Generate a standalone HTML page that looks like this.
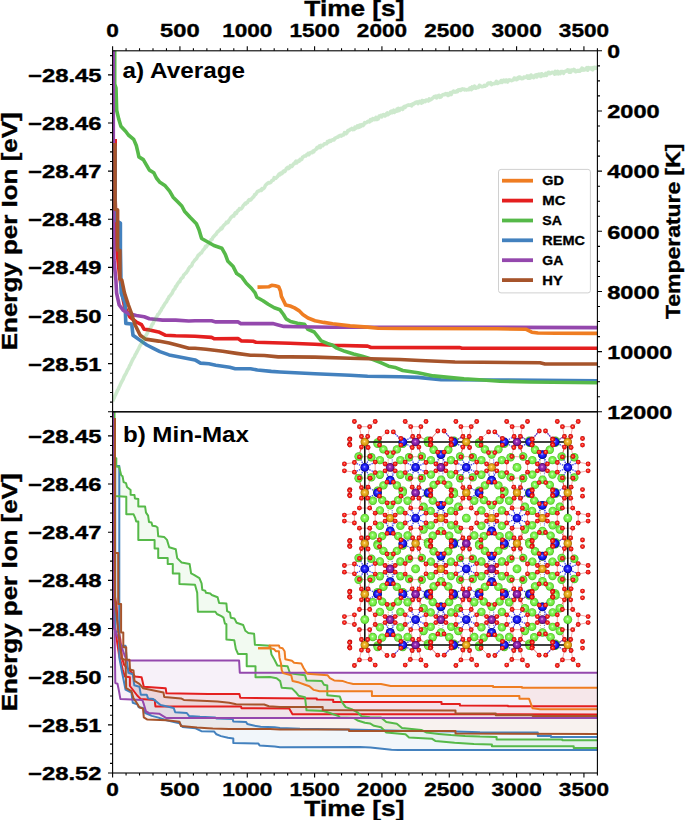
<!DOCTYPE html>
<html><head><meta charset="utf-8"><title>Energy per Ion</title>
<style>
html,body{margin:0;padding:0;background:#fff;}
body{width:685px;height:820px;overflow:hidden;}
svg{display:block;}
text{font-family:"Liberation Sans",sans-serif;font-weight:bold;fill:#000;stroke:#000;stroke-width:0.35px;}
</style></head>
<body>
<svg width="685" height="820" viewBox="0 0 685 820">
<rect x="0" y="0" width="685" height="820" fill="#fff"/>
<defs>
<clipPath id="clipA"><rect x="112.6" y="50.8" width="484.79999999999995" height="361.0"/></clipPath>
<clipPath id="clipB"><rect x="112.6" y="411.8" width="484.79999999999995" height="361.2"/></clipPath>
</defs>
<g clip-path="url(#clipA)">
<polyline points="115.2,139.0 115.2,200.0 117.0,250.0 119.5,275.0 122.5,295.8 124.5,306.3 129.7,316.8 136.3,322.0 141.5,324.7 144.2,329.3 149.4,329.9 158.6,331.9 165.2,335.2 175.7,335.8 195.0,336.3 211.6,337.4 214.4,338.8 238.0,338.6 241.5,340.9 253.3,341.3 256.0,342.3 290.0,343.3 315.0,344.3 332.6,345.2 367.6,346.1 371.1,347.5 460.0,347.6 462.0,348.3 597.4,348.3" fill="none" stroke="#e41f1f" stroke-width="3.6" stroke-linejoin="round" stroke-linecap="butt" />
<polyline points="115.0,146.0 115.0,220.0 120.4,223.0 120.4,249.0 121.2,293.1 125.1,303.7 125.8,323.4 131.7,324.0 133.0,335.2 140.2,340.4 146.8,345.0 153.4,348.3 159.9,351.6 169.1,354.9 179.6,356.9 195.0,359.9 200.5,363.1 208.9,363.8 215.8,365.2 229.7,367.3 235.2,368.7 250.5,368.7 257.4,370.0 271.3,371.4 280.0,372.0 315.0,373.7 350.0,375.3 367.6,376.2 400.0,376.7 418.0,377.4 441.0,379.7 500.0,380.0 597.4,380.8" fill="none" stroke="#4381be" stroke-width="3.6" stroke-linejoin="round" stroke-linecap="butt" />
<polyline points="114.7,40.0 114.7,84.0 116.0,88.0 116.7,110.5 118.8,119.3 120.9,126.3 125.8,131.5 128.4,135.0 133.7,139.4 136.3,145.5 138.0,152.6 138.9,156.9 143.3,159.6 146.8,165.7 149.4,170.1 153.8,172.7 156.4,178.0 159.9,182.3 165.2,185.8 169.6,191.1 173.1,197.2 177.4,201.6 181.8,206.0 184.5,211.2 190.3,217.5 196.4,223.7 199.0,229.8 201.6,238.5 207.8,242.0 213.9,245.5 221.8,248.2 225.3,254.3 227.9,261.3 233.2,266.6 236.7,273.6 241.9,277.1 246.3,283.2 251.6,288.5 255.1,292.9 256.8,297.2 263.0,300.7 268.2,304.2 274.3,307.7 280.0,309.8 283.5,314.5 286.1,318.9 290.5,321.5 297.5,323.3 304.5,324.2 308.0,329.4 314.2,332.0 317.7,336.4 321.2,340.8 327.3,343.4 332.6,345.2 336.1,347.8 344.8,351.3 353.6,353.9 362.3,356.2 371.1,358.9 380.7,362.7 388.6,366.2 395.0,367.4 402.7,370.5 418.0,372.8 433.3,375.9 448.6,377.4 464.0,378.9 479.3,379.7 500.0,381.2 530.0,382.0 597.4,382.8" fill="none" stroke="#56b949" stroke-width="3.6" stroke-linejoin="round" stroke-linecap="butt" />
<polyline points="113.3,40.0 113.3,200.0 114.0,260.0 115.9,280.0 116.6,293.1 119.2,305.0 123.1,310.2 128.4,313.5 136.3,315.5 144.2,316.8 149.4,318.8 162.6,320.1 175.7,320.1 188.8,321.0 195.0,320.8 211.6,320.8 215.8,321.9 238.0,321.9 240.8,323.6 272.7,323.6 278.2,325.0 283.8,326.4 297.5,326.8 332.6,327.3 400.0,327.2 597.4,327.6" fill="none" stroke="#9448ad" stroke-width="3.6" stroke-linejoin="round" stroke-linecap="butt" />
<polyline points="115.0,143.0 115.0,209.3 117.6,210.0 117.6,249.9 119.9,250.5 119.9,279.0 121.8,280.0 124.5,293.1 128.4,305.0 131.7,314.2 135.0,324.7 140.2,335.2 145.5,339.1 158.6,341.1 169.1,343.1 179.6,345.7 188.8,348.3 195.0,348.3 206.1,349.2 222.7,351.3 236.6,353.4 250.5,355.2 264.3,355.5 278.2,356.9 290.0,356.9 315.0,357.1 350.0,358.3 400.0,359.5 420.0,360.5 455.0,362.0 540.0,362.8 545.0,364.0 597.4,364.0" fill="none" stroke="#a6542b" stroke-width="3.6" stroke-linejoin="round" stroke-linecap="butt" />
<polyline points="257.5,287.1 269.1,286.7 271.7,285.3 275.2,285.8 278.7,286.7 280.5,291.1 281.4,296.4 284.0,301.6 285.7,305.1 290.1,306.0 294.5,307.9 298.9,310.6 302.8,314.5 308.0,318.0 315.0,320.7 323.8,322.4 332.6,323.8 350.1,325.9 367.6,327.1 378.1,328.2 400.0,328.5 497.0,328.8 525.7,329.2 531.8,332.2 538.0,333.0 556.0,333.2 597.4,333.4" fill="none" stroke="#ef7d22" stroke-width="3.6" stroke-linejoin="round" stroke-linecap="butt" />
<polyline points="112.6,401.2 113.4,399.3 114.2,397.8 115.0,395.7 115.8,394.3 116.6,392.5 117.4,390.5 118.3,389.1 119.1,387.1 119.9,385.7 120.7,383.7 121.5,382.1 122.3,380.6 123.1,379.3 123.9,377.1 124.7,375.5 125.5,374.2 126.3,372.8 127.1,370.9 128.0,369.2 128.8,368.1 129.6,365.7 130.4,364.8 131.2,362.7 132.0,361.0 132.8,359.4 133.6,358.0 134.4,357.0 135.2,354.8 136.0,353.7 136.8,352.2 137.6,350.4 138.5,349.1 139.3,347.1 140.1,345.6 140.9,344.3 141.7,343.3 142.5,341.5 143.3,340.0 144.1,338.8 144.9,337.2 145.7,335.6 146.5,334.7 147.3,333.2 148.2,331.3 149.0,330.2 149.8,328.8 150.6,327.8 151.4,326.2 152.2,324.3 153.0,323.7 153.8,321.3 154.6,320.3 155.4,319.4 156.2,317.3 157.0,316.4 157.8,314.5 158.7,313.9 159.5,312.7 160.3,311.2 161.1,310.3 161.9,308.2 162.7,307.4 163.5,306.0 164.3,304.7 165.1,303.3 165.9,302.5 166.7,301.4 167.5,299.5 168.4,298.5 169.2,296.4 170.0,296.1 170.8,294.8 171.6,294.0 172.4,292.6 173.2,290.6 174.0,289.5 174.8,288.8 175.6,286.6 176.4,286.1 177.2,284.5 178.0,283.2 178.9,281.9 179.7,281.8 180.5,279.7 181.3,278.7 182.1,277.8 182.9,277.4 183.7,275.0 184.5,274.5 185.3,273.5 186.1,272.9 186.9,271.7 187.7,270.7 188.6,268.6 189.4,267.7 190.2,266.6 191.0,266.3 191.8,265.4 192.6,263.0 193.4,262.0 194.2,261.0 195.0,259.9 195.8,259.3 196.6,258.4 197.4,256.8 198.2,255.3 199.1,255.0 199.9,253.9 200.7,253.2 201.5,252.8 202.3,251.4 203.1,250.1 203.9,249.3 204.7,248.4 205.5,246.3 206.3,246.8 207.1,245.6 207.9,244.8 208.8,243.7 209.6,242.0 210.4,241.0 211.2,239.5 212.0,239.5 212.8,237.6 213.6,236.6 214.4,235.9 215.2,234.9 216.0,234.3 216.8,232.9 217.6,231.8 218.4,231.2 219.3,230.2 220.1,229.8 220.9,228.2 221.7,228.9 222.5,227.6 223.3,225.8 224.1,225.1 224.9,224.4 225.7,223.6 226.5,222.2 227.3,222.8 228.1,222.2 229.0,220.3 229.8,219.5 230.6,217.9 231.4,217.0 232.2,216.7 233.0,215.7 233.8,216.0 234.6,213.8 235.4,212.7 236.2,213.7 237.0,212.1 237.8,210.5 238.6,210.5 239.5,208.6 240.3,208.9 241.1,209.0 241.9,208.0 242.7,206.8 243.5,205.2 244.3,204.6 245.1,203.4 245.9,203.9 246.7,202.6 247.5,202.4 248.3,200.7 249.2,199.7 250.0,200.2 250.8,199.8 251.6,198.8 252.4,197.9 253.2,197.2 254.0,196.3 254.8,194.5 255.6,194.4 256.4,193.3 257.2,191.9 258.0,191.2 258.8,191.0 259.7,190.3 260.5,190.5 261.3,190.4 262.1,188.6 262.9,189.0 263.7,188.4 264.5,187.6 265.3,185.6 266.1,184.6 266.9,184.0 267.7,183.2 268.5,182.6 269.4,182.9 270.2,182.8 271.0,182.0 271.8,180.6 272.6,180.3 273.4,180.0 274.2,177.7 275.0,178.4 275.8,178.3 276.6,177.4 277.4,176.7 278.2,175.4 279.0,174.1 279.9,174.9 280.7,173.2 281.5,173.7 282.3,173.4 283.1,171.5 283.9,170.9 284.7,171.6 285.5,170.5 286.3,168.6 287.1,167.9 287.9,167.3 288.7,168.5 289.6,167.7 290.4,165.6 291.2,166.6 292.0,166.4 292.8,165.0 293.6,163.7 294.4,163.6 295.2,162.1 296.0,161.2 296.8,162.9 297.6,161.6 298.4,160.8 299.2,161.2 300.1,159.4 300.9,159.9 301.7,159.3 302.5,157.3 303.3,156.8 304.1,156.4 304.9,155.7 305.7,156.0 306.5,154.7 307.3,154.6 308.1,153.4 308.9,154.7 309.8,152.9 310.6,152.6 311.4,152.4 312.2,152.7 313.0,151.0 313.8,151.7 314.6,150.2 315.4,149.7 316.2,149.2 317.0,147.5 317.8,148.0 318.6,146.9 319.4,146.0 320.3,147.5 321.1,145.4 321.9,145.7 322.7,145.8 323.5,144.9 324.3,143.9 325.1,143.9 325.9,143.5 326.7,143.6 327.5,141.5 328.3,142.2 329.1,140.9 330.0,140.5 330.8,141.3 331.6,140.2 332.4,139.9 333.2,139.9 334.0,139.9 334.8,138.3 335.6,138.2 336.4,137.5 337.2,137.1 338.0,137.1 338.8,136.1 339.6,135.9 340.5,135.3 341.3,136.1 342.1,135.0 342.9,135.1 343.7,134.8 344.5,132.6 345.3,133.0 346.1,133.6 346.9,132.9 347.7,130.7 348.5,130.2 349.3,130.6 350.2,129.3 351.0,129.3 351.8,128.5 352.6,129.6 353.4,129.5 354.2,129.5 355.0,127.1 355.8,128.2 356.6,127.7 357.4,125.9 358.2,127.5 359.0,127.3 359.8,125.0 360.7,126.5 361.5,124.7 362.3,124.6 363.1,125.5 363.9,124.7 364.7,122.6 365.5,122.9 366.3,122.8 367.1,122.0 367.9,121.2 368.7,121.2 369.5,121.9 370.4,119.7 371.2,120.8 372.0,120.1 372.8,118.6 373.6,119.1 374.4,119.6 375.2,118.9 376.0,117.4 376.8,119.5 377.6,118.6 378.4,118.8 379.2,116.1 380.0,116.2 380.9,115.3 381.7,116.9 382.5,115.2 383.3,114.5 384.1,115.0 384.9,116.0 385.7,115.4 386.5,113.6 387.3,113.0 388.1,114.7 388.9,113.5 389.7,113.5 390.6,111.5 391.4,111.1 392.2,112.6 393.0,111.5 393.8,110.2 394.6,112.3 395.4,111.2 396.2,111.3 397.0,109.1 397.8,110.9 398.6,108.4 399.4,110.3 400.2,108.9 401.1,108.3 401.9,108.6 402.7,109.3 403.5,107.2 404.3,106.5 405.1,107.4 405.9,106.3 406.7,105.6 407.5,105.5 408.3,104.9 409.1,105.1 409.9,105.1 410.8,104.8 411.6,105.8 412.4,104.2 413.2,104.5 414.0,103.3 414.8,103.5 415.6,102.4 416.4,102.7 417.2,101.8 418.0,103.6 418.8,102.8 419.6,101.5 420.4,102.1 421.3,103.1 422.1,100.5 422.9,102.3 423.7,100.9 424.5,100.8 425.3,101.5 426.1,100.0 426.9,100.1 427.7,100.4 428.5,101.0 429.3,98.9 430.1,100.1 431.0,99.5 431.8,99.0 432.6,98.1 433.4,97.7 434.2,96.6 435.0,96.6 435.8,96.2 436.6,97.9 437.4,96.3 438.2,95.8 439.0,95.3 439.8,97.3 440.6,97.1 441.5,96.3 442.3,95.0 443.1,94.6 443.9,94.6 444.7,94.8 445.5,93.7 446.3,94.3 447.1,93.6 447.9,95.4 448.7,95.2 449.5,93.7 450.3,92.7 451.2,94.5 452.0,92.4 452.8,92.3 453.6,91.1 454.4,92.0 455.2,92.1 456.0,91.9 456.8,90.8 457.6,91.5 458.4,89.9 459.2,90.4 460.0,89.7 460.8,90.4 461.7,89.2 462.5,88.9 463.3,89.5 464.1,89.1 464.9,89.9 465.7,89.6 466.5,90.0 467.3,89.6 468.1,89.6 468.9,89.8 469.7,88.2 470.5,87.8 471.4,89.6 472.2,86.9 473.0,88.4 473.8,88.0 474.6,86.1 475.4,88.2 476.2,88.2 477.0,87.2 477.8,87.4 478.6,87.4 479.4,85.3 480.2,86.2 481.0,86.0 481.9,86.8 482.7,86.5 483.5,86.4 484.3,85.5 485.1,86.2 485.9,85.5 486.7,85.3 487.5,83.8 488.3,83.0 489.1,83.2 489.9,83.7 490.7,82.7 491.6,84.7 492.4,83.7 493.2,83.8 494.0,83.6 494.8,83.6 495.6,82.9 496.4,81.3 497.2,83.5 498.0,83.2 498.8,82.3 499.6,82.2 500.4,82.4 501.2,80.5 502.1,82.4 502.9,80.8 503.7,80.1 504.5,80.5 505.3,81.7 506.1,80.0 506.9,81.4 507.7,82.0 508.5,80.4 509.3,79.9 510.1,80.1 510.9,80.5 511.8,80.6 512.6,80.0 513.4,80.0 514.2,78.1 515.0,78.2 515.8,78.4 516.6,79.7 517.4,78.2 518.2,78.9 519.0,77.1 519.8,77.1 520.6,77.6 521.4,78.6 522.3,78.6 523.1,78.4 523.9,77.1 524.7,77.6 525.5,77.3 526.3,77.2 527.1,76.0 527.9,78.2 528.7,76.0 529.5,78.2 530.3,78.0 531.1,75.1 532.0,76.3 532.8,77.2 533.6,77.6 534.4,75.9 535.2,75.2 536.0,74.9 536.8,77.0 537.6,74.6 538.4,75.6 539.2,74.2 540.0,75.2 540.8,76.4 541.6,73.8 542.5,75.7 543.3,74.7 544.1,75.7 544.9,75.0 545.7,73.5 546.5,75.4 547.3,74.0 548.1,72.5 548.9,72.3 549.7,73.7 550.5,73.4 551.3,72.9 552.2,72.3 553.0,72.8 553.8,72.6 554.6,74.1 555.4,71.4 556.2,73.6 557.0,73.7 557.8,71.4 558.6,73.8 559.4,73.0 560.2,73.5 561.0,71.5 561.8,71.7 562.7,71.6 563.5,73.3 564.3,72.0 565.1,71.2 565.9,71.3 566.7,70.7 567.5,69.9 568.3,70.0 569.1,72.1 569.9,70.3 570.7,72.2 571.5,70.0 572.4,70.0 573.2,70.6 574.0,69.5 574.8,70.0 575.6,71.7 576.4,71.4 577.2,71.1 578.0,70.4 578.8,71.2 579.6,71.2 580.4,69.9 581.2,70.3 582.0,68.1 582.9,70.1 583.7,69.2 584.5,70.0 585.3,69.6 586.1,68.4 586.9,67.6 587.7,70.2 588.5,67.6 589.3,68.6 590.1,68.1 590.9,67.9 591.7,69.2 592.6,69.8 593.4,67.5 594.2,68.6 595.0,67.5 595.8,68.2 596.6,67.6 597.4,66.8" fill="none" stroke="#4daf4a" stroke-width="3.6" stroke-linejoin="round" stroke-linecap="butt" stroke-opacity="0.28" stroke-linejoin="miter"/>
</g>
<g clip-path="url(#clipB)">
<polygon points="258.0,648.3 269.5,648.3 269.5,645.4 278.9,645.4 279.7,647.6 282.6,648.3 284.6,651.2 285.3,659.2 291.9,660.7 294.1,662.8 301.4,663.6 303.6,668.0 305.8,671.6 307.2,673.8 327.7,675.3 329.9,678.2 334.2,680.4 343.0,681.1 347.4,682.6 353.2,684.0 381.0,684.1 390.7,685.9 493.1,685.9 493.1,687.0 522.0,687.0 522.0,687.7 597.4,687.7 597.4,709.2 540.0,709.2 532.6,708.3 529.0,698.7 519.4,698.7 519.4,696.0 371.9,696.0 371.9,691.3 319.6,691.3 313.8,689.9 309.4,686.2 305.0,684.7 299.2,682.6 292.6,681.1 291.2,675.3 283.1,673.1 281.7,670.1 281.0,663.6 279.5,657.7 278.9,651.2 276.0,651.2 273.8,649.0 270.2,648.3 258.0,648.3" fill="#ef7d22" fill-opacity="0.075" stroke="none"/>
<polygon points="113.7,468.5 113.7,590.0 116.5,605.0 118.0,627.0 120.4,640.0 121.9,657.5 124.1,664.8 129.9,670.7 135.0,676.5 141.6,677.2 143.8,686.7 165.7,688.2 166.4,693.3 208.0,694.0 239.4,694.0 240.3,697.8 280.0,698.3 316.8,698.5 316.8,699.5 333.2,699.7 333.2,701.9 441.5,701.9 441.5,704.0 459.9,704.0 459.9,705.5 508.0,705.7 508.0,706.2 597.4,706.2 597.4,714.4 292.5,714.3 289.2,708.4 241.5,708.2 241.0,706.6 155.4,706.4 154.7,699.9 140.8,699.1 137.2,695.5 129.9,686.0 129.9,677.2 124.8,676.5 122.6,669.2 119.0,654.6 116.8,640.0 116.0,635.0 114.5,620.0 113.7,600.0 113.7,468.5" fill="#e41f1f" fill-opacity="0.075" stroke="none"/>
<polygon points="114.3,411.8 114.3,458.2 116.3,458.2 116.3,466.5 119.2,467.0 121.2,475.3 122.6,476.3 123.6,482.1 126.0,483.1 127.0,487.0 130.6,490.0 130.6,494.7 134.5,495.1 134.9,498.5 138.3,499.0 138.3,506.6 145.1,506.6 146.0,512.6 148.1,515.6 149.0,522.0 151.5,522.4 152.4,525.8 155.8,526.3 157.5,527.5 158.2,536.2 164.1,536.9 167.0,539.9 169.2,547.2 175.8,549.3 177.2,558.1 181.6,562.5 189.6,563.9 191.1,573.4 194.0,574.9 199.4,578.2 201.6,583.4 202.3,589.9 205.2,590.7 206.0,592.8 210.3,593.6 211.8,595.0 217.6,597.2 219.1,603.1 226.4,603.5 227.1,611.1 230.0,612.6 230.8,617.7 234.4,618.4 236.6,622.8 243.2,625.0 245.4,630.8 248.3,633.0 254.1,633.7 254.9,644.7 270.1,645.8 271.5,654.6 274.5,659.7 277.4,665.5 287.6,666.3 289.8,672.8 293.4,673.8 305.0,675.3 306.5,680.4 321.8,681.1 324.0,684.7 327.3,685.5 327.3,695.3 339.8,696.6 341.8,701.8 345.7,707.1 351.6,709.1 357.5,712.3 361.5,716.3 370.0,717.2 381.0,717.6 386.3,722.0 396.8,723.8 402.0,728.1 421.3,729.9 426.6,732.5 438.8,733.9 451.1,735.1 465.1,736.0 480.0,736.6 496.6,736.9 496.6,739.5 562.3,739.5 562.3,740.2 597.4,740.2 597.4,747.9 573.7,747.9 573.7,746.2 491.9,746.2 491.9,744.5 473.9,743.9 454.6,742.7 435.3,740.9 431.8,738.7 409.0,737.4 405.5,734.3 386.3,732.5 381.0,727.3 374.0,725.8 370.0,723.4 364.9,722.7 357.6,720.5 353.6,717.9 340.1,717.6 338.6,716.1 328.4,712.5 323.4,711.0 306.5,710.3 305.0,697.2 298.5,695.7 296.3,692.8 291.9,688.4 281.7,687.7 280.2,681.1 276.6,678.2 270.0,677.0 255.5,677.2 255.5,666.3 246.7,666.3 246.7,653.9 238.0,653.9 235.8,648.8 234.3,640.3 226.4,639.6 226.4,624.2 224.9,623.5 223.5,617.7 221.3,616.2 216.9,614.0 215.4,611.8 197.9,611.8 197.2,592.8 195.0,584.8 179.4,584.0 179.4,573.4 172.8,573.4 172.8,563.9 167.7,563.9 167.7,558.1 158.2,558.1 158.2,548.6 154.6,548.6 154.6,539.9 138.3,539.9 138.3,521.6 136.2,521.6 135.3,518.2 133.6,514.3 126.3,514.3 126.3,496.8 114.3,496.0 114.3,411.8" fill="#56b949" fill-opacity="0.075" stroke="none"/>
<polygon points="113.5,466.0 119.3,466.0 119.3,645.7 125.5,645.8 127.0,661.9 128.4,672.8 132.8,674.3 134.3,685.3 139.4,686.7 140.8,694.7 146.7,694.7 148.1,698.4 153.3,699.1 160.6,705.0 173.7,707.9 175.2,712.3 186.8,713.0 189.0,715.9 200.0,716.8 215.2,717.4 216.4,718.5 232.7,719.1 233.3,721.5 246.1,722.0 247.3,724.1 251.4,725.0 256.1,726.1 260.7,726.7 274.7,727.3 280.0,727.9 300.0,728.8 349.0,729.4 400.0,730.8 455.0,731.4 480.0,732.3 537.8,732.5 537.8,736.0 551.0,736.0 551.0,736.9 597.4,736.9 597.4,750.0 398.5,750.0 391.5,749.7 370.5,747.4 360.0,746.9 280.0,747.2 274.7,746.6 259.6,745.4 258.4,743.6 233.3,743.1 233.3,738.4 228.0,737.8 221.0,736.1 216.4,734.3 214.0,731.4 201.4,731.2 195.6,728.3 182.5,726.9 179.5,723.2 166.4,720.3 157.6,717.4 151.8,715.9 148.9,714.5 145.2,713.0 143.0,707.9 138.7,707.2 137.2,704.2 132.8,702.8 131.4,692.6 125.5,689.6 122.0,672.0 119.3,657.5 119.0,631.8 115.2,631.8 115.2,466.0" fill="#4381be" fill-opacity="0.075" stroke="none"/>
<polygon points="112.9,411.8 112.9,625.0 117.0,635.0 121.0,645.0 124.5,655.0 127.0,660.6 239.1,660.6 239.8,672.8 597.4,672.8 597.4,718.1 166.4,718.1 159.1,713.7 148.9,713.0 146.0,711.5 143.8,704.2 142.3,699.9 131.4,699.6 120.4,699.1 119.0,691.1 117.5,683.8 115.3,683.1 114.6,631.0 113.3,620.0 112.9,411.8" fill="#9448ad" fill-opacity="0.075" stroke="none"/>
<polygon points="115.0,418.2 115.0,553.0 118.2,553.0 118.2,604.0 121.1,604.0 121.1,632.6 123.3,632.6 123.3,647.3 126.2,647.3 126.5,659.6 129.5,659.8 130.0,669.5 133.5,670.5 134.5,680.9 139.4,683.8 143.0,688.2 163.5,692.6 164.2,696.9 181.0,698.4 183.9,699.9 207.0,701.0 217.5,701.6 229.2,702.8 236.2,704.3 264.2,704.5 268.9,706.3 280.0,706.9 322.7,706.9 322.7,709.9 360.0,710.3 455.5,710.4 455.5,713.4 495.8,713.4 495.8,715.3 532.6,715.3 532.6,715.9 597.4,715.9 597.4,733.9 455.5,733.6 455.5,731.1 349.0,731.1 349.0,729.6 280.0,729.6 270.1,729.1 229.2,729.1 212.8,728.6 208.0,728.3 197.0,727.6 181.0,726.1 179.5,721.8 166.4,720.3 147.4,719.6 143.8,717.4 143.0,708.6 139.4,707.2 135.7,701.3 133.5,698.4 131.4,691.1 126.2,688.2 125.5,660.0 121.9,658.8 119.5,642.0 117.5,623.8 115.0,600.0 115.0,418.2" fill="#a6542b" fill-opacity="0.075" stroke="none"/>
<polyline points="113.7,468.5 113.7,590.0 116.5,605.0 118.0,627.0 120.4,640.0 121.9,657.5 124.1,664.8 129.9,670.7 135.0,676.5 141.6,677.2 143.8,686.7 165.7,688.2 166.4,693.3 208.0,694.0 239.4,694.0 240.3,697.8 280.0,698.3 316.8,698.5 316.8,699.5 333.2,699.7 333.2,701.9 441.5,701.9 441.5,704.0 459.9,704.0 459.9,705.5 508.0,705.7 508.0,706.2 597.4,706.2" fill="none" stroke="#e41f1f" stroke-width="2.0" stroke-linejoin="round" stroke-linecap="butt" stroke-linejoin="miter"/>
<polyline points="113.7,468.5 113.7,600.0 114.5,620.0 116.0,635.0 116.8,640.0 119.0,654.6 122.6,669.2 124.8,676.5 129.9,677.2 129.9,686.0 137.2,695.5 140.8,699.1 154.7,699.9 155.4,706.4 241.0,706.6 241.5,708.2 289.2,708.4 292.5,714.3 597.4,714.4" fill="none" stroke="#e41f1f" stroke-width="2.0" stroke-linejoin="round" stroke-linecap="butt" stroke-linejoin="miter"/>
<polyline points="113.5,466.0 119.3,466.0 119.3,645.7 125.5,645.8 127.0,661.9 128.4,672.8 132.8,674.3 134.3,685.3 139.4,686.7 140.8,694.7 146.7,694.7 148.1,698.4 153.3,699.1 160.6,705.0 173.7,707.9 175.2,712.3 186.8,713.0 189.0,715.9 200.0,716.8 215.2,717.4 216.4,718.5 232.7,719.1 233.3,721.5 246.1,722.0 247.3,724.1 251.4,725.0 256.1,726.1 260.7,726.7 274.7,727.3 280.0,727.9 300.0,728.8 349.0,729.4 400.0,730.8 455.0,731.4 480.0,732.3 537.8,732.5 537.8,736.0 551.0,736.0 551.0,736.9 597.4,736.9" fill="none" stroke="#4381be" stroke-width="2.0" stroke-linejoin="round" stroke-linecap="butt" stroke-linejoin="miter"/>
<polyline points="115.2,466.0 115.2,631.8 119.0,631.8 119.3,657.5 122.0,672.0 125.5,689.6 131.4,692.6 132.8,702.8 137.2,704.2 138.7,707.2 143.0,707.9 145.2,713.0 148.9,714.5 151.8,715.9 157.6,717.4 166.4,720.3 179.5,723.2 182.5,726.9 195.6,728.3 201.4,731.2 214.0,731.4 216.4,734.3 221.0,736.1 228.0,737.8 233.3,738.4 233.3,743.1 258.4,743.6 259.6,745.4 274.7,746.6 280.0,747.2 360.0,746.9 370.5,747.4 391.5,749.7 398.5,750.0 597.4,750.0" fill="none" stroke="#4381be" stroke-width="2.0" stroke-linejoin="round" stroke-linecap="butt" stroke-linejoin="miter"/>
<polyline points="114.3,411.8 114.3,458.2 116.3,458.2 116.3,466.5 119.2,467.0 121.2,475.3 122.6,476.3 123.6,482.1 126.0,483.1 127.0,487.0 130.6,490.0 130.6,494.7 134.5,495.1 134.9,498.5 138.3,499.0 138.3,506.6 145.1,506.6 146.0,512.6 148.1,515.6 149.0,522.0 151.5,522.4 152.4,525.8 155.8,526.3 157.5,527.5 158.2,536.2 164.1,536.9 167.0,539.9 169.2,547.2 175.8,549.3 177.2,558.1 181.6,562.5 189.6,563.9 191.1,573.4 194.0,574.9 199.4,578.2 201.6,583.4 202.3,589.9 205.2,590.7 206.0,592.8 210.3,593.6 211.8,595.0 217.6,597.2 219.1,603.1 226.4,603.5 227.1,611.1 230.0,612.6 230.8,617.7 234.4,618.4 236.6,622.8 243.2,625.0 245.4,630.8 248.3,633.0 254.1,633.7 254.9,644.7 270.1,645.8 271.5,654.6 274.5,659.7 277.4,665.5 287.6,666.3 289.8,672.8 293.4,673.8 305.0,675.3 306.5,680.4 321.8,681.1 324.0,684.7 327.3,685.5 327.3,695.3 339.8,696.6 341.8,701.8 345.7,707.1 351.6,709.1 357.5,712.3 361.5,716.3 370.0,717.2 381.0,717.6 386.3,722.0 396.8,723.8 402.0,728.1 421.3,729.9 426.6,732.5 438.8,733.9 451.1,735.1 465.1,736.0 480.0,736.6 496.6,736.9 496.6,739.5 562.3,739.5 562.3,740.2 597.4,740.2" fill="none" stroke="#56b949" stroke-width="2.0" stroke-linejoin="round" stroke-linecap="butt" stroke-linejoin="miter"/>
<polyline points="114.3,411.8 114.3,496.0 126.3,496.8 126.3,514.3 133.6,514.3 135.3,518.2 136.2,521.6 138.3,521.6 138.3,539.9 154.6,539.9 154.6,548.6 158.2,548.6 158.2,558.1 167.7,558.1 167.7,563.9 172.8,563.9 172.8,573.4 179.4,573.4 179.4,584.0 195.0,584.8 197.2,592.8 197.9,611.8 215.4,611.8 216.9,614.0 221.3,616.2 223.5,617.7 224.9,623.5 226.4,624.2 226.4,639.6 234.3,640.3 235.8,648.8 238.0,653.9 246.7,653.9 246.7,666.3 255.5,666.3 255.5,677.2 270.0,677.0 276.6,678.2 280.2,681.1 281.7,687.7 291.9,688.4 296.3,692.8 298.5,695.7 305.0,697.2 306.5,710.3 323.4,711.0 328.4,712.5 338.6,716.1 340.1,717.6 353.6,717.9 357.6,720.5 364.9,722.7 370.0,723.4 374.0,725.8 381.0,727.3 386.3,732.5 405.5,734.3 409.0,737.4 431.8,738.7 435.3,740.9 454.6,742.7 473.9,743.9 491.9,744.5 491.9,746.2 573.7,746.2 573.7,747.9 597.4,747.9" fill="none" stroke="#56b949" stroke-width="2.0" stroke-linejoin="round" stroke-linecap="butt" stroke-linejoin="miter"/>
<polyline points="112.9,411.8 112.9,625.0 117.0,635.0 121.0,645.0 124.5,655.0 127.0,660.6 239.1,660.6 239.8,672.8 597.4,672.8" fill="none" stroke="#9448ad" stroke-width="2.0" stroke-linejoin="round" stroke-linecap="butt" stroke-linejoin="miter"/>
<polyline points="112.9,411.8 113.3,620.0 114.6,631.0 115.3,683.1 117.5,683.8 119.0,691.1 120.4,699.1 131.4,699.6 142.3,699.9 143.8,704.2 146.0,711.5 148.9,713.0 159.1,713.7 166.4,718.1 597.4,718.1" fill="none" stroke="#9448ad" stroke-width="2.0" stroke-linejoin="round" stroke-linecap="butt" stroke-linejoin="miter"/>
<polyline points="115.0,418.2 115.0,553.0 118.2,553.0 118.2,604.0 121.1,604.0 121.1,632.6 123.3,632.6 123.3,647.3 126.2,647.3 126.5,659.6 129.5,659.8 130.0,669.5 133.5,670.5 134.5,680.9 139.4,683.8 143.0,688.2 163.5,692.6 164.2,696.9 181.0,698.4 183.9,699.9 207.0,701.0 217.5,701.6 229.2,702.8 236.2,704.3 264.2,704.5 268.9,706.3 280.0,706.9 322.7,706.9 322.7,709.9 360.0,710.3 455.5,710.4 455.5,713.4 495.8,713.4 495.8,715.3 532.6,715.3 532.6,715.9 597.4,715.9" fill="none" stroke="#a6542b" stroke-width="2.0" stroke-linejoin="round" stroke-linecap="butt" stroke-linejoin="miter"/>
<polyline points="115.0,418.2 115.0,600.0 117.5,623.8 119.5,642.0 121.9,658.8 125.5,660.0 126.2,688.2 131.4,691.1 133.5,698.4 135.7,701.3 139.4,707.2 143.0,708.6 143.8,717.4 147.4,719.6 166.4,720.3 179.5,721.8 181.0,726.1 197.0,727.6 208.0,728.3 212.8,728.6 229.2,729.1 270.1,729.1 280.0,729.6 349.0,729.6 349.0,731.1 455.5,731.1 455.5,733.6 597.4,733.9" fill="none" stroke="#a6542b" stroke-width="2.0" stroke-linejoin="round" stroke-linecap="butt" stroke-linejoin="miter"/>
<polyline points="258.0,648.3 269.5,648.3 269.5,645.4 278.9,645.4 279.7,647.6 282.6,648.3 284.6,651.2 285.3,659.2 291.9,660.7 294.1,662.8 301.4,663.6 303.6,668.0 305.8,671.6 307.2,673.8 327.7,675.3 329.9,678.2 334.2,680.4 343.0,681.1 347.4,682.6 353.2,684.0 381.0,684.1 390.7,685.9 493.1,685.9 493.1,687.0 522.0,687.0 522.0,687.7 597.4,687.7" fill="none" stroke="#ef7d22" stroke-width="2.0" stroke-linejoin="round" stroke-linecap="butt" stroke-linejoin="miter"/>
<polyline points="258.0,648.3 270.2,648.3 273.8,649.0 276.0,651.2 278.9,651.2 279.5,657.7 281.0,663.6 281.7,670.1 283.1,673.1 291.2,675.3 292.6,681.1 299.2,682.6 305.0,684.7 309.4,686.2 313.8,689.9 319.6,691.3 371.9,691.3 371.9,696.0 519.4,696.0 519.4,698.7 529.0,698.7 532.6,708.3 540.0,709.2 597.4,709.2" fill="none" stroke="#ef7d22" stroke-width="2.0" stroke-linejoin="round" stroke-linecap="butt" stroke-linejoin="miter"/>
</g>
<defs>
<radialGradient id="gO" cx="0.5" cy="0.5" r="0.5" fx="0.45" fy="0.42"><stop offset="0" stop-color="#ffc0b0"/><stop offset="0.3" stop-color="#ff3a2a"/><stop offset="0.75" stop-color="#e81010"/><stop offset="1" stop-color="#a00000"/></radialGradient>
<radialGradient id="gL" cx="0.5" cy="0.5" r="0.5" fx="0.45" fy="0.42"><stop offset="0" stop-color="#eaffdc"/><stop offset="0.3" stop-color="#8cf864"/><stop offset="0.75" stop-color="#6ee83c"/><stop offset="1" stop-color="#44b024"/></radialGradient>
<radialGradient id="gG" cx="0.5" cy="0.5" r="0.5" fx="0.45" fy="0.42"><stop offset="0" stop-color="#fff0b0"/><stop offset="0.3" stop-color="#f0b830"/><stop offset="0.75" stop-color="#d89a10"/><stop offset="1" stop-color="#8a5a00"/></radialGradient>
<radialGradient id="gP" cx="0.5" cy="0.5" r="0.5" fx="0.45" fy="0.42"><stop offset="0" stop-color="#f0b0ff"/><stop offset="0.3" stop-color="#9a30b8"/><stop offset="0.75" stop-color="#7a1898"/><stop offset="1" stop-color="#3a0050"/></radialGradient>
<radialGradient id="gB" cx="0.5" cy="0.5" r="0.5" fx="0.45" fy="0.42"><stop offset="0" stop-color="#b0b0ff"/><stop offset="0.3" stop-color="#3030ff"/><stop offset="0.75" stop-color="#1010e0"/><stop offset="1" stop-color="#000080"/></radialGradient>
</defs>
<g fill="none">
<path stroke="#e85050" stroke-width="0.7" stroke-opacity="0.7" d="M361.4 436.5L359.4 426.7M361.4 436.5L361.4 447.1M359.4 426.7L369.7 426.7M361.4 447.1L359.4 456.9M361.4 487.6L359.4 477.9M361.4 487.6L361.4 498.2M359.4 456.9L354.4 462.5M359.4 456.9L370.1 456.5M359.4 477.9L354.4 472.2M359.4 477.9L370.1 478.2M354.4 462.5L354.4 472.2M354.4 462.5L344.4 464.0M354.4 472.2L344.4 470.8M361.4 498.2L359.4 508.1M361.4 538.0L359.4 528.2M361.4 538.0L361.4 548.6M359.4 508.1L369.7 508.1M359.4 528.2L369.7 528.2M354.4 513.2L354.4 523.0M354.4 513.2L344.4 515.1M354.4 523.0L344.4 521.1M361.4 548.6L359.4 558.4M361.4 589.1L359.4 579.4M361.4 589.1L361.4 599.8M359.4 558.4L354.4 564.0M359.4 558.4L370.1 558.0M359.4 579.4L354.4 573.8M359.4 579.4L370.1 579.8M354.4 564.0L354.4 573.8M354.4 564.0L344.4 565.5M354.4 573.8L344.4 572.2M361.4 599.8L359.4 609.5M361.4 639.5L359.4 629.7M361.4 639.5L361.4 650.1M359.4 609.5L369.7 609.5M359.4 629.7L369.7 629.7M354.4 614.8L354.4 624.5M354.4 614.8L344.4 616.6M354.4 624.5L344.4 622.6M361.4 650.1L359.4 659.9M359.4 659.9L354.4 665.5M359.4 659.9L370.1 659.5M367.7 436.5L369.7 426.7M367.7 436.5L368.1 447.5M412.7 436.5L410.7 426.7M412.7 436.5L412.2 447.5M379.5 438.5L387.1 431.9M400.9 438.5L393.3 431.9M369.7 426.7L375.2 421.5M410.7 426.7L405.2 421.5M410.7 426.7L420.9 426.7M368.1 447.5L370.1 456.5M412.2 447.5L410.3 456.5M368.1 487.2L370.1 478.2M368.1 487.2L367.7 498.2M412.2 487.2L410.3 478.2M412.2 487.2L412.7 498.2M379.5 445.1L387.0 452.6M400.9 445.1L393.4 452.6M379.5 489.6L387.0 482.2M400.9 489.6L393.4 482.2M410.3 456.5L405.2 462.1M410.3 456.5L420.9 456.9M370.1 456.5L375.2 462.1M410.3 478.2L405.2 472.6M410.3 478.2L420.9 477.9M370.1 478.2L375.2 472.6M375.2 462.1L375.2 472.6M375.2 462.1L385.1 464.0M405.2 462.1L405.2 472.6M405.2 462.1L395.2 464.0M375.2 472.6L385.1 470.8M405.2 472.6L395.2 470.8M385.1 464.0L395.2 464.0M385.1 470.8L395.2 470.8M367.7 498.2L369.7 508.1M412.7 498.2L410.7 508.1M367.7 538.0L369.7 528.2M367.7 538.0L368.1 549.0M412.7 538.0L410.7 528.2M412.7 538.0L412.2 549.0M379.5 496.2L387.1 502.9M400.9 496.2L393.3 502.9M379.5 540.0L387.1 533.4M400.9 540.0L393.3 533.4M369.7 508.1L375.2 513.2M410.7 508.1L405.2 513.2M410.7 508.1L420.9 508.1M369.7 528.2L375.2 523.0M410.7 528.2L405.2 523.0M410.7 528.2L420.9 528.2M375.2 513.2L375.2 523.0M375.2 513.2L385.1 515.1M405.2 513.2L405.2 523.0M405.2 513.2L395.2 515.1M375.2 523.0L385.1 521.1M405.2 523.0L395.2 521.1M385.1 515.1L395.2 515.1M385.1 521.1L395.2 521.1M368.1 549.0L370.1 558.0M412.2 549.0L410.3 558.0M368.1 588.8L370.1 579.8M368.1 588.8L367.7 599.8M412.2 588.8L410.3 579.8M412.2 588.8L412.7 599.8M379.5 546.6L387.0 554.0M400.9 546.6L393.4 554.0M379.5 591.1L387.0 583.7M400.9 591.1L393.4 583.7M410.3 558.0L405.2 563.6M410.3 558.0L420.9 558.4M370.1 558.0L375.2 563.6M410.3 579.8L405.2 574.1M410.3 579.8L420.9 579.4M370.1 579.8L375.2 574.1M375.2 563.6L375.2 574.1M375.2 563.6L385.1 565.5M405.2 563.6L405.2 574.1M405.2 563.6L395.2 565.5M375.2 574.1L385.1 572.2M405.2 574.1L395.2 572.2M385.1 565.5L395.2 565.5M385.1 572.2L395.2 572.2M367.7 599.8L369.7 609.5M412.7 599.8L410.7 609.5M367.7 639.5L369.7 629.7M367.7 639.5L368.1 650.5M412.7 639.5L410.7 629.7M412.7 639.5L412.2 650.5M379.5 597.8L387.1 604.4M400.9 597.8L393.3 604.4M379.5 641.5L387.1 634.9M400.9 641.5L393.3 634.9M369.7 609.5L375.2 614.8M410.7 609.5L405.2 614.8M410.7 609.5L420.9 609.5M369.7 629.7L375.2 624.5M410.7 629.7L405.2 624.5M410.7 629.7L420.9 629.7M375.2 614.8L375.2 624.5M375.2 614.8L385.1 616.6M405.2 614.8L405.2 624.5M405.2 614.8L395.2 616.6M375.2 624.5L385.1 622.6M405.2 624.5L395.2 622.6M385.1 616.6L395.2 616.6M385.1 622.6L395.2 622.6M368.1 650.5L370.1 659.5M412.2 650.5L410.3 659.5M379.5 648.1L387.0 655.5M400.9 648.1L393.4 655.5M410.3 659.5L405.2 665.1M410.3 659.5L420.9 659.9M370.1 659.5L375.2 665.1M418.9 436.5L420.9 426.7M418.9 436.5L418.9 447.1M462.9 436.5L460.9 426.7M462.9 436.5L462.9 447.1M430.8 444.2L437.7 452.2M451.1 444.2L444.2 452.2M437.8 431.0L430.4 438.9M437.8 431.0L430.8 439.6M444.1 431.0L451.4 438.9M444.1 431.0L451.1 439.6M460.9 426.7L471.2 426.7M418.9 447.1L420.9 456.9M462.9 447.1L460.9 456.9M418.9 487.6L420.9 477.9M418.9 487.6L418.9 498.2M462.9 487.6L460.9 477.9M462.9 487.6L462.9 498.2M430.8 495.1L437.8 503.8M451.1 495.1L444.1 503.8M420.9 456.9L426.0 462.5M460.9 456.9L455.9 462.5M460.9 456.9L471.6 456.5M420.9 477.9L426.0 472.2M460.9 477.9L455.9 472.2M460.9 477.9L471.6 478.2M426.0 462.5L426.0 472.2M426.0 462.5L435.9 464.0M455.9 462.5L455.9 472.2M455.9 462.5L445.9 464.0M426.0 472.2L435.9 470.8M455.9 472.2L445.9 470.8M435.9 464.0L445.9 464.0M435.9 470.8L445.9 470.8M430.4 489.6L437.7 482.6M451.4 489.6L444.2 482.6M430.4 445.1L437.7 452.2M451.4 445.1L444.2 452.2M444.2 482.6L451.1 490.6M437.7 482.6L430.8 490.6M418.9 498.2L420.9 508.1M462.9 498.2L460.9 508.1M418.9 538.0L420.9 528.2M418.9 538.0L418.9 548.6M462.9 538.0L460.9 528.2M462.9 538.0L462.9 548.6M430.8 545.7L437.7 553.7M451.1 545.7L444.2 553.7M437.8 503.8L430.4 495.8M444.1 503.8L451.4 495.8M437.8 532.5L430.4 540.5M437.8 532.5L430.8 541.1M444.1 532.5L451.4 540.5M444.1 532.5L451.1 541.1M460.9 508.1L471.2 508.1M460.9 528.2L471.2 528.2M426.0 513.2L426.0 523.0M426.0 513.2L435.9 515.1M455.9 513.2L455.9 523.0M455.9 513.2L445.9 515.1M426.0 523.0L435.9 521.1M455.9 523.0L445.9 521.1M435.9 515.1L445.9 515.1M435.9 521.1L445.9 521.1M418.9 548.6L420.9 558.4M462.9 548.6L460.9 558.4M418.9 589.1L420.9 579.4M418.9 589.1L418.9 599.8M462.9 589.1L460.9 579.4M462.9 589.1L462.9 599.8M430.8 596.6L437.8 605.2M451.1 596.6L444.1 605.2M420.9 558.4L426.0 564.0M460.9 558.4L455.9 564.0M460.9 558.4L471.6 558.0M420.9 579.4L426.0 573.8M460.9 579.4L455.9 573.8M460.9 579.4L471.6 579.8M426.0 564.0L426.0 573.8M426.0 564.0L435.9 565.5M455.9 564.0L455.9 573.8M455.9 564.0L445.9 565.5M426.0 573.8L435.9 572.2M455.9 573.8L445.9 572.2M435.9 565.5L445.9 565.5M435.9 572.2L445.9 572.2M430.4 591.1L437.7 584.0M451.4 591.1L444.2 584.0M430.4 546.6L437.7 553.7M451.4 546.6L444.2 553.7M444.2 584.0L451.1 592.0M437.7 584.0L430.8 592.0M418.9 599.8L420.9 609.5M462.9 599.8L460.9 609.5M418.9 639.5L420.9 629.7M418.9 639.5L418.9 650.1M462.9 639.5L460.9 629.7M462.9 639.5L462.9 650.1M430.8 647.2L437.7 655.2M451.1 647.2L444.2 655.2M437.8 605.2L430.4 597.3M444.1 605.2L451.4 597.3M437.8 634.0L430.4 642.0M437.8 634.0L430.8 642.6M444.1 634.0L451.4 642.0M444.1 634.0L451.1 642.6M460.9 609.5L471.2 609.5M460.9 629.7L471.2 629.7M426.0 614.8L426.0 624.5M426.0 614.8L435.9 616.6M455.9 614.8L455.9 624.5M455.9 614.8L445.9 616.6M426.0 624.5L435.9 622.6M455.9 624.5L445.9 622.6M435.9 616.6L445.9 616.6M435.9 622.6L445.9 622.6M418.9 650.1L420.9 659.9M462.9 650.1L460.9 659.9M420.9 659.9L426.0 665.5M460.9 659.9L455.9 665.5M460.9 659.9L471.6 659.5M430.4 648.1L437.7 655.2M451.4 648.1L444.2 655.2M469.2 436.5L471.2 426.7M469.2 436.5L469.6 447.5M514.1 436.5L512.1 426.7M514.1 436.5L513.8 447.5M481.0 438.5L488.6 431.9M502.4 438.5L494.8 431.9M471.2 426.7L476.7 421.5M512.1 426.7L506.7 421.5M512.1 426.7L522.4 426.7M469.6 447.5L471.6 456.5M513.8 447.5L511.8 456.5M469.6 487.2L471.6 478.2M469.6 487.2L469.2 498.2M513.8 487.2L511.8 478.2M513.8 487.2L514.1 498.2M481.0 445.1L488.5 452.6M502.4 445.1L494.9 452.6M481.0 489.6L488.5 482.2M502.4 489.6L494.9 482.2M511.8 456.5L506.7 462.1M511.8 456.5L522.4 456.9M471.6 456.5L476.7 462.1M511.8 478.2L506.7 472.6M511.8 478.2L522.4 477.9M471.6 478.2L476.7 472.6M476.7 462.1L476.7 472.6M476.7 462.1L486.6 464.0M506.7 462.1L506.7 472.6M506.7 462.1L496.8 464.0M476.7 472.6L486.6 470.8M506.7 472.6L496.8 470.8M486.6 464.0L496.8 464.0M486.6 470.8L496.8 470.8M469.2 498.2L471.2 508.1M514.1 498.2L512.1 508.1M469.2 538.0L471.2 528.2M469.2 538.0L469.6 549.0M514.1 538.0L512.1 528.2M514.1 538.0L513.8 549.0M481.0 496.2L488.6 502.9M502.4 496.2L494.8 502.9M481.0 540.0L488.6 533.4M502.4 540.0L494.8 533.4M471.2 508.1L476.7 513.2M512.1 508.1L506.7 513.2M512.1 508.1L522.4 508.1M471.2 528.2L476.7 523.0M512.1 528.2L506.7 523.0M512.1 528.2L522.4 528.2M476.7 513.2L476.7 523.0M476.7 513.2L486.6 515.1M506.7 513.2L506.7 523.0M506.7 513.2L496.8 515.1M476.7 523.0L486.6 521.1M506.7 523.0L496.8 521.1M486.6 515.1L496.8 515.1M486.6 521.1L496.8 521.1M469.6 549.0L471.6 558.0M513.8 549.0L511.8 558.0M469.6 588.8L471.6 579.8M469.6 588.8L469.2 599.8M513.8 588.8L511.8 579.8M513.8 588.8L514.1 599.8M481.0 546.6L488.5 554.0M502.4 546.6L494.9 554.0M481.0 591.1L488.5 583.7M502.4 591.1L494.9 583.7M511.8 558.0L506.7 563.6M511.8 558.0L522.4 558.4M471.6 558.0L476.7 563.6M511.8 579.8L506.7 574.1M511.8 579.8L522.4 579.4M471.6 579.8L476.7 574.1M476.7 563.6L476.7 574.1M476.7 563.6L486.6 565.5M506.7 563.6L506.7 574.1M506.7 563.6L496.8 565.5M476.7 574.1L486.6 572.2M506.7 574.1L496.8 572.2M486.6 565.5L496.8 565.5M486.6 572.2L496.8 572.2M469.2 599.8L471.2 609.5M514.1 599.8L512.1 609.5M469.2 639.5L471.2 629.7M469.2 639.5L469.6 650.5M514.1 639.5L512.1 629.7M514.1 639.5L513.8 650.5M481.0 597.8L488.6 604.4M502.4 597.8L494.8 604.4M481.0 641.5L488.6 634.9M502.4 641.5L494.8 634.9M471.2 609.5L476.7 614.8M512.1 609.5L506.7 614.8M512.1 609.5L522.4 609.5M471.2 629.7L476.7 624.5M512.1 629.7L506.7 624.5M512.1 629.7L522.4 629.7M476.7 614.8L476.7 624.5M476.7 614.8L486.6 616.6M506.7 614.8L506.7 624.5M506.7 614.8L496.8 616.6M476.7 624.5L486.6 622.6M506.7 624.5L496.8 622.6M486.6 616.6L496.8 616.6M486.6 622.6L496.8 622.6M469.6 650.5L471.6 659.5M513.8 650.5L511.8 659.5M481.0 648.1L488.5 655.5M502.4 648.1L494.9 655.5M511.8 659.5L506.7 665.1M511.8 659.5L522.4 659.9M471.6 659.5L476.7 665.1M520.4 436.5L522.4 426.7M520.4 436.5L520.4 447.1M564.4 436.5L562.4 426.7M564.4 436.5L564.4 447.1M532.3 444.2L539.1 452.2M552.5 444.2L545.7 452.2M539.3 431.0L531.9 438.9M539.3 431.0L532.3 439.6M545.5 431.0L552.9 438.9M545.5 431.0L552.5 439.6M562.4 426.7L572.7 426.7M520.4 447.1L522.4 456.9M564.4 447.1L562.4 456.9M520.4 487.6L522.4 477.9M520.4 487.6L520.4 498.2M564.4 487.6L562.4 477.9M564.4 487.6L564.4 498.2M532.3 495.1L539.3 503.8M552.5 495.1L545.5 503.8M522.4 456.9L527.5 462.5M562.4 456.9L557.3 462.5M562.4 456.9L573.0 456.5M522.4 477.9L527.5 472.2M562.4 477.9L557.3 472.2M562.4 477.9L573.0 478.2M527.5 462.5L527.5 472.2M527.5 462.5L537.4 464.0M557.3 462.5L557.3 472.2M557.3 462.5L547.4 464.0M527.5 472.2L537.4 470.8M557.3 472.2L547.4 470.8M537.4 464.0L547.4 464.0M537.4 470.8L547.4 470.8M531.9 489.6L539.1 482.6M552.9 489.6L545.7 482.6M531.9 445.1L539.1 452.2M552.9 445.1L545.7 452.2M545.7 482.6L552.5 490.6M539.1 482.6L532.3 490.6M520.4 498.2L522.4 508.1M564.4 498.2L562.4 508.1M520.4 538.0L522.4 528.2M520.4 538.0L520.4 548.6M564.4 538.0L562.4 528.2M564.4 538.0L564.4 548.6M532.3 545.7L539.1 553.7M552.5 545.7L545.7 553.7M539.3 503.8L531.9 495.8M545.5 503.8L552.9 495.8M539.3 532.5L531.9 540.5M539.3 532.5L532.3 541.1M545.5 532.5L552.9 540.5M545.5 532.5L552.5 541.1M562.4 508.1L572.7 508.1M562.4 528.2L572.7 528.2M527.5 513.2L527.5 523.0M527.5 513.2L537.4 515.1M557.3 513.2L557.3 523.0M557.3 513.2L547.4 515.1M527.5 523.0L537.4 521.1M557.3 523.0L547.4 521.1M537.4 515.1L547.4 515.1M537.4 521.1L547.4 521.1M520.4 548.6L522.4 558.4M564.4 548.6L562.4 558.4M520.4 589.1L522.4 579.4M520.4 589.1L520.4 599.8M564.4 589.1L562.4 579.4M564.4 589.1L564.4 599.8M532.3 596.6L539.3 605.2M552.5 596.6L545.5 605.2M522.4 558.4L527.5 564.0M562.4 558.4L557.3 564.0M562.4 558.4L573.0 558.0M522.4 579.4L527.5 573.8M562.4 579.4L557.3 573.8M562.4 579.4L573.0 579.8M527.5 564.0L527.5 573.8M527.5 564.0L537.4 565.5M557.3 564.0L557.3 573.8M557.3 564.0L547.4 565.5M527.5 573.8L537.4 572.2M557.3 573.8L547.4 572.2M537.4 565.5L547.4 565.5M537.4 572.2L547.4 572.2M531.9 591.1L539.1 584.0M552.9 591.1L545.7 584.0M531.9 546.6L539.1 553.7M552.9 546.6L545.7 553.7M545.7 584.0L552.5 592.0M539.1 584.0L532.3 592.0M520.4 599.8L522.4 609.5M564.4 599.8L562.4 609.5M520.4 639.5L522.4 629.7M520.4 639.5L520.4 650.1M564.4 639.5L562.4 629.7M564.4 639.5L564.4 650.1M532.3 647.2L539.1 655.2M552.5 647.2L545.7 655.2M539.3 605.2L531.9 597.3M545.5 605.2L552.9 597.3M539.3 634.0L531.9 642.0M539.3 634.0L532.3 642.6M545.5 634.0L552.9 642.0M545.5 634.0L552.5 642.6M562.4 609.5L572.7 609.5M562.4 629.7L572.7 629.7M527.5 614.8L527.5 624.5M527.5 614.8L537.4 616.6M557.3 614.8L557.3 624.5M557.3 614.8L547.4 616.6M527.5 624.5L537.4 622.6M557.3 624.5L547.4 622.6M537.4 616.6L547.4 616.6M537.4 622.6L547.4 622.6M520.4 650.1L522.4 659.9M564.4 650.1L562.4 659.9M522.4 659.9L527.5 665.5M562.4 659.9L557.3 665.5M562.4 659.9L573.0 659.5M531.9 648.1L539.1 655.2M552.9 648.1L545.7 655.2M570.7 436.5L572.7 426.7M570.7 436.5L571.1 447.5M572.7 426.7L578.2 421.5M571.1 447.5L573.0 456.5M571.1 487.2L573.0 478.2M571.1 487.2L570.7 498.2M573.0 456.5L578.2 462.1M573.0 478.2L578.2 472.6M578.2 462.1L578.2 472.6M578.2 462.1L588.1 464.0M578.2 472.6L588.1 470.8M570.7 498.2L572.7 508.1M570.7 538.0L572.7 528.2M570.7 538.0L571.1 549.0M572.7 508.1L578.2 513.2M572.7 528.2L578.2 523.0M578.2 513.2L578.2 523.0M578.2 513.2L588.1 515.1M578.2 523.0L588.1 521.1M571.1 549.0L573.0 558.0M571.1 588.8L573.0 579.8M571.1 588.8L570.7 599.8M573.0 558.0L578.2 563.6M573.0 579.8L578.2 574.1M578.2 563.6L578.2 574.1M578.2 563.6L588.1 565.5M578.2 574.1L588.1 572.2M570.7 599.8L572.7 609.5M570.7 639.5L572.7 629.7M570.7 639.5L571.1 650.5M572.7 609.5L578.2 614.8M572.7 629.7L578.2 624.5M578.2 614.8L578.2 624.5M578.2 614.8L588.1 616.6M578.2 624.5L588.1 622.6M571.1 650.5L573.0 659.5M573.0 659.5L578.2 665.1"/>
<path stroke="#5ad04a" stroke-width="0.9" stroke-opacity="0.85" d="M358.6 456.5L360.0 451.8M358.6 456.5L356.5 459.5M358.6 478.2L360.0 482.9M358.6 478.2L356.5 475.2M358.6 558.0L360.0 553.3M358.6 558.0L356.5 561.0M358.6 579.8L360.0 584.5M358.6 579.8L356.5 576.8M371.3 457.3L373.2 459.7M409.1 457.3L407.1 459.7M371.3 477.4L373.2 475.0M409.1 477.4L407.1 475.0M396.9 449.4L398.9 447.2M396.9 449.4L395.1 451.0M383.4 449.4L381.5 447.2M383.4 449.4L385.2 451.0M396.9 485.4L398.9 487.5M396.9 485.4L395.1 483.8M383.4 485.4L381.5 487.5M383.4 485.4L385.2 483.8M400.4 474.7L402.8 473.7M400.4 474.7L397.8 472.7M379.9 474.7L377.6 473.7M379.9 474.7L382.5 472.7M400.4 460.1L402.8 461.1M400.4 460.1L397.8 462.0M379.9 460.1L377.6 461.1M379.9 460.1L382.5 462.0M402.8 490.8L401.8 493.5M377.6 490.8L378.5 493.5M402.8 443.9L401.8 441.2M377.6 443.9L378.5 441.2M398.1 500.1L399.5 498.2M398.1 500.1L395.7 501.5M382.2 500.1L380.9 498.2M382.2 500.1L384.6 501.5M398.1 536.1L399.5 538.0M398.1 536.1L395.7 534.7M382.2 536.1L380.9 538.0M382.2 536.1L384.6 534.7M379.9 525.9L377.6 524.4M379.9 525.9L382.5 523.5M400.4 525.9L402.8 524.4M400.4 525.9L397.9 523.5M379.9 510.4L377.6 511.8M379.9 510.4L382.5 512.8M400.4 510.4L402.8 511.8M400.4 510.4L397.9 512.8M372.8 500.8L370.2 499.5M372.8 500.8L376.1 498.5M372.8 500.8L371.2 504.4M407.6 500.8L410.1 499.5M407.6 500.8L404.2 498.5M407.6 500.8L409.1 504.4M372.8 535.5L370.2 536.8M372.8 535.5L376.1 537.8M372.8 535.5L371.2 531.9M407.6 535.5L410.1 536.8M407.6 535.5L404.2 537.8M407.6 535.5L409.1 531.9M371.3 558.8L373.2 561.2M409.1 558.8L407.1 561.2M371.3 579.0L373.2 576.5M409.1 579.0L407.1 576.5M396.9 550.9L398.9 548.8M396.9 550.9L395.1 552.5M383.4 550.9L381.5 548.8M383.4 550.9L385.2 552.5M396.9 586.9L398.9 589.0M396.9 586.9L395.1 585.3M383.4 586.9L381.5 589.0M383.4 586.9L385.2 585.3M400.4 576.2L402.8 575.2M400.4 576.2L397.8 574.2M379.9 576.2L377.6 575.2M379.9 576.2L382.5 574.2M400.4 561.5L402.8 562.6M400.4 561.5L397.8 563.5M379.9 561.5L377.6 562.6M379.9 561.5L382.5 563.5M402.8 592.3L401.8 595.0M377.6 592.3L378.5 595.0M402.8 545.5L401.8 542.7M377.6 545.5L378.5 542.7M398.1 601.6L399.5 599.7M398.1 601.6L395.7 603.0M382.2 601.6L380.9 599.7M382.2 601.6L384.6 603.0M398.1 637.6L399.5 639.5M398.1 637.6L395.7 636.2M382.2 637.6L380.9 639.5M382.2 637.6L384.6 636.2M379.9 627.4L377.6 625.9M379.9 627.4L382.5 625.0M400.4 627.4L402.8 625.9M400.4 627.4L397.9 625.0M379.9 611.9L377.6 613.3M379.9 611.9L382.5 614.3M400.4 611.9L402.8 613.3M400.4 611.9L397.9 614.3M372.8 602.2L370.2 601.0M372.8 602.2L376.1 600.0M372.8 602.2L371.2 605.9M407.6 602.2L410.1 601.0M407.6 602.2L404.2 600.0M407.6 602.2L409.1 605.9M372.8 637.0L370.2 638.2M372.8 637.0L376.1 639.2M372.8 637.0L371.2 633.4M407.6 637.0L410.1 638.2M407.6 637.0L404.2 639.2M407.6 637.0L409.1 633.4M402.8 647.0L401.8 644.2M377.6 647.0L378.5 644.2M454.0 440.8L458.5 438.6M454.0 440.8L452.5 442.5M454.0 440.8L452.7 443.0M427.9 440.8L423.4 438.6M427.9 440.8L429.3 442.5M427.9 440.8L429.1 443.0M428.1 442.8L429.2 440.9M453.8 442.8L452.6 440.9M428.1 491.9L429.2 493.9M453.8 491.9L452.6 493.9M433.6 449.8L432.2 447.0M433.6 449.8L432.0 447.5M433.6 449.8L435.6 451.0M448.3 449.8L449.7 447.0M448.3 449.8L449.9 447.5M448.3 449.8L446.2 451.0M433.6 484.9L432.0 487.3M433.6 484.9L435.6 483.8M433.6 484.9L432.2 487.8M448.3 484.9L449.9 487.3M448.3 484.9L446.2 483.8M448.3 484.9L449.7 487.8M421.8 456.5L420.3 451.8M421.8 456.5L423.9 459.5M460.1 456.5L461.5 451.8M460.1 456.5L458.0 459.5M421.8 478.2L420.3 482.9M421.8 478.2L423.9 475.2M460.1 478.2L461.5 482.9M460.1 478.2L458.0 475.2M430.9 460.1L428.4 461.3M430.9 460.1L433.4 462.1M451.0 460.1L453.4 461.3M451.0 460.1L448.5 462.1M430.9 474.6L428.4 473.4M430.9 474.6L433.4 472.7M451.0 474.6L453.4 473.4M451.0 474.6L448.5 472.7M432.7 500.6L431.8 497.9M432.7 500.6L435.2 502.1M432.7 500.6L431.6 498.2M449.2 500.6L450.1 497.9M449.2 500.6L446.6 502.1M449.2 500.6L450.3 498.2M432.7 535.7L435.2 534.1M432.7 535.7L431.6 538.1M432.7 535.7L431.8 538.4M449.2 535.7L446.6 534.1M449.2 535.7L450.3 538.1M449.2 535.7L450.1 538.4M454.0 493.9L452.7 491.8M454.0 493.9L458.5 496.1M454.0 493.9L452.5 492.2M427.9 493.9L429.1 491.8M427.9 493.9L423.4 496.1M427.9 493.9L429.3 492.2M454.0 542.3L458.5 540.1M454.0 542.3L452.5 544.0M454.0 542.3L452.7 544.5M427.9 542.3L423.4 540.1M427.9 542.3L429.3 544.0M427.9 542.3L429.1 544.5M451.2 510.9L453.5 512.0M451.2 510.9L448.6 513.0M430.7 510.9L428.3 512.0M430.7 510.9L433.3 513.0M451.2 525.4L453.5 524.2M451.2 525.4L448.6 523.2M430.7 525.4L428.3 524.2M430.7 525.4L433.3 523.2M423.6 506.8L421.2 502.5M423.6 506.8L424.8 510.0M458.3 506.8L460.6 502.5M458.3 506.8L457.1 510.0M423.6 529.5L421.2 533.8M423.6 529.5L424.8 526.2M458.3 529.5L460.6 533.8M458.3 529.5L457.1 526.2M428.1 544.3L429.2 542.4M453.8 544.3L452.6 542.4M428.1 593.5L429.2 595.4M453.8 593.5L452.6 595.4M433.6 551.3L432.2 548.5M433.6 551.3L432.0 549.0M433.6 551.3L435.6 552.5M448.3 551.3L449.7 548.5M448.3 551.3L449.9 549.0M448.3 551.3L446.2 552.5M433.6 586.5L432.0 588.8M433.6 586.5L435.6 585.2M433.6 586.5L432.2 589.2M448.3 586.5L449.9 588.8M448.3 586.5L446.2 585.2M448.3 586.5L449.7 589.2M421.8 558.0L420.3 553.3M421.8 558.0L423.9 561.0M460.1 558.0L461.5 553.3M460.1 558.0L458.0 561.0M421.8 579.8L420.3 584.5M421.8 579.8L423.9 576.8M460.1 579.8L461.5 584.5M460.1 579.8L458.0 576.8M430.9 561.6L428.4 562.8M430.9 561.6L433.4 563.5M451.0 561.6L453.4 562.8M451.0 561.6L448.5 563.5M430.9 576.1L428.4 575.0M430.9 576.1L433.4 574.2M451.0 576.1L453.4 575.0M451.0 576.1L448.5 574.2M432.7 602.0L431.8 599.3M432.7 602.0L435.2 603.6M432.7 602.0L431.6 599.7M449.2 602.0L450.1 599.3M449.2 602.0L446.6 603.6M449.2 602.0L450.3 599.7M432.7 637.2L435.2 635.6M432.7 637.2L431.6 639.6M432.7 637.2L431.8 639.9M449.2 637.2L446.6 635.6M449.2 637.2L450.3 639.6M449.2 637.2L450.1 639.9M454.0 595.5L452.7 593.3M454.0 595.5L458.5 597.6M454.0 595.5L452.5 593.8M427.9 595.5L429.1 593.3M427.9 595.5L423.4 597.6M427.9 595.5L429.3 593.8M454.0 643.8L458.5 641.6M454.0 643.8L452.5 645.5M454.0 643.8L452.7 646.0M427.9 643.8L423.4 641.6M427.9 643.8L429.3 645.5M427.9 643.8L429.1 646.0M451.2 612.4L453.5 613.5M451.2 612.4L448.6 614.5M430.7 612.4L428.3 613.5M430.7 612.4L433.3 614.5M451.2 626.9L453.5 625.7M451.2 626.9L448.6 624.8M430.7 626.9L428.3 625.7M430.7 626.9L433.3 624.8M423.6 608.2L421.2 604.0M423.6 608.2L424.8 611.5M458.3 608.2L460.6 604.0M458.3 608.2L457.1 611.5M423.6 631.0L421.2 635.2M423.6 631.0L424.8 627.8M458.3 631.0L460.6 635.2M458.3 631.0L457.1 627.8M428.1 645.8L429.2 643.9M453.8 645.8L452.6 643.9M472.8 457.3L474.8 459.7M510.6 457.3L508.6 459.7M472.8 477.4L474.8 475.0M510.6 477.4L508.6 475.0M498.4 449.4L500.4 447.2M498.4 449.4L496.6 451.0M484.9 449.4L483.0 447.2M484.9 449.4L486.7 451.0M498.4 485.4L500.4 487.5M498.4 485.4L496.6 483.8M484.9 485.4L483.0 487.5M484.9 485.4L486.7 483.8M501.9 474.7L504.3 473.7M501.9 474.7L499.3 472.7M481.4 474.7L479.1 473.7M481.4 474.7L484.0 472.7M501.9 460.1L504.3 461.1M501.9 460.1L499.3 462.0M481.4 460.1L479.1 461.1M481.4 460.1L484.0 462.0M504.3 490.8L503.3 493.5M479.1 490.8L480.0 493.5M504.3 443.9L503.3 441.2M479.1 443.9L480.0 441.2M499.6 500.1L501.0 498.2M499.6 500.1L497.2 501.5M483.8 500.1L482.4 498.2M483.8 500.1L486.1 501.5M499.6 536.1L501.0 538.0M499.6 536.1L497.2 534.7M483.8 536.1L482.4 538.0M483.8 536.1L486.1 534.7M481.4 525.9L479.1 524.4M481.4 525.9L484.0 523.5M501.9 525.9L504.3 524.4M501.9 525.9L499.4 523.5M481.4 510.4L479.1 511.8M481.4 510.4L484.0 512.8M501.9 510.4L504.3 511.8M501.9 510.4L499.4 512.8M474.3 500.8L471.8 499.5M474.3 500.8L477.6 498.5M474.3 500.8L472.8 504.4M509.1 500.8L511.6 499.5M509.1 500.8L505.7 498.5M509.1 500.8L510.6 504.4M474.3 535.5L471.8 536.8M474.3 535.5L477.6 537.8M474.3 535.5L472.8 531.9M509.1 535.5L511.6 536.8M509.1 535.5L505.7 537.8M509.1 535.5L510.6 531.9M472.8 558.8L474.8 561.2M510.6 558.8L508.6 561.2M472.8 579.0L474.8 576.5M510.6 579.0L508.6 576.5M498.4 550.9L500.4 548.8M498.4 550.9L496.6 552.5M484.9 550.9L483.0 548.8M484.9 550.9L486.7 552.5M498.4 586.9L500.4 589.0M498.4 586.9L496.6 585.3M484.9 586.9L483.0 589.0M484.9 586.9L486.7 585.3M501.9 576.2L504.3 575.2M501.9 576.2L499.3 574.2M481.4 576.2L479.1 575.2M481.4 576.2L484.0 574.2M501.9 561.5L504.3 562.6M501.9 561.5L499.3 563.5M481.4 561.5L479.1 562.6M481.4 561.5L484.0 563.5M504.3 592.3L503.3 595.0M479.1 592.3L480.0 595.0M504.3 545.5L503.3 542.7M479.1 545.5L480.0 542.7M499.6 601.6L501.0 599.7M499.6 601.6L497.2 603.0M483.8 601.6L482.4 599.7M483.8 601.6L486.1 603.0M499.6 637.6L501.0 639.5M499.6 637.6L497.2 636.2M483.8 637.6L482.4 639.5M483.8 637.6L486.1 636.2M481.4 627.4L479.1 625.9M481.4 627.4L484.0 625.0M501.9 627.4L504.3 625.9M501.9 627.4L499.4 625.0M481.4 611.9L479.1 613.3M481.4 611.9L484.0 614.3M501.9 611.9L504.3 613.3M501.9 611.9L499.4 614.3M474.3 602.2L471.8 601.0M474.3 602.2L477.6 600.0M474.3 602.2L472.8 605.9M509.1 602.2L511.6 601.0M509.1 602.2L505.7 600.0M509.1 602.2L510.6 605.9M474.3 637.0L471.8 638.2M474.3 637.0L477.6 639.2M474.3 637.0L472.8 633.4M509.1 637.0L511.6 638.2M509.1 637.0L505.7 639.2M509.1 637.0L510.6 633.4M504.3 647.0L503.3 644.2M479.1 647.0L480.0 644.2M555.5 440.8L560.0 438.6M555.5 440.8L554.0 442.5M555.5 440.8L554.2 443.0M529.3 440.8L524.9 438.6M529.3 440.8L530.8 442.5M529.3 440.8L530.6 443.0M529.5 442.8L530.7 440.9M555.3 442.8L554.1 440.9M529.5 491.9L530.7 493.9M555.3 491.9L554.1 493.9M535.0 449.8L533.7 447.0M535.0 449.8L533.5 447.5M535.0 449.8L537.1 451.0M549.8 449.8L551.2 447.0M549.8 449.8L551.4 447.5M549.8 449.8L547.8 451.0M535.0 484.9L533.5 487.3M535.0 484.9L537.1 483.8M535.0 484.9L533.7 487.8M549.8 484.9L551.4 487.3M549.8 484.9L547.8 483.8M549.8 484.9L551.2 487.8M523.2 456.5L521.8 451.8M523.2 456.5L525.4 459.5M561.6 456.5L563.0 451.8M561.6 456.5L559.5 459.5M523.2 478.2L521.8 482.9M523.2 478.2L525.4 475.2M561.6 478.2L563.0 482.9M561.6 478.2L559.5 475.2M532.3 460.1L529.9 461.3M532.3 460.1L534.9 462.1M552.5 460.1L554.9 461.3M552.5 460.1L550.0 462.1M532.3 474.6L529.9 473.4M532.3 474.6L534.9 472.7M552.5 474.6L554.9 473.4M552.5 474.6L550.0 472.7M534.2 500.6L533.2 497.9M534.2 500.6L536.8 502.1M534.2 500.6L533.0 498.2M550.6 500.6L551.6 497.9M550.6 500.6L548.1 502.1M550.6 500.6L551.8 498.2M534.2 535.7L536.8 534.1M534.2 535.7L533.0 538.1M534.2 535.7L533.2 538.4M550.6 535.7L548.1 534.1M550.6 535.7L551.8 538.1M550.6 535.7L551.6 538.4M555.5 493.9L554.2 491.8M555.5 493.9L560.0 496.1M555.5 493.9L554.0 492.2M529.3 493.9L530.6 491.8M529.3 493.9L524.9 496.1M529.3 493.9L530.8 492.2M555.5 542.3L560.0 540.1M555.5 542.3L554.0 544.0M555.5 542.3L554.2 544.5M529.3 542.3L524.9 540.1M529.3 542.3L530.8 544.0M529.3 542.3L530.6 544.5M552.7 510.9L555.0 512.0M552.7 510.9L550.1 513.0M532.1 510.9L529.8 512.0M532.1 510.9L534.8 513.0M552.7 525.4L555.0 524.2M552.7 525.4L550.1 523.2M532.1 525.4L529.8 524.2M532.1 525.4L534.8 523.2M525.0 506.8L522.7 502.5M525.0 506.8L526.3 510.0M559.8 506.8L562.1 502.5M559.8 506.8L558.6 510.0M525.0 529.5L522.7 533.8M525.0 529.5L526.3 526.2M559.8 529.5L562.1 533.8M559.8 529.5L558.6 526.2M529.5 544.3L530.7 542.4M555.3 544.3L554.1 542.4M529.5 593.5L530.7 595.4M555.3 593.5L554.1 595.4M535.0 551.3L533.7 548.5M535.0 551.3L533.5 549.0M535.0 551.3L537.1 552.5M549.8 551.3L551.2 548.5M549.8 551.3L551.4 549.0M549.8 551.3L547.8 552.5M535.0 586.5L533.5 588.8M535.0 586.5L537.1 585.2M535.0 586.5L533.7 589.2M549.8 586.5L551.4 588.8M549.8 586.5L547.8 585.2M549.8 586.5L551.2 589.2M523.2 558.0L521.8 553.3M523.2 558.0L525.4 561.0M561.6 558.0L563.0 553.3M561.6 558.0L559.5 561.0M523.2 579.8L521.8 584.5M523.2 579.8L525.4 576.8M561.6 579.8L563.0 584.5M561.6 579.8L559.5 576.8M532.3 561.6L529.9 562.8M532.3 561.6L534.9 563.5M552.5 561.6L554.9 562.8M552.5 561.6L550.0 563.5M532.3 576.1L529.9 575.0M532.3 576.1L534.9 574.2M552.5 576.1L554.9 575.0M552.5 576.1L550.0 574.2M534.2 602.0L533.2 599.3M534.2 602.0L536.8 603.6M534.2 602.0L533.0 599.7M550.6 602.0L551.6 599.3M550.6 602.0L548.1 603.6M550.6 602.0L551.8 599.7M534.2 637.2L536.8 635.6M534.2 637.2L533.0 639.6M534.2 637.2L533.2 639.9M550.6 637.2L548.1 635.6M550.6 637.2L551.8 639.6M550.6 637.2L551.6 639.9M555.5 595.5L554.2 593.3M555.5 595.5L560.0 597.6M555.5 595.5L554.0 593.8M529.3 595.5L530.6 593.3M529.3 595.5L524.9 597.6M529.3 595.5L530.8 593.8M555.5 643.8L560.0 641.6M555.5 643.8L554.0 645.5M555.5 643.8L554.2 646.0M529.3 643.8L524.9 641.6M529.3 643.8L530.8 645.5M529.3 643.8L530.6 646.0M552.7 612.4L555.0 613.5M552.7 612.4L550.1 614.5M532.1 612.4L529.8 613.5M532.1 612.4L534.8 614.5M552.7 626.9L555.0 625.7M552.7 626.9L550.1 624.8M532.1 626.9L529.8 625.7M532.1 626.9L534.8 624.8M525.0 608.2L522.7 604.0M525.0 608.2L526.3 611.5M559.8 608.2L562.1 604.0M559.8 608.2L558.6 611.5M525.0 631.0L522.7 635.2M525.0 631.0L526.3 627.8M559.8 631.0L562.1 635.2M559.8 631.0L558.6 627.8M529.5 645.8L530.7 643.9M555.3 645.8L554.1 643.9M574.3 457.3L576.2 459.7M574.3 477.4L576.2 475.0M574.3 558.8L576.2 561.2M574.3 579.0L576.2 576.5"/>
<path stroke="#e03a2a" stroke-width="0.9" stroke-opacity="0.85" d="M360.0 451.8L361.4 447.1M356.5 459.5L354.4 462.5M360.0 482.9L361.4 487.6M356.5 475.2L354.4 472.2M360.0 553.3L361.4 548.6M356.5 561.0L354.4 564.0M360.0 584.5L361.4 589.1M356.5 576.8L354.4 573.8M373.2 459.7L375.2 462.1M407.1 459.7L405.2 462.1M373.2 475.0L375.2 472.6M407.1 475.0L405.2 472.6M398.9 447.2L400.9 445.1M395.1 451.0L393.4 452.6M381.5 447.2L379.5 445.1M385.2 451.0L387.0 452.6M398.9 487.5L400.9 489.6M395.1 483.8L393.4 482.2M381.5 487.5L379.5 489.6M385.2 483.8L387.0 482.2M402.8 473.7L405.2 472.6M397.8 472.7L395.2 470.8M377.6 473.7L375.2 472.6M382.5 472.7L385.1 470.8M402.8 461.1L405.2 462.1M397.8 462.0L395.2 464.0M377.6 461.1L375.2 462.1M382.5 462.0L385.1 464.0M401.8 493.5L400.9 496.2M378.5 493.5L379.5 496.2M401.8 441.2L400.9 438.5M378.5 441.2L379.5 438.5M399.5 498.2L400.9 496.2M395.7 501.5L393.3 502.9M380.9 498.2L379.5 496.2M384.6 501.5L387.1 502.9M399.5 538.0L400.9 540.0M395.7 534.7L393.3 533.4M380.9 538.0L379.5 540.0M384.6 534.7L387.1 533.4M377.6 524.4L375.2 523.0M382.5 523.5L385.1 521.1M402.8 524.4L405.2 523.0M397.9 523.5L395.2 521.1M377.6 511.8L375.2 513.2M382.5 512.8L385.1 515.1M402.8 511.8L405.2 513.2M397.9 512.8L395.2 515.1M370.2 499.5L367.7 498.2M376.1 498.5L379.5 496.2M371.2 504.4L369.7 508.1M410.1 499.5L412.7 498.2M404.2 498.5L400.9 496.2M409.1 504.4L410.7 508.1M370.2 536.8L367.7 538.0M376.1 537.8L379.5 540.0M371.2 531.9L369.7 528.2M410.1 536.8L412.7 538.0M404.2 537.8L400.9 540.0M409.1 531.9L410.7 528.2M373.2 561.2L375.2 563.6M407.1 561.2L405.2 563.6M373.2 576.5L375.2 574.1M407.1 576.5L405.2 574.1M398.9 548.8L400.9 546.6M395.1 552.5L393.4 554.0M381.5 548.8L379.5 546.6M385.2 552.5L387.0 554.0M398.9 589.0L400.9 591.1M395.1 585.3L393.4 583.7M381.5 589.0L379.5 591.1M385.2 585.3L387.0 583.7M402.8 575.2L405.2 574.1M397.8 574.2L395.2 572.2M377.6 575.2L375.2 574.1M382.5 574.2L385.1 572.2M402.8 562.6L405.2 563.6M397.8 563.5L395.2 565.5M377.6 562.6L375.2 563.6M382.5 563.5L385.1 565.5M401.8 595.0L400.9 597.8M378.5 595.0L379.5 597.8M401.8 542.7L400.9 540.0M378.5 542.7L379.5 540.0M399.5 599.7L400.9 597.8M395.7 603.0L393.3 604.4M380.9 599.7L379.5 597.8M384.6 603.0L387.1 604.4M399.5 639.5L400.9 641.5M395.7 636.2L393.3 634.9M380.9 639.5L379.5 641.5M384.6 636.2L387.1 634.9M377.6 625.9L375.2 624.5M382.5 625.0L385.1 622.6M402.8 625.9L405.2 624.5M397.9 625.0L395.2 622.6M377.6 613.3L375.2 614.8M382.5 614.3L385.1 616.6M402.8 613.3L405.2 614.8M397.9 614.3L395.2 616.6M370.2 601.0L367.7 599.8M376.1 600.0L379.5 597.8M371.2 605.9L369.7 609.5M410.1 601.0L412.7 599.8M404.2 600.0L400.9 597.8M409.1 605.9L410.7 609.5M370.2 638.2L367.7 639.5M376.1 639.2L379.5 641.5M371.2 633.4L369.7 629.7M410.1 638.2L412.7 639.5M404.2 639.2L400.9 641.5M409.1 633.4L410.7 629.7M401.8 644.2L400.9 641.5M378.5 644.2L379.5 641.5M458.5 438.6L462.9 436.5M452.5 442.5L451.1 444.2M452.7 443.0L451.4 445.1M423.4 438.6L418.9 436.5M429.3 442.5L430.8 444.2M429.1 443.0L430.4 445.1M429.2 440.9L430.4 438.9M452.6 440.9L451.4 438.9M429.2 493.9L430.4 495.8M452.6 493.9L451.4 495.8M432.2 447.0L430.8 444.2M432.0 447.5L430.4 445.1M435.6 451.0L437.7 452.2M449.7 447.0L451.1 444.2M449.9 447.5L451.4 445.1M446.2 451.0L444.2 452.2M432.0 487.3L430.4 489.6M435.6 483.8L437.7 482.6M432.2 487.8L430.8 490.6M449.9 487.3L451.4 489.6M446.2 483.8L444.2 482.6M449.7 487.8L451.1 490.6M420.3 451.8L418.9 447.1M423.9 459.5L426.0 462.5M461.5 451.8L462.9 447.1M458.0 459.5L455.9 462.5M420.3 482.9L418.9 487.6M423.9 475.2L426.0 472.2M461.5 482.9L462.9 487.6M458.0 475.2L455.9 472.2M428.4 461.3L426.0 462.5M433.4 462.1L435.9 464.0M453.4 461.3L455.9 462.5M448.5 462.1L445.9 464.0M428.4 473.4L426.0 472.2M433.4 472.7L435.9 470.8M453.4 473.4L455.9 472.2M448.5 472.7L445.9 470.8M431.8 497.9L430.8 495.1M435.2 502.1L437.8 503.8M431.6 498.2L430.4 495.8M450.1 497.9L451.1 495.1M446.6 502.1L444.1 503.8M450.3 498.2L451.4 495.8M435.2 534.1L437.8 532.5M431.6 538.1L430.4 540.5M431.8 538.4L430.8 541.1M446.6 534.1L444.1 532.5M450.3 538.1L451.4 540.5M450.1 538.4L451.1 541.1M452.7 491.8L451.4 489.6M458.5 496.1L462.9 498.2M452.5 492.2L451.1 490.6M429.1 491.8L430.4 489.6M423.4 496.1L418.9 498.2M429.3 492.2L430.8 490.6M458.5 540.1L462.9 538.0M452.5 544.0L451.1 545.7M452.7 544.5L451.4 546.6M423.4 540.1L418.9 538.0M429.3 544.0L430.8 545.7M429.1 544.5L430.4 546.6M453.5 512.0L455.9 513.2M448.6 513.0L445.9 515.1M428.3 512.0L426.0 513.2M433.3 513.0L435.9 515.1M453.5 524.2L455.9 523.0M448.6 523.2L445.9 521.1M428.3 524.2L426.0 523.0M433.3 523.2L435.9 521.1M421.2 502.5L418.9 498.2M424.8 510.0L426.0 513.2M460.6 502.5L462.9 498.2M457.1 510.0L455.9 513.2M421.2 533.8L418.9 538.0M424.8 526.2L426.0 523.0M460.6 533.8L462.9 538.0M457.1 526.2L455.9 523.0M429.2 542.4L430.4 540.5M452.6 542.4L451.4 540.5M429.2 595.4L430.4 597.3M452.6 595.4L451.4 597.3M432.2 548.5L430.8 545.7M432.0 549.0L430.4 546.6M435.6 552.5L437.7 553.7M449.7 548.5L451.1 545.7M449.9 549.0L451.4 546.6M446.2 552.5L444.2 553.7M432.0 588.8L430.4 591.1M435.6 585.2L437.7 584.0M432.2 589.2L430.8 592.0M449.9 588.8L451.4 591.1M446.2 585.2L444.2 584.0M449.7 589.2L451.1 592.0M420.3 553.3L418.9 548.6M423.9 561.0L426.0 564.0M461.5 553.3L462.9 548.6M458.0 561.0L455.9 564.0M420.3 584.5L418.9 589.1M423.9 576.8L426.0 573.8M461.5 584.5L462.9 589.1M458.0 576.8L455.9 573.8M428.4 562.8L426.0 564.0M433.4 563.5L435.9 565.5M453.4 562.8L455.9 564.0M448.5 563.5L445.9 565.5M428.4 575.0L426.0 573.8M433.4 574.2L435.9 572.2M453.4 575.0L455.9 573.8M448.5 574.2L445.9 572.2M431.8 599.3L430.8 596.6M435.2 603.6L437.8 605.2M431.6 599.7L430.4 597.3M450.1 599.3L451.1 596.6M446.6 603.6L444.1 605.2M450.3 599.7L451.4 597.3M435.2 635.6L437.8 634.0M431.6 639.6L430.4 642.0M431.8 639.9L430.8 642.6M446.6 635.6L444.1 634.0M450.3 639.6L451.4 642.0M450.1 639.9L451.1 642.6M452.7 593.3L451.4 591.1M458.5 597.6L462.9 599.8M452.5 593.8L451.1 592.0M429.1 593.3L430.4 591.1M423.4 597.6L418.9 599.8M429.3 593.8L430.8 592.0M458.5 641.6L462.9 639.5M452.5 645.5L451.1 647.2M452.7 646.0L451.4 648.1M423.4 641.6L418.9 639.5M429.3 645.5L430.8 647.2M429.1 646.0L430.4 648.1M453.5 613.5L455.9 614.8M448.6 614.5L445.9 616.6M428.3 613.5L426.0 614.8M433.3 614.5L435.9 616.6M453.5 625.7L455.9 624.5M448.6 624.8L445.9 622.6M428.3 625.7L426.0 624.5M433.3 624.8L435.9 622.6M421.2 604.0L418.9 599.8M424.8 611.5L426.0 614.8M460.6 604.0L462.9 599.8M457.1 611.5L455.9 614.8M421.2 635.2L418.9 639.5M424.8 627.8L426.0 624.5M460.6 635.2L462.9 639.5M457.1 627.8L455.9 624.5M429.2 643.9L430.4 642.0M452.6 643.9L451.4 642.0M474.8 459.7L476.7 462.1M508.6 459.7L506.7 462.1M474.8 475.0L476.7 472.6M508.6 475.0L506.7 472.6M500.4 447.2L502.4 445.1M496.6 451.0L494.9 452.6M483.0 447.2L481.0 445.1M486.7 451.0L488.5 452.6M500.4 487.5L502.4 489.6M496.6 483.8L494.9 482.2M483.0 487.5L481.0 489.6M486.7 483.8L488.5 482.2M504.3 473.7L506.7 472.6M499.3 472.7L496.8 470.8M479.1 473.7L476.7 472.6M484.0 472.7L486.6 470.8M504.3 461.1L506.7 462.1M499.3 462.0L496.8 464.0M479.1 461.1L476.7 462.1M484.0 462.0L486.6 464.0M503.3 493.5L502.4 496.2M480.0 493.5L481.0 496.2M503.3 441.2L502.4 438.5M480.0 441.2L481.0 438.5M501.0 498.2L502.4 496.2M497.2 501.5L494.8 502.9M482.4 498.2L481.0 496.2M486.1 501.5L488.6 502.9M501.0 538.0L502.4 540.0M497.2 534.7L494.8 533.4M482.4 538.0L481.0 540.0M486.1 534.7L488.6 533.4M479.1 524.4L476.7 523.0M484.0 523.5L486.6 521.1M504.3 524.4L506.7 523.0M499.4 523.5L496.8 521.1M479.1 511.8L476.7 513.2M484.0 512.8L486.6 515.1M504.3 511.8L506.7 513.2M499.4 512.8L496.8 515.1M471.8 499.5L469.2 498.2M477.6 498.5L481.0 496.2M472.8 504.4L471.2 508.1M511.6 499.5L514.1 498.2M505.7 498.5L502.4 496.2M510.6 504.4L512.1 508.1M471.8 536.8L469.2 538.0M477.6 537.8L481.0 540.0M472.8 531.9L471.2 528.2M511.6 536.8L514.1 538.0M505.7 537.8L502.4 540.0M510.6 531.9L512.1 528.2M474.8 561.2L476.7 563.6M508.6 561.2L506.7 563.6M474.8 576.5L476.7 574.1M508.6 576.5L506.7 574.1M500.4 548.8L502.4 546.6M496.6 552.5L494.9 554.0M483.0 548.8L481.0 546.6M486.7 552.5L488.5 554.0M500.4 589.0L502.4 591.1M496.6 585.3L494.9 583.7M483.0 589.0L481.0 591.1M486.7 585.3L488.5 583.7M504.3 575.2L506.7 574.1M499.3 574.2L496.8 572.2M479.1 575.2L476.7 574.1M484.0 574.2L486.6 572.2M504.3 562.6L506.7 563.6M499.3 563.5L496.8 565.5M479.1 562.6L476.7 563.6M484.0 563.5L486.6 565.5M503.3 595.0L502.4 597.8M480.0 595.0L481.0 597.8M503.3 542.7L502.4 540.0M480.0 542.7L481.0 540.0M501.0 599.7L502.4 597.8M497.2 603.0L494.8 604.4M482.4 599.7L481.0 597.8M486.1 603.0L488.6 604.4M501.0 639.5L502.4 641.5M497.2 636.2L494.8 634.9M482.4 639.5L481.0 641.5M486.1 636.2L488.6 634.9M479.1 625.9L476.7 624.5M484.0 625.0L486.6 622.6M504.3 625.9L506.7 624.5M499.4 625.0L496.8 622.6M479.1 613.3L476.7 614.8M484.0 614.3L486.6 616.6M504.3 613.3L506.7 614.8M499.4 614.3L496.8 616.6M471.8 601.0L469.2 599.8M477.6 600.0L481.0 597.8M472.8 605.9L471.2 609.5M511.6 601.0L514.1 599.8M505.7 600.0L502.4 597.8M510.6 605.9L512.1 609.5M471.8 638.2L469.2 639.5M477.6 639.2L481.0 641.5M472.8 633.4L471.2 629.7M511.6 638.2L514.1 639.5M505.7 639.2L502.4 641.5M510.6 633.4L512.1 629.7M503.3 644.2L502.4 641.5M480.0 644.2L481.0 641.5M560.0 438.6L564.4 436.5M554.0 442.5L552.5 444.2M554.2 443.0L552.9 445.1M524.9 438.6L520.4 436.5M530.8 442.5L532.3 444.2M530.6 443.0L531.9 445.1M530.7 440.9L531.9 438.9M554.1 440.9L552.9 438.9M530.7 493.9L531.9 495.8M554.1 493.9L552.9 495.8M533.7 447.0L532.3 444.2M533.5 447.5L531.9 445.1M537.1 451.0L539.1 452.2M551.2 447.0L552.5 444.2M551.4 447.5L552.9 445.1M547.8 451.0L545.7 452.2M533.5 487.3L531.9 489.6M537.1 483.8L539.1 482.6M533.7 487.8L532.3 490.6M551.4 487.3L552.9 489.6M547.8 483.8L545.7 482.6M551.2 487.8L552.5 490.6M521.8 451.8L520.4 447.1M525.4 459.5L527.5 462.5M563.0 451.8L564.4 447.1M559.5 459.5L557.3 462.5M521.8 482.9L520.4 487.6M525.4 475.2L527.5 472.2M563.0 482.9L564.4 487.6M559.5 475.2L557.3 472.2M529.9 461.3L527.5 462.5M534.9 462.1L537.4 464.0M554.9 461.3L557.3 462.5M550.0 462.1L547.4 464.0M529.9 473.4L527.5 472.2M534.9 472.7L537.4 470.8M554.9 473.4L557.3 472.2M550.0 472.7L547.4 470.8M533.2 497.9L532.3 495.1M536.8 502.1L539.3 503.8M533.0 498.2L531.9 495.8M551.6 497.9L552.5 495.1M548.1 502.1L545.5 503.8M551.8 498.2L552.9 495.8M536.8 534.1L539.3 532.5M533.0 538.1L531.9 540.5M533.2 538.4L532.3 541.1M548.1 534.1L545.5 532.5M551.8 538.1L552.9 540.5M551.6 538.4L552.5 541.1M554.2 491.8L552.9 489.6M560.0 496.1L564.4 498.2M554.0 492.2L552.5 490.6M530.6 491.8L531.9 489.6M524.9 496.1L520.4 498.2M530.8 492.2L532.3 490.6M560.0 540.1L564.4 538.0M554.0 544.0L552.5 545.7M554.2 544.5L552.9 546.6M524.9 540.1L520.4 538.0M530.8 544.0L532.3 545.7M530.6 544.5L531.9 546.6M555.0 512.0L557.3 513.2M550.1 513.0L547.4 515.1M529.8 512.0L527.5 513.2M534.8 513.0L537.4 515.1M555.0 524.2L557.3 523.0M550.1 523.2L547.4 521.1M529.8 524.2L527.5 523.0M534.8 523.2L537.4 521.1M522.7 502.5L520.4 498.2M526.3 510.0L527.5 513.2M562.1 502.5L564.4 498.2M558.6 510.0L557.3 513.2M522.7 533.8L520.4 538.0M526.3 526.2L527.5 523.0M562.1 533.8L564.4 538.0M558.6 526.2L557.3 523.0M530.7 542.4L531.9 540.5M554.1 542.4L552.9 540.5M530.7 595.4L531.9 597.3M554.1 595.4L552.9 597.3M533.7 548.5L532.3 545.7M533.5 549.0L531.9 546.6M537.1 552.5L539.1 553.7M551.2 548.5L552.5 545.7M551.4 549.0L552.9 546.6M547.8 552.5L545.7 553.7M533.5 588.8L531.9 591.1M537.1 585.2L539.1 584.0M533.7 589.2L532.3 592.0M551.4 588.8L552.9 591.1M547.8 585.2L545.7 584.0M551.2 589.2L552.5 592.0M521.8 553.3L520.4 548.6M525.4 561.0L527.5 564.0M563.0 553.3L564.4 548.6M559.5 561.0L557.3 564.0M521.8 584.5L520.4 589.1M525.4 576.8L527.5 573.8M563.0 584.5L564.4 589.1M559.5 576.8L557.3 573.8M529.9 562.8L527.5 564.0M534.9 563.5L537.4 565.5M554.9 562.8L557.3 564.0M550.0 563.5L547.4 565.5M529.9 575.0L527.5 573.8M534.9 574.2L537.4 572.2M554.9 575.0L557.3 573.8M550.0 574.2L547.4 572.2M533.2 599.3L532.3 596.6M536.8 603.6L539.3 605.2M533.0 599.7L531.9 597.3M551.6 599.3L552.5 596.6M548.1 603.6L545.5 605.2M551.8 599.7L552.9 597.3M536.8 635.6L539.3 634.0M533.0 639.6L531.9 642.0M533.2 639.9L532.3 642.6M548.1 635.6L545.5 634.0M551.8 639.6L552.9 642.0M551.6 639.9L552.5 642.6M554.2 593.3L552.9 591.1M560.0 597.6L564.4 599.8M554.0 593.8L552.5 592.0M530.6 593.3L531.9 591.1M524.9 597.6L520.4 599.8M530.8 593.8L532.3 592.0M560.0 641.6L564.4 639.5M554.0 645.5L552.5 647.2M554.2 646.0L552.9 648.1M524.9 641.6L520.4 639.5M530.8 645.5L532.3 647.2M530.6 646.0L531.9 648.1M555.0 613.5L557.3 614.8M550.1 614.5L547.4 616.6M529.8 613.5L527.5 614.8M534.8 614.5L537.4 616.6M555.0 625.7L557.3 624.5M550.1 624.8L547.4 622.6M529.8 625.7L527.5 624.5M534.8 624.8L537.4 622.6M522.7 604.0L520.4 599.8M526.3 611.5L527.5 614.8M562.1 604.0L564.4 599.8M558.6 611.5L557.3 614.8M522.7 635.2L520.4 639.5M526.3 627.8L527.5 624.5M562.1 635.2L564.4 639.5M558.6 627.8L557.3 624.5M530.7 643.9L531.9 642.0M554.1 643.9L552.9 642.0M576.2 459.7L578.2 462.1M576.2 475.0L578.2 472.6M576.2 561.2L578.2 563.6M576.2 576.5L578.2 574.1"/>
<path stroke="#e03a2a" stroke-width="1.1" stroke-opacity="0.9" d="M364.8 442.0L361.4 436.5M364.8 442.0L361.4 447.1M364.8 442.0L367.7 436.5M364.8 442.0L368.1 447.5M415.6 442.0L412.7 436.5M415.6 442.0L412.2 447.5M415.6 442.0L418.9 436.5M415.6 442.0L418.9 447.1M466.3 442.0L462.9 436.5M466.3 442.0L462.9 447.1M466.3 442.0L469.2 436.5M466.3 442.0L469.6 447.5M517.0 442.0L514.1 436.5M517.0 442.0L513.8 447.5M517.0 442.0L520.4 436.5M517.0 442.0L520.4 447.1M567.8 442.0L564.4 436.5M567.8 442.0L564.4 447.1M567.8 442.0L570.7 436.5M567.8 442.0L571.1 447.5M390.2 467.4L385.1 464.0M390.2 467.4L395.2 464.0M390.2 467.4L385.1 470.8M390.2 467.4L395.2 470.8M440.9 467.4L435.9 464.0M440.9 467.4L445.9 464.0M440.9 467.4L435.9 470.8M440.9 467.4L445.9 470.8M491.7 467.4L486.6 464.0M491.7 467.4L496.8 464.0M491.7 467.4L486.6 470.8M491.7 467.4L496.8 470.8M542.4 467.4L537.4 464.0M542.4 467.4L547.4 464.0M542.4 467.4L537.4 470.8M542.4 467.4L547.4 470.8M364.8 492.8L361.4 487.6M364.8 492.8L361.4 498.2M364.8 492.8L368.1 487.2M364.8 492.8L367.7 498.2M415.6 492.8L412.2 487.2M415.6 492.8L412.7 498.2M415.6 492.8L418.9 487.6M415.6 492.8L418.9 498.2M466.3 492.8L462.9 487.6M466.3 492.8L462.9 498.2M466.3 492.8L469.6 487.2M466.3 492.8L469.2 498.2M517.0 492.8L513.8 487.2M517.0 492.8L514.1 498.2M517.0 492.8L520.4 487.6M517.0 492.8L520.4 498.2M567.8 492.8L564.4 487.6M567.8 492.8L564.4 498.2M567.8 492.8L571.1 487.2M567.8 492.8L570.7 498.2M390.2 518.1L385.1 515.1M390.2 518.1L395.2 515.1M390.2 518.1L385.1 521.1M390.2 518.1L395.2 521.1M440.9 518.1L435.9 515.1M440.9 518.1L445.9 515.1M440.9 518.1L435.9 521.1M440.9 518.1L445.9 521.1M491.7 518.1L486.6 515.1M491.7 518.1L496.8 515.1M491.7 518.1L486.6 521.1M491.7 518.1L496.8 521.1M542.4 518.1L537.4 515.1M542.4 518.1L547.4 515.1M542.4 518.1L537.4 521.1M542.4 518.1L547.4 521.1M364.8 543.5L361.4 538.0M364.8 543.5L361.4 548.6M364.8 543.5L367.7 538.0M364.8 543.5L368.1 549.0M415.6 543.5L412.7 538.0M415.6 543.5L412.2 549.0M415.6 543.5L418.9 538.0M415.6 543.5L418.9 548.6M466.3 543.5L462.9 538.0M466.3 543.5L462.9 548.6M466.3 543.5L469.2 538.0M466.3 543.5L469.6 549.0M517.0 543.5L514.1 538.0M517.0 543.5L513.8 549.0M517.0 543.5L520.4 538.0M517.0 543.5L520.4 548.6M567.8 543.5L564.4 538.0M567.8 543.5L564.4 548.6M567.8 543.5L570.7 538.0M567.8 543.5L571.1 549.0M390.2 568.9L385.1 565.5M390.2 568.9L395.2 565.5M390.2 568.9L385.1 572.2M390.2 568.9L395.2 572.2M440.9 568.9L435.9 565.5M440.9 568.9L445.9 565.5M440.9 568.9L435.9 572.2M440.9 568.9L445.9 572.2M491.7 568.9L486.6 565.5M491.7 568.9L496.8 565.5M491.7 568.9L486.6 572.2M491.7 568.9L496.8 572.2M542.4 568.9L537.4 565.5M542.4 568.9L547.4 565.5M542.4 568.9L537.4 572.2M542.4 568.9L547.4 572.2M364.8 594.2L361.4 589.1M364.8 594.2L361.4 599.8M364.8 594.2L368.1 588.8M364.8 594.2L367.7 599.8M415.6 594.2L412.2 588.8M415.6 594.2L412.7 599.8M415.6 594.2L418.9 589.1M415.6 594.2L418.9 599.8M466.3 594.2L462.9 589.1M466.3 594.2L462.9 599.8M466.3 594.2L469.6 588.8M466.3 594.2L469.2 599.8M517.0 594.2L513.8 588.8M517.0 594.2L514.1 599.8M517.0 594.2L520.4 589.1M517.0 594.2L520.4 599.8M567.8 594.2L564.4 589.1M567.8 594.2L564.4 599.8M567.8 594.2L571.1 588.8M567.8 594.2L570.7 599.8M390.2 619.6L385.1 616.6M390.2 619.6L395.2 616.6M390.2 619.6L385.1 622.6M390.2 619.6L395.2 622.6M440.9 619.6L435.9 616.6M440.9 619.6L445.9 616.6M440.9 619.6L435.9 622.6M440.9 619.6L445.9 622.6M491.7 619.6L486.6 616.6M491.7 619.6L496.8 616.6M491.7 619.6L486.6 622.6M491.7 619.6L496.8 622.6M542.4 619.6L537.4 616.6M542.4 619.6L547.4 616.6M542.4 619.6L537.4 622.6M542.4 619.6L547.4 622.6M364.8 645.0L361.4 639.5M364.8 645.0L361.4 650.1M364.8 645.0L367.7 639.5M364.8 645.0L368.1 650.5M415.6 645.0L412.7 639.5M415.6 645.0L412.2 650.5M415.6 645.0L418.9 639.5M415.6 645.0L418.9 650.1M466.3 645.0L462.9 639.5M466.3 645.0L462.9 650.1M466.3 645.0L469.2 639.5M466.3 645.0L469.6 650.5M517.0 645.0L514.1 639.5M517.0 645.0L513.8 650.5M517.0 645.0L520.4 639.5M517.0 645.0L520.4 650.1M567.8 645.0L564.4 639.5M567.8 645.0L564.4 650.1M567.8 645.0L570.7 639.5M567.8 645.0L571.1 650.5"/>
<path stroke="#2626f0" stroke-width="1.3" stroke-opacity="0.85" stroke-dasharray="1.5,1.0" d="M364.8 467.4L359.4 456.9M364.8 467.4L359.4 477.9M364.8 467.4L354.4 462.5M364.8 467.4L354.4 472.2M364.8 467.4L370.1 456.5M364.8 467.4L370.1 478.2M364.8 467.4L375.2 462.1M364.8 467.4L375.2 472.6M415.6 467.4L410.3 456.5M415.6 467.4L410.3 478.2M415.6 467.4L405.2 462.1M415.6 467.4L405.2 472.6M415.6 467.4L420.9 456.9M415.6 467.4L420.9 477.9M415.6 467.4L426.0 462.5M415.6 467.4L426.0 472.2M466.3 467.4L460.9 456.9M466.3 467.4L460.9 477.9M466.3 467.4L455.9 462.5M466.3 467.4L455.9 472.2M466.3 467.4L471.6 456.5M466.3 467.4L471.6 478.2M466.3 467.4L476.7 462.1M466.3 467.4L476.7 472.6M567.8 467.4L562.4 456.9M567.8 467.4L562.4 477.9M567.8 467.4L557.3 462.5M567.8 467.4L557.3 472.2M567.8 467.4L573.0 456.5M567.8 467.4L573.0 478.2M567.8 467.4L578.2 462.1M567.8 467.4L578.2 472.6M415.6 518.1L410.7 508.1M415.6 518.1L410.7 528.2M415.6 518.1L405.2 513.2M415.6 518.1L405.2 523.0M415.6 518.1L420.9 508.1M415.6 518.1L420.9 528.2M415.6 518.1L426.0 513.2M415.6 518.1L426.0 523.0M517.0 518.1L512.1 508.1M517.0 518.1L512.1 528.2M517.0 518.1L506.7 513.2M517.0 518.1L506.7 523.0M517.0 518.1L522.4 508.1M517.0 518.1L522.4 528.2M517.0 518.1L527.5 513.2M517.0 518.1L527.5 523.0M364.8 568.9L359.4 558.4M364.8 568.9L359.4 579.4M364.8 568.9L354.4 564.0M364.8 568.9L354.4 573.8M364.8 568.9L370.1 558.0M364.8 568.9L370.1 579.8M364.8 568.9L375.2 563.6M364.8 568.9L375.2 574.1M466.3 568.9L460.9 558.4M466.3 568.9L460.9 579.4M466.3 568.9L455.9 564.0M466.3 568.9L455.9 573.8M466.3 568.9L471.6 558.0M466.3 568.9L471.6 579.8M466.3 568.9L476.7 563.6M466.3 568.9L476.7 574.1M567.8 568.9L562.4 558.4M567.8 568.9L562.4 579.4M567.8 568.9L557.3 564.0M567.8 568.9L557.3 573.8M567.8 568.9L573.0 558.0M567.8 568.9L573.0 579.8M567.8 568.9L578.2 563.6M567.8 568.9L578.2 574.1M415.6 619.6L410.7 609.5M415.6 619.6L410.7 629.7M415.6 619.6L405.2 614.8M415.6 619.6L405.2 624.5M415.6 619.6L420.9 609.5M415.6 619.6L420.9 629.7M415.6 619.6L426.0 614.8M415.6 619.6L426.0 624.5M466.3 619.6L460.9 609.5M466.3 619.6L460.9 629.7M466.3 619.6L455.9 614.8M466.3 619.6L455.9 624.5M466.3 619.6L471.2 609.5M466.3 619.6L471.2 629.7M466.3 619.6L476.7 614.8M466.3 619.6L476.7 624.5M517.0 619.6L512.1 609.5M517.0 619.6L512.1 629.7M517.0 619.6L506.7 614.8M517.0 619.6L506.7 624.5M517.0 619.6L522.4 609.5M517.0 619.6L522.4 629.7M517.0 619.6L527.5 614.8M517.0 619.6L527.5 624.5M402.9 442.0L412.7 436.5M402.9 442.0L400.9 438.5M402.9 442.0L393.3 431.9M402.9 442.0L412.2 447.5M402.9 442.0L400.9 445.1M402.9 442.0L393.4 452.6M453.6 442.0L462.9 436.5M453.6 442.0L451.1 444.2M453.6 442.0L444.1 431.0M453.6 442.0L451.4 438.9M453.6 442.0L462.9 447.1M453.6 442.0L451.1 439.6M453.6 442.0L451.4 445.1M453.6 442.0L444.2 452.2M504.4 442.0L514.1 436.5M504.4 442.0L502.4 438.5M504.4 442.0L494.8 431.9M504.4 442.0L513.8 447.5M504.4 442.0L502.4 445.1M504.4 442.0L494.9 452.6M529.7 442.0L520.4 436.5M529.7 442.0L532.3 444.2M529.7 442.0L539.3 431.0M529.7 442.0L531.9 438.9M529.7 442.0L520.4 447.1M529.7 442.0L532.3 439.6M529.7 442.0L531.9 445.1M529.7 442.0L539.1 452.2M555.1 442.0L564.4 436.5M555.1 442.0L552.5 444.2M555.1 442.0L545.5 431.0M555.1 442.0L552.9 438.9M555.1 442.0L564.4 447.1M555.1 442.0L552.5 439.6M555.1 442.0L552.9 445.1M555.1 442.0L545.7 452.2M377.5 492.8L368.1 487.2M377.5 492.8L379.5 489.6M377.5 492.8L387.0 482.2M377.5 492.8L367.7 498.2M377.5 492.8L379.5 496.2M377.5 492.8L387.1 502.9M428.2 492.8L418.9 487.6M428.2 492.8L430.8 495.1M428.2 492.8L430.4 489.6M428.2 492.8L437.7 482.6M428.2 492.8L418.9 498.2M428.2 492.8L430.8 490.6M428.2 492.8L437.8 503.8M428.2 492.8L430.4 495.8M479.0 492.8L469.6 487.2M479.0 492.8L481.0 489.6M479.0 492.8L488.5 482.2M479.0 492.8L469.2 498.2M479.0 492.8L481.0 496.2M479.0 492.8L488.6 502.9M529.7 492.8L520.4 487.6M529.7 492.8L532.3 495.1M529.7 492.8L531.9 489.6M529.7 492.8L539.1 482.6M529.7 492.8L520.4 498.2M529.7 492.8L532.3 490.6M529.7 492.8L539.3 503.8M529.7 492.8L531.9 495.8M555.1 492.8L564.4 487.6M555.1 492.8L552.5 495.1M555.1 492.8L552.9 489.6M555.1 492.8L545.7 482.6M555.1 492.8L564.4 498.2M555.1 492.8L552.5 490.6M555.1 492.8L545.5 503.8M555.1 492.8L552.9 495.8M402.9 543.5L412.7 538.0M402.9 543.5L400.9 540.0M402.9 543.5L393.3 533.4M402.9 543.5L412.2 549.0M402.9 543.5L400.9 546.6M402.9 543.5L393.4 554.0M453.6 543.5L462.9 538.0M453.6 543.5L451.1 545.7M453.6 543.5L444.1 532.5M453.6 543.5L451.4 540.5M453.6 543.5L462.9 548.6M453.6 543.5L451.1 541.1M453.6 543.5L451.4 546.6M453.6 543.5L444.2 553.7M504.4 543.5L514.1 538.0M504.4 543.5L502.4 540.0M504.4 543.5L494.8 533.4M504.4 543.5L513.8 549.0M504.4 543.5L502.4 546.6M504.4 543.5L494.9 554.0M555.1 543.5L564.4 538.0M555.1 543.5L552.5 545.7M555.1 543.5L545.5 532.5M555.1 543.5L552.9 540.5M555.1 543.5L564.4 548.6M555.1 543.5L552.5 541.1M555.1 543.5L552.9 546.6M555.1 543.5L545.7 553.7M377.5 594.2L368.1 588.8M377.5 594.2L379.5 591.1M377.5 594.2L387.0 583.7M377.5 594.2L367.7 599.8M377.5 594.2L379.5 597.8M377.5 594.2L387.1 604.4M402.9 594.2L412.2 588.8M402.9 594.2L400.9 591.1M402.9 594.2L393.4 583.7M402.9 594.2L412.7 599.8M402.9 594.2L400.9 597.8M402.9 594.2L393.3 604.4M428.2 594.2L418.9 589.1M428.2 594.2L430.8 596.6M428.2 594.2L430.4 591.1M428.2 594.2L437.7 584.0M428.2 594.2L418.9 599.8M428.2 594.2L430.8 592.0M428.2 594.2L437.8 605.2M428.2 594.2L430.4 597.3M453.6 594.2L462.9 589.1M453.6 594.2L451.1 596.6M453.6 594.2L451.4 591.1M453.6 594.2L444.2 584.0M453.6 594.2L462.9 599.8M453.6 594.2L451.1 592.0M453.6 594.2L444.1 605.2M453.6 594.2L451.4 597.3M479.0 594.2L469.6 588.8M479.0 594.2L481.0 591.1M479.0 594.2L488.5 583.7M479.0 594.2L469.2 599.8M479.0 594.2L481.0 597.8M479.0 594.2L488.6 604.4M504.4 594.2L513.8 588.8M504.4 594.2L502.4 591.1M504.4 594.2L494.9 583.7M504.4 594.2L514.1 599.8M504.4 594.2L502.4 597.8M504.4 594.2L494.8 604.4M529.7 594.2L520.4 589.1M529.7 594.2L532.3 596.6M529.7 594.2L531.9 591.1M529.7 594.2L539.1 584.0M529.7 594.2L520.4 599.8M529.7 594.2L532.3 592.0M529.7 594.2L539.3 605.2M529.7 594.2L531.9 597.3M402.9 645.0L412.7 639.5M402.9 645.0L400.9 641.5M402.9 645.0L393.3 634.9M402.9 645.0L412.2 650.5M402.9 645.0L400.9 648.1M402.9 645.0L393.4 655.5M453.6 645.0L462.9 639.5M453.6 645.0L451.1 647.2M453.6 645.0L444.1 634.0M453.6 645.0L451.4 642.0M453.6 645.0L462.9 650.1M453.6 645.0L451.1 642.6M453.6 645.0L451.4 648.1M453.6 645.0L444.2 655.2M504.4 645.0L514.1 639.5M504.4 645.0L502.4 641.5M504.4 645.0L494.8 634.9M504.4 645.0L513.8 650.5M504.4 645.0L502.4 648.1M504.4 645.0L494.9 655.5M555.1 645.0L564.4 639.5M555.1 645.0L552.5 647.2M555.1 645.0L545.5 634.0M555.1 645.0L552.9 642.0M555.1 645.0L564.4 650.1M555.1 645.0L552.5 642.6M555.1 645.0L552.9 648.1M555.1 645.0L545.7 655.2M390.2 480.1L379.5 489.6M390.2 480.1L400.9 489.6M390.2 480.1L385.1 470.8M390.2 480.1L395.2 470.8M390.2 480.1L387.0 482.2M390.2 480.1L393.4 482.2M390.2 530.8L379.5 540.0M390.2 530.8L400.9 540.0M390.2 530.8L385.1 521.1M390.2 530.8L395.2 521.1M390.2 530.8L393.3 533.4M390.2 530.8L387.1 533.4M390.2 581.6L379.5 591.1M390.2 581.6L400.9 591.1M390.2 581.6L385.1 572.2M390.2 581.6L395.2 572.2M390.2 581.6L387.0 583.7M390.2 581.6L393.4 583.7M390.2 632.3L379.5 641.5M390.2 632.3L400.9 641.5M390.2 632.3L385.1 622.6M390.2 632.3L395.2 622.6M390.2 632.3L393.3 634.9M390.2 632.3L387.1 634.9M440.9 454.7L430.8 444.2M440.9 454.7L451.1 444.2M440.9 454.7L435.9 464.0M440.9 454.7L445.9 464.0M440.9 454.7L430.4 445.1M440.9 454.7L451.4 445.1M440.9 454.7L444.2 452.2M440.9 454.7L437.7 452.2M440.9 505.4L430.8 495.1M440.9 505.4L451.1 495.1M440.9 505.4L437.8 503.8M440.9 505.4L444.1 503.8M440.9 505.4L435.9 515.1M440.9 505.4L445.9 515.1M440.9 505.4L430.4 495.8M440.9 505.4L451.4 495.8M440.9 556.2L430.8 545.7M440.9 556.2L451.1 545.7M440.9 556.2L435.9 565.5M440.9 556.2L445.9 565.5M440.9 556.2L430.4 546.6M440.9 556.2L451.4 546.6M440.9 556.2L444.2 553.7M440.9 556.2L437.7 553.7M440.9 606.9L430.8 596.6M440.9 606.9L451.1 596.6M440.9 606.9L437.8 605.2M440.9 606.9L444.1 605.2M440.9 606.9L435.9 616.6M440.9 606.9L445.9 616.6M440.9 606.9L430.4 597.3M440.9 606.9L451.4 597.3M491.7 480.1L481.0 489.6M491.7 480.1L502.4 489.6M491.7 480.1L486.6 470.8M491.7 480.1L496.8 470.8M491.7 480.1L488.5 482.2M491.7 480.1L494.9 482.2M491.7 530.8L481.0 540.0M491.7 530.8L502.4 540.0M491.7 530.8L486.6 521.1M491.7 530.8L496.8 521.1M491.7 530.8L494.8 533.4M491.7 530.8L488.6 533.4M491.7 556.2L481.0 546.6M491.7 556.2L502.4 546.6M491.7 556.2L486.6 565.5M491.7 556.2L496.8 565.5M491.7 556.2L488.5 554.0M491.7 556.2L494.9 554.0M491.7 581.6L481.0 591.1M491.7 581.6L502.4 591.1M491.7 581.6L486.6 572.2M491.7 581.6L496.8 572.2M491.7 581.6L488.5 583.7M491.7 581.6L494.9 583.7M491.7 632.3L481.0 641.5M491.7 632.3L502.4 641.5M491.7 632.3L486.6 622.6M491.7 632.3L496.8 622.6M491.7 632.3L494.8 634.9M491.7 632.3L488.6 634.9M542.4 454.7L532.3 444.2M542.4 454.7L552.5 444.2M542.4 454.7L537.4 464.0M542.4 454.7L547.4 464.0M542.4 454.7L531.9 445.1M542.4 454.7L552.9 445.1M542.4 454.7L545.7 452.2M542.4 454.7L539.1 452.2M542.4 505.4L532.3 495.1M542.4 505.4L552.5 495.1M542.4 505.4L539.3 503.8M542.4 505.4L545.5 503.8M542.4 505.4L537.4 515.1M542.4 505.4L547.4 515.1M542.4 505.4L531.9 495.8M542.4 505.4L552.9 495.8M542.4 556.2L532.3 545.7M542.4 556.2L552.5 545.7M542.4 556.2L537.4 565.5M542.4 556.2L547.4 565.5M542.4 556.2L531.9 546.6M542.4 556.2L552.9 546.6M542.4 556.2L545.7 553.7M542.4 556.2L539.1 553.7M542.4 606.9L532.3 596.6M542.4 606.9L552.5 596.6M542.4 606.9L539.3 605.2M542.4 606.9L545.5 605.2M542.4 606.9L537.4 616.6M542.4 606.9L547.4 616.6M542.4 606.9L531.9 597.3M542.4 606.9L552.9 597.3"/>
<path stroke="#c8a040" stroke-width="1.0" stroke-dasharray="1.2,1.0" stroke-opacity="0.8" d="M362.8 434.0L362.8 450.0M413.6 434.0L413.6 450.0M464.3 434.0L464.3 450.0M515.0 434.0L515.0 450.0M565.8 434.0L565.8 450.0M388.2 459.4L388.2 475.4M438.9 459.4L438.9 475.4M489.7 459.4L489.7 475.4M540.4 459.4L540.4 475.4M362.8 484.8L362.8 500.8M413.6 484.8L413.6 500.8M464.3 484.8L464.3 500.8M515.0 484.8L515.0 500.8M565.8 484.8L565.8 500.8M388.2 510.1L388.2 526.1M438.9 510.1L438.9 526.1M489.7 510.1L489.7 526.1M540.4 510.1L540.4 526.1M362.8 535.5L362.8 551.5M413.6 535.5L413.6 551.5M464.3 535.5L464.3 551.5M515.0 535.5L515.0 551.5M565.8 535.5L565.8 551.5M388.2 560.9L388.2 576.9M438.9 560.9L438.9 576.9M489.7 560.9L489.7 576.9M540.4 560.9L540.4 576.9M362.8 586.2L362.8 602.2M413.6 586.2L413.6 602.2M464.3 586.2L464.3 602.2M515.0 586.2L515.0 602.2M565.8 586.2L565.8 602.2M388.2 611.6L388.2 627.6M438.9 611.6L438.9 627.6M489.7 611.6L489.7 627.6M540.4 611.6L540.4 627.6M362.8 637.0L362.8 653.0M413.6 637.0L413.6 653.0M464.3 637.0L464.3 653.0M515.0 637.0L515.0 653.0M565.8 637.0L565.8 653.0"/>
<path stroke="#4040e0" stroke-width="1.0" stroke-dasharray="1.2,1.0" stroke-opacity="0.8" d="M366.8 434.0L366.8 450.0M417.6 434.0L417.6 450.0M468.3 434.0L468.3 450.0M519.0 434.0L519.0 450.0M569.8 434.0L569.8 450.0M392.2 459.4L392.2 475.4M442.9 459.4L442.9 475.4M493.7 459.4L493.7 475.4M544.4 459.4L544.4 475.4M366.8 484.8L366.8 500.8M417.6 484.8L417.6 500.8M468.3 484.8L468.3 500.8M519.0 484.8L519.0 500.8M569.8 484.8L569.8 500.8M392.2 510.1L392.2 526.1M442.9 510.1L442.9 526.1M493.7 510.1L493.7 526.1M544.4 510.1L544.4 526.1M366.8 535.5L366.8 551.5M417.6 535.5L417.6 551.5M468.3 535.5L468.3 551.5M519.0 535.5L519.0 551.5M569.8 535.5L569.8 551.5M392.2 560.9L392.2 576.9M442.9 560.9L442.9 576.9M493.7 560.9L493.7 576.9M544.4 560.9L544.4 576.9M366.8 586.2L366.8 602.2M417.6 586.2L417.6 602.2M468.3 586.2L468.3 602.2M519.0 586.2L519.0 602.2M569.8 586.2L569.8 602.2M392.2 611.6L392.2 627.6M442.9 611.6L442.9 627.6M493.7 611.6L493.7 627.6M544.4 611.6L544.4 627.6M366.8 637.0L366.8 653.0M417.6 637.0L417.6 653.0M468.3 637.0L468.3 653.0M519.0 637.0L519.0 653.0M569.8 637.0L569.8 653.0"/>
</g>
<style>.o{fill:url(#gO)}.l{fill:url(#gL)}.g{fill:url(#gG)}.p{fill:url(#gP)}.b{fill:url(#gB)}</style>
<g>
<circle class="l" cx="358.6" cy="456.5" r="4.2"/>
<circle class="l" cx="358.6" cy="478.2" r="4.2"/>
<circle class="l" cx="358.6" cy="558.0" r="4.2"/>
<circle class="l" cx="358.6" cy="579.8" r="4.2"/>
<circle class="l" cx="402.8" cy="442.4" r="4.2"/>
<circle class="l" cx="377.6" cy="442.4" r="4.2"/>
<circle class="l" cx="371.3" cy="457.3" r="4.2"/>
<circle class="l" cx="409.1" cy="457.3" r="4.2"/>
<circle class="l" cx="371.3" cy="477.4" r="4.2"/>
<circle class="l" cx="409.1" cy="477.4" r="4.2"/>
<circle class="l" cx="390.2" cy="454.6" r="4.2"/>
<circle class="l" cx="390.2" cy="480.1" r="4.2"/>
<circle class="l" cx="396.9" cy="449.4" r="4.2"/>
<circle class="l" cx="383.4" cy="449.4" r="4.2"/>
<circle class="l" cx="396.9" cy="485.4" r="4.2"/>
<circle class="l" cx="383.4" cy="485.4" r="4.2"/>
<circle class="l" cx="400.4" cy="474.7" r="4.2"/>
<circle class="l" cx="379.9" cy="474.7" r="4.2"/>
<circle class="l" cx="400.4" cy="460.1" r="4.2"/>
<circle class="l" cx="379.9" cy="460.1" r="4.2"/>
<circle class="l" cx="402.8" cy="490.8" r="4.2"/>
<circle class="l" cx="377.6" cy="490.8" r="4.2"/>
<circle class="l" cx="402.8" cy="443.9" r="4.2"/>
<circle class="l" cx="377.6" cy="443.9" r="4.2"/>
<circle class="l" cx="390.2" cy="505.4" r="4.2"/>
<circle class="l" cx="390.2" cy="530.9" r="4.2"/>
<circle class="l" cx="398.1" cy="500.1" r="4.2"/>
<circle class="l" cx="382.2" cy="500.1" r="4.2"/>
<circle class="l" cx="398.1" cy="536.1" r="4.2"/>
<circle class="l" cx="382.2" cy="536.1" r="4.2"/>
<circle class="l" cx="402.8" cy="492.4" r="4.2"/>
<circle class="l" cx="377.6" cy="492.4" r="4.2"/>
<circle class="l" cx="402.8" cy="543.9" r="4.2"/>
<circle class="l" cx="377.6" cy="543.9" r="4.2"/>
<circle class="l" cx="379.9" cy="525.9" r="4.2"/>
<circle class="l" cx="400.4" cy="525.9" r="4.2"/>
<circle class="l" cx="379.9" cy="510.4" r="4.2"/>
<circle class="l" cx="400.4" cy="510.4" r="4.2"/>
<circle class="l" cx="372.8" cy="500.8" r="4.2"/>
<circle class="l" cx="407.6" cy="500.8" r="4.2"/>
<circle class="l" cx="372.8" cy="535.5" r="4.2"/>
<circle class="l" cx="407.6" cy="535.5" r="4.2"/>
<circle class="l" cx="371.3" cy="558.8" r="4.2"/>
<circle class="l" cx="409.1" cy="558.8" r="4.2"/>
<circle class="l" cx="371.3" cy="579.0" r="4.2"/>
<circle class="l" cx="409.1" cy="579.0" r="4.2"/>
<circle class="l" cx="390.2" cy="556.1" r="4.2"/>
<circle class="l" cx="390.2" cy="581.6" r="4.2"/>
<circle class="l" cx="396.9" cy="550.9" r="4.2"/>
<circle class="l" cx="383.4" cy="550.9" r="4.2"/>
<circle class="l" cx="396.9" cy="586.9" r="4.2"/>
<circle class="l" cx="383.4" cy="586.9" r="4.2"/>
<circle class="l" cx="400.4" cy="576.2" r="4.2"/>
<circle class="l" cx="379.9" cy="576.2" r="4.2"/>
<circle class="l" cx="400.4" cy="561.5" r="4.2"/>
<circle class="l" cx="379.9" cy="561.5" r="4.2"/>
<circle class="l" cx="402.8" cy="592.3" r="4.2"/>
<circle class="l" cx="377.6" cy="592.3" r="4.2"/>
<circle class="l" cx="402.8" cy="545.5" r="4.2"/>
<circle class="l" cx="377.6" cy="545.5" r="4.2"/>
<circle class="l" cx="390.2" cy="606.9" r="4.2"/>
<circle class="l" cx="390.2" cy="632.4" r="4.2"/>
<circle class="l" cx="398.1" cy="601.6" r="4.2"/>
<circle class="l" cx="382.2" cy="601.6" r="4.2"/>
<circle class="l" cx="398.1" cy="637.6" r="4.2"/>
<circle class="l" cx="382.2" cy="637.6" r="4.2"/>
<circle class="l" cx="402.8" cy="593.9" r="4.2"/>
<circle class="l" cx="377.6" cy="593.9" r="4.2"/>
<circle class="l" cx="402.8" cy="645.4" r="4.2"/>
<circle class="l" cx="377.6" cy="645.4" r="4.2"/>
<circle class="l" cx="379.9" cy="627.4" r="4.2"/>
<circle class="l" cx="400.4" cy="627.4" r="4.2"/>
<circle class="l" cx="379.9" cy="611.9" r="4.2"/>
<circle class="l" cx="400.4" cy="611.9" r="4.2"/>
<circle class="l" cx="372.8" cy="602.2" r="4.2"/>
<circle class="l" cx="407.6" cy="602.2" r="4.2"/>
<circle class="l" cx="372.8" cy="637.0" r="4.2"/>
<circle class="l" cx="407.6" cy="637.0" r="4.2"/>
<circle class="l" cx="402.8" cy="647.0" r="4.2"/>
<circle class="l" cx="377.6" cy="647.0" r="4.2"/>
<circle class="l" cx="454.0" cy="440.8" r="4.2"/>
<circle class="l" cx="427.9" cy="440.8" r="4.2"/>
<circle class="l" cx="428.1" cy="442.8" r="4.2"/>
<circle class="l" cx="453.8" cy="442.8" r="4.2"/>
<circle class="l" cx="428.1" cy="491.9" r="4.2"/>
<circle class="l" cx="453.8" cy="491.9" r="4.2"/>
<circle class="l" cx="433.6" cy="449.8" r="4.2"/>
<circle class="l" cx="448.3" cy="449.8" r="4.2"/>
<circle class="l" cx="433.6" cy="484.9" r="4.2"/>
<circle class="l" cx="448.3" cy="484.9" r="4.2"/>
<circle class="l" cx="421.8" cy="456.5" r="4.2"/>
<circle class="l" cx="460.1" cy="456.5" r="4.2"/>
<circle class="l" cx="421.8" cy="478.2" r="4.2"/>
<circle class="l" cx="460.1" cy="478.2" r="4.2"/>
<circle class="l" cx="430.9" cy="460.1" r="4.2"/>
<circle class="l" cx="451.0" cy="460.1" r="4.2"/>
<circle class="l" cx="430.9" cy="474.6" r="4.2"/>
<circle class="l" cx="451.0" cy="474.6" r="4.2"/>
<circle class="l" cx="441.1" cy="479.8" r="4.2"/>
<circle class="l" cx="441.1" cy="454.9" r="4.2"/>
<circle class="l" cx="432.7" cy="500.6" r="4.2"/>
<circle class="l" cx="449.2" cy="500.6" r="4.2"/>
<circle class="l" cx="432.7" cy="535.7" r="4.2"/>
<circle class="l" cx="449.2" cy="535.7" r="4.2"/>
<circle class="l" cx="454.0" cy="493.9" r="4.2"/>
<circle class="l" cx="427.9" cy="493.9" r="4.2"/>
<circle class="l" cx="454.0" cy="542.3" r="4.2"/>
<circle class="l" cx="427.9" cy="542.3" r="4.2"/>
<circle class="l" cx="451.2" cy="510.9" r="4.2"/>
<circle class="l" cx="430.7" cy="510.9" r="4.2"/>
<circle class="l" cx="451.2" cy="525.4" r="4.2"/>
<circle class="l" cx="430.7" cy="525.4" r="4.2"/>
<circle class="l" cx="441.0" cy="531.0" r="4.2"/>
<circle class="l" cx="441.0" cy="505.3" r="4.2"/>
<circle class="l" cx="423.6" cy="506.8" r="4.2"/>
<circle class="l" cx="458.3" cy="506.8" r="4.2"/>
<circle class="l" cx="423.6" cy="529.5" r="4.2"/>
<circle class="l" cx="458.3" cy="529.5" r="4.2"/>
<circle class="l" cx="428.1" cy="544.3" r="4.2"/>
<circle class="l" cx="453.8" cy="544.3" r="4.2"/>
<circle class="l" cx="428.1" cy="593.5" r="4.2"/>
<circle class="l" cx="453.8" cy="593.5" r="4.2"/>
<circle class="l" cx="433.6" cy="551.3" r="4.2"/>
<circle class="l" cx="448.3" cy="551.3" r="4.2"/>
<circle class="l" cx="433.6" cy="586.5" r="4.2"/>
<circle class="l" cx="448.3" cy="586.5" r="4.2"/>
<circle class="l" cx="421.8" cy="558.0" r="4.2"/>
<circle class="l" cx="460.1" cy="558.0" r="4.2"/>
<circle class="l" cx="421.8" cy="579.8" r="4.2"/>
<circle class="l" cx="460.1" cy="579.8" r="4.2"/>
<circle class="l" cx="430.9" cy="561.6" r="4.2"/>
<circle class="l" cx="451.0" cy="561.6" r="4.2"/>
<circle class="l" cx="430.9" cy="576.1" r="4.2"/>
<circle class="l" cx="451.0" cy="576.1" r="4.2"/>
<circle class="l" cx="441.1" cy="581.3" r="4.2"/>
<circle class="l" cx="441.1" cy="556.5" r="4.2"/>
<circle class="l" cx="432.7" cy="602.0" r="4.2"/>
<circle class="l" cx="449.2" cy="602.0" r="4.2"/>
<circle class="l" cx="432.7" cy="637.2" r="4.2"/>
<circle class="l" cx="449.2" cy="637.2" r="4.2"/>
<circle class="l" cx="454.0" cy="595.5" r="4.2"/>
<circle class="l" cx="427.9" cy="595.5" r="4.2"/>
<circle class="l" cx="454.0" cy="643.8" r="4.2"/>
<circle class="l" cx="427.9" cy="643.8" r="4.2"/>
<circle class="l" cx="451.2" cy="612.4" r="4.2"/>
<circle class="l" cx="430.7" cy="612.4" r="4.2"/>
<circle class="l" cx="451.2" cy="626.9" r="4.2"/>
<circle class="l" cx="430.7" cy="626.9" r="4.2"/>
<circle class="l" cx="441.0" cy="632.5" r="4.2"/>
<circle class="l" cx="441.0" cy="606.8" r="4.2"/>
<circle class="l" cx="423.6" cy="608.2" r="4.2"/>
<circle class="l" cx="458.3" cy="608.2" r="4.2"/>
<circle class="l" cx="423.6" cy="631.0" r="4.2"/>
<circle class="l" cx="458.3" cy="631.0" r="4.2"/>
<circle class="l" cx="428.1" cy="645.8" r="4.2"/>
<circle class="l" cx="453.8" cy="645.8" r="4.2"/>
<circle class="l" cx="504.3" cy="442.4" r="4.2"/>
<circle class="l" cx="479.1" cy="442.4" r="4.2"/>
<circle class="l" cx="472.8" cy="457.3" r="4.2"/>
<circle class="l" cx="510.6" cy="457.3" r="4.2"/>
<circle class="l" cx="472.8" cy="477.4" r="4.2"/>
<circle class="l" cx="510.6" cy="477.4" r="4.2"/>
<circle class="l" cx="491.7" cy="454.6" r="4.2"/>
<circle class="l" cx="491.7" cy="480.1" r="4.2"/>
<circle class="l" cx="498.4" cy="449.4" r="4.2"/>
<circle class="l" cx="484.9" cy="449.4" r="4.2"/>
<circle class="l" cx="498.4" cy="485.4" r="4.2"/>
<circle class="l" cx="484.9" cy="485.4" r="4.2"/>
<circle class="l" cx="501.9" cy="474.7" r="4.2"/>
<circle class="l" cx="481.4" cy="474.7" r="4.2"/>
<circle class="l" cx="501.9" cy="460.1" r="4.2"/>
<circle class="l" cx="481.4" cy="460.1" r="4.2"/>
<circle class="l" cx="504.3" cy="490.8" r="4.2"/>
<circle class="l" cx="479.1" cy="490.8" r="4.2"/>
<circle class="l" cx="504.3" cy="443.9" r="4.2"/>
<circle class="l" cx="479.1" cy="443.9" r="4.2"/>
<circle class="l" cx="491.7" cy="505.4" r="4.2"/>
<circle class="l" cx="491.7" cy="530.9" r="4.2"/>
<circle class="l" cx="499.6" cy="500.1" r="4.2"/>
<circle class="l" cx="483.8" cy="500.1" r="4.2"/>
<circle class="l" cx="499.6" cy="536.1" r="4.2"/>
<circle class="l" cx="483.8" cy="536.1" r="4.2"/>
<circle class="l" cx="504.3" cy="492.4" r="4.2"/>
<circle class="l" cx="479.1" cy="492.4" r="4.2"/>
<circle class="l" cx="504.3" cy="543.9" r="4.2"/>
<circle class="l" cx="479.1" cy="543.9" r="4.2"/>
<circle class="l" cx="481.4" cy="525.9" r="4.2"/>
<circle class="l" cx="501.9" cy="525.9" r="4.2"/>
<circle class="l" cx="481.4" cy="510.4" r="4.2"/>
<circle class="l" cx="501.9" cy="510.4" r="4.2"/>
<circle class="l" cx="474.3" cy="500.8" r="4.2"/>
<circle class="l" cx="509.1" cy="500.8" r="4.2"/>
<circle class="l" cx="474.3" cy="535.5" r="4.2"/>
<circle class="l" cx="509.1" cy="535.5" r="4.2"/>
<circle class="l" cx="472.8" cy="558.8" r="4.2"/>
<circle class="l" cx="510.6" cy="558.8" r="4.2"/>
<circle class="l" cx="472.8" cy="579.0" r="4.2"/>
<circle class="l" cx="510.6" cy="579.0" r="4.2"/>
<circle class="l" cx="491.7" cy="556.1" r="4.2"/>
<circle class="l" cx="491.7" cy="581.6" r="4.2"/>
<circle class="l" cx="498.4" cy="550.9" r="4.2"/>
<circle class="l" cx="484.9" cy="550.9" r="4.2"/>
<circle class="l" cx="498.4" cy="586.9" r="4.2"/>
<circle class="l" cx="484.9" cy="586.9" r="4.2"/>
<circle class="l" cx="501.9" cy="576.2" r="4.2"/>
<circle class="l" cx="481.4" cy="576.2" r="4.2"/>
<circle class="l" cx="501.9" cy="561.5" r="4.2"/>
<circle class="l" cx="481.4" cy="561.5" r="4.2"/>
<circle class="l" cx="504.3" cy="592.3" r="4.2"/>
<circle class="l" cx="479.1" cy="592.3" r="4.2"/>
<circle class="l" cx="504.3" cy="545.5" r="4.2"/>
<circle class="l" cx="479.1" cy="545.5" r="4.2"/>
<circle class="l" cx="491.7" cy="606.9" r="4.2"/>
<circle class="l" cx="491.7" cy="632.4" r="4.2"/>
<circle class="l" cx="499.6" cy="601.6" r="4.2"/>
<circle class="l" cx="483.8" cy="601.6" r="4.2"/>
<circle class="l" cx="499.6" cy="637.6" r="4.2"/>
<circle class="l" cx="483.8" cy="637.6" r="4.2"/>
<circle class="l" cx="504.3" cy="593.9" r="4.2"/>
<circle class="l" cx="479.1" cy="593.9" r="4.2"/>
<circle class="l" cx="504.3" cy="645.4" r="4.2"/>
<circle class="l" cx="479.1" cy="645.4" r="4.2"/>
<circle class="l" cx="481.4" cy="627.4" r="4.2"/>
<circle class="l" cx="501.9" cy="627.4" r="4.2"/>
<circle class="l" cx="481.4" cy="611.9" r="4.2"/>
<circle class="l" cx="501.9" cy="611.9" r="4.2"/>
<circle class="l" cx="474.3" cy="602.2" r="4.2"/>
<circle class="l" cx="509.1" cy="602.2" r="4.2"/>
<circle class="l" cx="474.3" cy="637.0" r="4.2"/>
<circle class="l" cx="509.1" cy="637.0" r="4.2"/>
<circle class="l" cx="504.3" cy="647.0" r="4.2"/>
<circle class="l" cx="479.1" cy="647.0" r="4.2"/>
<circle class="l" cx="555.5" cy="440.8" r="4.2"/>
<circle class="l" cx="529.3" cy="440.8" r="4.2"/>
<circle class="l" cx="529.5" cy="442.8" r="4.2"/>
<circle class="l" cx="555.3" cy="442.8" r="4.2"/>
<circle class="l" cx="529.5" cy="491.9" r="4.2"/>
<circle class="l" cx="555.3" cy="491.9" r="4.2"/>
<circle class="l" cx="535.0" cy="449.8" r="4.2"/>
<circle class="l" cx="549.8" cy="449.8" r="4.2"/>
<circle class="l" cx="535.0" cy="484.9" r="4.2"/>
<circle class="l" cx="549.8" cy="484.9" r="4.2"/>
<circle class="l" cx="523.2" cy="456.5" r="4.2"/>
<circle class="l" cx="561.6" cy="456.5" r="4.2"/>
<circle class="l" cx="523.2" cy="478.2" r="4.2"/>
<circle class="l" cx="561.6" cy="478.2" r="4.2"/>
<circle class="l" cx="532.3" cy="460.1" r="4.2"/>
<circle class="l" cx="552.5" cy="460.1" r="4.2"/>
<circle class="l" cx="532.3" cy="474.6" r="4.2"/>
<circle class="l" cx="552.5" cy="474.6" r="4.2"/>
<circle class="l" cx="542.5" cy="479.8" r="4.2"/>
<circle class="l" cx="542.5" cy="454.9" r="4.2"/>
<circle class="l" cx="534.2" cy="500.6" r="4.2"/>
<circle class="l" cx="550.6" cy="500.6" r="4.2"/>
<circle class="l" cx="534.2" cy="535.7" r="4.2"/>
<circle class="l" cx="550.6" cy="535.7" r="4.2"/>
<circle class="l" cx="555.5" cy="493.9" r="4.2"/>
<circle class="l" cx="529.3" cy="493.9" r="4.2"/>
<circle class="l" cx="555.5" cy="542.3" r="4.2"/>
<circle class="l" cx="529.3" cy="542.3" r="4.2"/>
<circle class="l" cx="552.7" cy="510.9" r="4.2"/>
<circle class="l" cx="532.1" cy="510.9" r="4.2"/>
<circle class="l" cx="552.7" cy="525.4" r="4.2"/>
<circle class="l" cx="532.1" cy="525.4" r="4.2"/>
<circle class="l" cx="542.5" cy="531.0" r="4.2"/>
<circle class="l" cx="542.5" cy="505.3" r="4.2"/>
<circle class="l" cx="525.0" cy="506.8" r="4.2"/>
<circle class="l" cx="559.8" cy="506.8" r="4.2"/>
<circle class="l" cx="525.0" cy="529.5" r="4.2"/>
<circle class="l" cx="559.8" cy="529.5" r="4.2"/>
<circle class="l" cx="529.5" cy="544.3" r="4.2"/>
<circle class="l" cx="555.3" cy="544.3" r="4.2"/>
<circle class="l" cx="529.5" cy="593.5" r="4.2"/>
<circle class="l" cx="555.3" cy="593.5" r="4.2"/>
<circle class="l" cx="535.0" cy="551.3" r="4.2"/>
<circle class="l" cx="549.8" cy="551.3" r="4.2"/>
<circle class="l" cx="535.0" cy="586.5" r="4.2"/>
<circle class="l" cx="549.8" cy="586.5" r="4.2"/>
<circle class="l" cx="523.2" cy="558.0" r="4.2"/>
<circle class="l" cx="561.6" cy="558.0" r="4.2"/>
<circle class="l" cx="523.2" cy="579.8" r="4.2"/>
<circle class="l" cx="561.6" cy="579.8" r="4.2"/>
<circle class="l" cx="532.3" cy="561.6" r="4.2"/>
<circle class="l" cx="552.5" cy="561.6" r="4.2"/>
<circle class="l" cx="532.3" cy="576.1" r="4.2"/>
<circle class="l" cx="552.5" cy="576.1" r="4.2"/>
<circle class="l" cx="542.5" cy="581.3" r="4.2"/>
<circle class="l" cx="542.5" cy="556.5" r="4.2"/>
<circle class="l" cx="534.2" cy="602.0" r="4.2"/>
<circle class="l" cx="550.6" cy="602.0" r="4.2"/>
<circle class="l" cx="534.2" cy="637.2" r="4.2"/>
<circle class="l" cx="550.6" cy="637.2" r="4.2"/>
<circle class="l" cx="555.5" cy="595.5" r="4.2"/>
<circle class="l" cx="529.3" cy="595.5" r="4.2"/>
<circle class="l" cx="555.5" cy="643.8" r="4.2"/>
<circle class="l" cx="529.3" cy="643.8" r="4.2"/>
<circle class="l" cx="552.7" cy="612.4" r="4.2"/>
<circle class="l" cx="532.1" cy="612.4" r="4.2"/>
<circle class="l" cx="552.7" cy="626.9" r="4.2"/>
<circle class="l" cx="532.1" cy="626.9" r="4.2"/>
<circle class="l" cx="542.5" cy="632.5" r="4.2"/>
<circle class="l" cx="542.5" cy="606.8" r="4.2"/>
<circle class="l" cx="525.0" cy="608.2" r="4.2"/>
<circle class="l" cx="559.8" cy="608.2" r="4.2"/>
<circle class="l" cx="525.0" cy="631.0" r="4.2"/>
<circle class="l" cx="559.8" cy="631.0" r="4.2"/>
<circle class="l" cx="529.5" cy="645.8" r="4.2"/>
<circle class="l" cx="555.3" cy="645.8" r="4.2"/>
<circle class="l" cx="574.3" cy="457.3" r="4.2"/>
<circle class="l" cx="574.3" cy="477.4" r="4.2"/>
<circle class="l" cx="574.3" cy="558.8" r="4.2"/>
<circle class="l" cx="574.3" cy="579.0" r="4.2"/>
<rect x="364.8" y="442.0" width="203.0" height="203.0" fill="none" stroke="#111" stroke-width="1.6"/>
<circle class="g" cx="364.8" cy="442.0" r="4.2"/>
<circle class="p" cx="415.6" cy="442.0" r="4.3"/>
<circle class="g" cx="466.3" cy="442.0" r="4.2"/>
<circle class="p" cx="517.0" cy="442.0" r="4.3"/>
<circle class="g" cx="567.8" cy="442.0" r="4.2"/>
<circle class="b" cx="364.8" cy="467.4" r="4.4"/>
<circle class="p" cx="390.2" cy="467.4" r="4.3"/>
<circle class="b" cx="415.6" cy="467.4" r="4.4"/>
<circle class="p" cx="440.9" cy="467.4" r="4.3"/>
<circle class="b" cx="466.3" cy="467.4" r="4.4"/>
<circle class="g" cx="491.7" cy="467.4" r="4.2"/>
<circle class="l" cx="517.0" cy="467.4" r="4.4"/>
<circle class="p" cx="542.4" cy="467.4" r="4.3"/>
<circle class="b" cx="567.8" cy="467.4" r="4.4"/>
<circle class="g" cx="364.8" cy="492.8" r="4.2"/>
<circle class="p" cx="415.6" cy="492.8" r="4.3"/>
<circle class="g" cx="466.3" cy="492.8" r="4.2"/>
<circle class="g" cx="517.0" cy="492.8" r="4.2"/>
<circle class="g" cx="567.8" cy="492.8" r="4.2"/>
<circle class="l" cx="364.8" cy="518.1" r="4.4"/>
<circle class="g" cx="390.2" cy="518.1" r="4.2"/>
<circle class="b" cx="415.6" cy="518.1" r="4.4"/>
<circle class="g" cx="440.9" cy="518.1" r="4.2"/>
<circle class="l" cx="466.3" cy="518.1" r="4.4"/>
<circle class="g" cx="491.7" cy="518.1" r="4.2"/>
<circle class="b" cx="517.0" cy="518.1" r="4.4"/>
<circle class="g" cx="542.4" cy="518.1" r="4.2"/>
<circle class="l" cx="567.8" cy="518.1" r="4.4"/>
<circle class="g" cx="364.8" cy="543.5" r="4.2"/>
<circle class="g" cx="415.6" cy="543.5" r="4.2"/>
<circle class="p" cx="466.3" cy="543.5" r="4.3"/>
<circle class="g" cx="517.0" cy="543.5" r="4.2"/>
<circle class="g" cx="567.8" cy="543.5" r="4.2"/>
<circle class="b" cx="364.8" cy="568.9" r="4.4"/>
<circle class="p" cx="390.2" cy="568.9" r="4.3"/>
<circle class="l" cx="415.6" cy="568.9" r="4.4"/>
<circle class="g" cx="440.9" cy="568.9" r="4.2"/>
<circle class="b" cx="466.3" cy="568.9" r="4.4"/>
<circle class="p" cx="491.7" cy="568.9" r="4.3"/>
<circle class="l" cx="517.0" cy="568.9" r="4.4"/>
<circle class="g" cx="542.4" cy="568.9" r="4.2"/>
<circle class="b" cx="567.8" cy="568.9" r="4.4"/>
<circle class="g" cx="364.8" cy="594.2" r="4.2"/>
<circle class="p" cx="415.6" cy="594.2" r="4.3"/>
<circle class="p" cx="466.3" cy="594.2" r="4.3"/>
<circle class="p" cx="517.0" cy="594.2" r="4.3"/>
<circle class="g" cx="567.8" cy="594.2" r="4.2"/>
<circle class="l" cx="364.8" cy="619.6" r="4.4"/>
<circle class="p" cx="390.2" cy="619.6" r="4.3"/>
<circle class="b" cx="415.6" cy="619.6" r="4.4"/>
<circle class="p" cx="440.9" cy="619.6" r="4.3"/>
<circle class="b" cx="466.3" cy="619.6" r="4.4"/>
<circle class="p" cx="491.7" cy="619.6" r="4.3"/>
<circle class="b" cx="517.0" cy="619.6" r="4.4"/>
<circle class="p" cx="542.4" cy="619.6" r="4.3"/>
<circle class="l" cx="567.8" cy="619.6" r="4.4"/>
<circle class="g" cx="364.8" cy="645.0" r="4.2"/>
<circle class="p" cx="415.6" cy="645.0" r="4.3"/>
<circle class="g" cx="466.3" cy="645.0" r="4.2"/>
<circle class="p" cx="517.0" cy="645.0" r="4.3"/>
<circle class="g" cx="567.8" cy="645.0" r="4.2"/>
<circle class="b" cx="402.9" cy="442.0" r="4.4"/>
<circle class="b" cx="453.6" cy="442.0" r="4.4"/>
<circle class="b" cx="504.4" cy="442.0" r="4.4"/>
<circle class="b" cx="529.7" cy="442.0" r="4.4"/>
<circle class="b" cx="555.1" cy="442.0" r="4.4"/>
<circle class="b" cx="377.5" cy="492.8" r="4.4"/>
<circle class="b" cx="428.2" cy="492.8" r="4.4"/>
<circle class="b" cx="479.0" cy="492.8" r="4.4"/>
<circle class="b" cx="529.7" cy="492.8" r="4.4"/>
<circle class="b" cx="555.1" cy="492.8" r="4.4"/>
<circle class="b" cx="402.9" cy="543.5" r="4.4"/>
<circle class="b" cx="453.6" cy="543.5" r="4.4"/>
<circle class="b" cx="504.4" cy="543.5" r="4.4"/>
<circle class="b" cx="555.1" cy="543.5" r="4.4"/>
<circle class="b" cx="377.5" cy="594.2" r="4.4"/>
<circle class="b" cx="402.9" cy="594.2" r="4.4"/>
<circle class="b" cx="428.2" cy="594.2" r="4.4"/>
<circle class="b" cx="453.6" cy="594.2" r="4.4"/>
<circle class="b" cx="479.0" cy="594.2" r="4.4"/>
<circle class="b" cx="504.4" cy="594.2" r="4.4"/>
<circle class="b" cx="529.7" cy="594.2" r="4.4"/>
<circle class="b" cx="402.9" cy="645.0" r="4.4"/>
<circle class="b" cx="453.6" cy="645.0" r="4.4"/>
<circle class="b" cx="504.4" cy="645.0" r="4.4"/>
<circle class="b" cx="555.1" cy="645.0" r="4.4"/>
<circle class="b" cx="390.2" cy="480.1" r="4.4"/>
<circle class="b" cx="390.2" cy="530.8" r="4.4"/>
<circle class="b" cx="390.2" cy="581.6" r="4.4"/>
<circle class="b" cx="390.2" cy="632.3" r="4.4"/>
<circle class="b" cx="440.9" cy="454.7" r="4.4"/>
<circle class="b" cx="440.9" cy="505.4" r="4.4"/>
<circle class="b" cx="440.9" cy="556.2" r="4.4"/>
<circle class="b" cx="440.9" cy="606.9" r="4.4"/>
<circle class="b" cx="491.7" cy="480.1" r="4.4"/>
<circle class="b" cx="491.7" cy="530.8" r="4.4"/>
<circle class="b" cx="491.7" cy="556.2" r="4.4"/>
<circle class="b" cx="491.7" cy="581.6" r="4.4"/>
<circle class="b" cx="491.7" cy="632.3" r="4.4"/>
<circle class="b" cx="542.4" cy="454.7" r="4.4"/>
<circle class="b" cx="542.4" cy="505.4" r="4.4"/>
<circle class="b" cx="542.4" cy="556.2" r="4.4"/>
<circle class="b" cx="542.4" cy="606.9" r="4.4"/>
<circle class="o" cx="361.4" cy="436.5" r="2.4"/>
<circle class="o" cx="349.6" cy="444.2" r="2.4"/>
<circle class="o" cx="359.4" cy="426.7" r="2.4"/>
<circle class="o" cx="354.4" cy="421.5" r="2.4"/>
<circle class="o" cx="349.9" cy="438.9" r="2.4"/>
<circle class="o" cx="361.4" cy="447.1" r="2.4"/>
<circle class="o" cx="361.4" cy="487.6" r="2.4"/>
<circle class="o" cx="349.6" cy="439.6" r="2.4"/>
<circle class="o" cx="349.6" cy="495.1" r="2.4"/>
<circle class="o" cx="359.4" cy="456.9" r="2.4"/>
<circle class="o" cx="359.4" cy="477.9" r="2.4"/>
<circle class="o" cx="354.4" cy="462.5" r="2.4"/>
<circle class="o" cx="354.4" cy="472.2" r="2.4"/>
<circle class="o" cx="344.4" cy="464.0" r="2.4"/>
<circle class="o" cx="344.4" cy="470.8" r="2.4"/>
<circle class="o" cx="349.9" cy="489.6" r="2.4"/>
<circle class="o" cx="349.9" cy="445.1" r="2.4"/>
<circle class="o" cx="361.4" cy="498.2" r="2.4"/>
<circle class="o" cx="361.4" cy="538.0" r="2.4"/>
<circle class="o" cx="349.6" cy="490.6" r="2.4"/>
<circle class="o" cx="349.6" cy="545.7" r="2.4"/>
<circle class="o" cx="359.4" cy="508.1" r="2.4"/>
<circle class="o" cx="359.4" cy="528.2" r="2.4"/>
<circle class="o" cx="354.4" cy="513.2" r="2.4"/>
<circle class="o" cx="354.4" cy="523.0" r="2.4"/>
<circle class="o" cx="344.4" cy="515.1" r="2.4"/>
<circle class="o" cx="344.4" cy="521.1" r="2.4"/>
<circle class="o" cx="349.9" cy="540.5" r="2.4"/>
<circle class="o" cx="349.9" cy="495.8" r="2.4"/>
<circle class="o" cx="361.4" cy="548.6" r="2.4"/>
<circle class="o" cx="361.4" cy="589.1" r="2.4"/>
<circle class="o" cx="349.6" cy="541.1" r="2.4"/>
<circle class="o" cx="349.6" cy="596.6" r="2.4"/>
<circle class="o" cx="359.4" cy="558.4" r="2.4"/>
<circle class="o" cx="359.4" cy="579.4" r="2.4"/>
<circle class="o" cx="354.4" cy="564.0" r="2.4"/>
<circle class="o" cx="354.4" cy="573.8" r="2.4"/>
<circle class="o" cx="344.4" cy="565.5" r="2.4"/>
<circle class="o" cx="344.4" cy="572.2" r="2.4"/>
<circle class="o" cx="349.9" cy="591.1" r="2.4"/>
<circle class="o" cx="349.9" cy="546.6" r="2.4"/>
<circle class="o" cx="361.4" cy="599.8" r="2.4"/>
<circle class="o" cx="361.4" cy="639.5" r="2.4"/>
<circle class="o" cx="349.6" cy="592.0" r="2.4"/>
<circle class="o" cx="349.6" cy="647.2" r="2.4"/>
<circle class="o" cx="359.4" cy="609.5" r="2.4"/>
<circle class="o" cx="359.4" cy="629.7" r="2.4"/>
<circle class="o" cx="354.4" cy="614.8" r="2.4"/>
<circle class="o" cx="354.4" cy="624.5" r="2.4"/>
<circle class="o" cx="344.4" cy="616.6" r="2.4"/>
<circle class="o" cx="344.4" cy="622.6" r="2.4"/>
<circle class="o" cx="349.9" cy="642.0" r="2.4"/>
<circle class="o" cx="349.9" cy="597.3" r="2.4"/>
<circle class="o" cx="361.4" cy="650.1" r="2.4"/>
<circle class="o" cx="349.6" cy="642.6" r="2.4"/>
<circle class="o" cx="359.4" cy="659.9" r="2.4"/>
<circle class="o" cx="354.4" cy="665.5" r="2.4"/>
<circle class="o" cx="349.9" cy="648.1" r="2.4"/>
<circle class="o" cx="367.7" cy="436.5" r="2.4"/>
<circle class="o" cx="412.7" cy="436.5" r="2.4"/>
<circle class="o" cx="379.5" cy="438.5" r="2.4"/>
<circle class="o" cx="400.9" cy="438.5" r="2.4"/>
<circle class="o" cx="369.7" cy="426.7" r="2.4"/>
<circle class="o" cx="410.7" cy="426.7" r="2.4"/>
<circle class="o" cx="375.2" cy="421.5" r="2.4"/>
<circle class="o" cx="405.2" cy="421.5" r="2.4"/>
<circle class="o" cx="393.3" cy="431.9" r="2.4"/>
<circle class="o" cx="387.1" cy="431.9" r="2.4"/>
<circle class="o" cx="368.1" cy="447.5" r="2.4"/>
<circle class="o" cx="412.2" cy="447.5" r="2.4"/>
<circle class="o" cx="368.1" cy="487.2" r="2.4"/>
<circle class="o" cx="412.2" cy="487.2" r="2.4"/>
<circle class="o" cx="379.5" cy="445.1" r="2.4"/>
<circle class="o" cx="400.9" cy="445.1" r="2.4"/>
<circle class="o" cx="379.5" cy="489.6" r="2.4"/>
<circle class="o" cx="400.9" cy="489.6" r="2.4"/>
<circle class="o" cx="410.3" cy="456.5" r="2.4"/>
<circle class="o" cx="370.1" cy="456.5" r="2.4"/>
<circle class="o" cx="410.3" cy="478.2" r="2.4"/>
<circle class="o" cx="370.1" cy="478.2" r="2.4"/>
<circle class="o" cx="375.2" cy="462.1" r="2.4"/>
<circle class="o" cx="405.2" cy="462.1" r="2.4"/>
<circle class="o" cx="375.2" cy="472.6" r="2.4"/>
<circle class="o" cx="405.2" cy="472.6" r="2.4"/>
<circle class="o" cx="385.1" cy="464.0" r="2.4"/>
<circle class="o" cx="395.2" cy="464.0" r="2.4"/>
<circle class="o" cx="385.1" cy="470.8" r="2.4"/>
<circle class="o" cx="395.2" cy="470.8" r="2.4"/>
<circle class="o" cx="387.0" cy="482.2" r="2.4"/>
<circle class="o" cx="393.4" cy="482.2" r="2.4"/>
<circle class="o" cx="387.0" cy="452.6" r="2.4"/>
<circle class="o" cx="393.4" cy="452.6" r="2.4"/>
<circle class="o" cx="367.7" cy="498.2" r="2.4"/>
<circle class="o" cx="412.7" cy="498.2" r="2.4"/>
<circle class="o" cx="367.7" cy="538.0" r="2.4"/>
<circle class="o" cx="412.7" cy="538.0" r="2.4"/>
<circle class="o" cx="379.5" cy="496.2" r="2.4"/>
<circle class="o" cx="400.9" cy="496.2" r="2.4"/>
<circle class="o" cx="379.5" cy="540.0" r="2.4"/>
<circle class="o" cx="400.9" cy="540.0" r="2.4"/>
<circle class="o" cx="369.7" cy="508.1" r="2.4"/>
<circle class="o" cx="410.7" cy="508.1" r="2.4"/>
<circle class="o" cx="369.7" cy="528.2" r="2.4"/>
<circle class="o" cx="410.7" cy="528.2" r="2.4"/>
<circle class="o" cx="375.2" cy="513.2" r="2.4"/>
<circle class="o" cx="405.2" cy="513.2" r="2.4"/>
<circle class="o" cx="375.2" cy="523.0" r="2.4"/>
<circle class="o" cx="405.2" cy="523.0" r="2.4"/>
<circle class="o" cx="385.1" cy="515.1" r="2.4"/>
<circle class="o" cx="395.2" cy="515.1" r="2.4"/>
<circle class="o" cx="385.1" cy="521.1" r="2.4"/>
<circle class="o" cx="395.2" cy="521.1" r="2.4"/>
<circle class="o" cx="393.3" cy="533.4" r="2.4"/>
<circle class="o" cx="387.1" cy="533.4" r="2.4"/>
<circle class="o" cx="393.3" cy="502.9" r="2.4"/>
<circle class="o" cx="387.1" cy="502.9" r="2.4"/>
<circle class="o" cx="368.1" cy="549.0" r="2.4"/>
<circle class="o" cx="412.2" cy="549.0" r="2.4"/>
<circle class="o" cx="368.1" cy="588.8" r="2.4"/>
<circle class="o" cx="412.2" cy="588.8" r="2.4"/>
<circle class="o" cx="379.5" cy="546.6" r="2.4"/>
<circle class="o" cx="400.9" cy="546.6" r="2.4"/>
<circle class="o" cx="379.5" cy="591.1" r="2.4"/>
<circle class="o" cx="400.9" cy="591.1" r="2.4"/>
<circle class="o" cx="410.3" cy="558.0" r="2.4"/>
<circle class="o" cx="370.1" cy="558.0" r="2.4"/>
<circle class="o" cx="410.3" cy="579.8" r="2.4"/>
<circle class="o" cx="370.1" cy="579.8" r="2.4"/>
<circle class="o" cx="375.2" cy="563.6" r="2.4"/>
<circle class="o" cx="405.2" cy="563.6" r="2.4"/>
<circle class="o" cx="375.2" cy="574.1" r="2.4"/>
<circle class="o" cx="405.2" cy="574.1" r="2.4"/>
<circle class="o" cx="385.1" cy="565.5" r="2.4"/>
<circle class="o" cx="395.2" cy="565.5" r="2.4"/>
<circle class="o" cx="385.1" cy="572.2" r="2.4"/>
<circle class="o" cx="395.2" cy="572.2" r="2.4"/>
<circle class="o" cx="387.0" cy="583.7" r="2.4"/>
<circle class="o" cx="393.4" cy="583.7" r="2.4"/>
<circle class="o" cx="387.0" cy="554.0" r="2.4"/>
<circle class="o" cx="393.4" cy="554.0" r="2.4"/>
<circle class="o" cx="367.7" cy="599.8" r="2.4"/>
<circle class="o" cx="412.7" cy="599.8" r="2.4"/>
<circle class="o" cx="367.7" cy="639.5" r="2.4"/>
<circle class="o" cx="412.7" cy="639.5" r="2.4"/>
<circle class="o" cx="379.5" cy="597.8" r="2.4"/>
<circle class="o" cx="400.9" cy="597.8" r="2.4"/>
<circle class="o" cx="379.5" cy="641.5" r="2.4"/>
<circle class="o" cx="400.9" cy="641.5" r="2.4"/>
<circle class="o" cx="369.7" cy="609.5" r="2.4"/>
<circle class="o" cx="410.7" cy="609.5" r="2.4"/>
<circle class="o" cx="369.7" cy="629.7" r="2.4"/>
<circle class="o" cx="410.7" cy="629.7" r="2.4"/>
<circle class="o" cx="375.2" cy="614.8" r="2.4"/>
<circle class="o" cx="405.2" cy="614.8" r="2.4"/>
<circle class="o" cx="375.2" cy="624.5" r="2.4"/>
<circle class="o" cx="405.2" cy="624.5" r="2.4"/>
<circle class="o" cx="385.1" cy="616.6" r="2.4"/>
<circle class="o" cx="395.2" cy="616.6" r="2.4"/>
<circle class="o" cx="385.1" cy="622.6" r="2.4"/>
<circle class="o" cx="395.2" cy="622.6" r="2.4"/>
<circle class="o" cx="393.3" cy="634.9" r="2.4"/>
<circle class="o" cx="387.1" cy="634.9" r="2.4"/>
<circle class="o" cx="393.3" cy="604.4" r="2.4"/>
<circle class="o" cx="387.1" cy="604.4" r="2.4"/>
<circle class="o" cx="368.1" cy="650.5" r="2.4"/>
<circle class="o" cx="412.2" cy="650.5" r="2.4"/>
<circle class="o" cx="379.5" cy="648.1" r="2.4"/>
<circle class="o" cx="400.9" cy="648.1" r="2.4"/>
<circle class="o" cx="410.3" cy="659.5" r="2.4"/>
<circle class="o" cx="370.1" cy="659.5" r="2.4"/>
<circle class="o" cx="375.2" cy="665.1" r="2.4"/>
<circle class="o" cx="405.2" cy="665.1" r="2.4"/>
<circle class="o" cx="387.0" cy="655.5" r="2.4"/>
<circle class="o" cx="393.4" cy="655.5" r="2.4"/>
<circle class="o" cx="418.9" cy="436.5" r="2.4"/>
<circle class="o" cx="462.9" cy="436.5" r="2.4"/>
<circle class="o" cx="430.8" cy="444.2" r="2.4"/>
<circle class="o" cx="451.1" cy="444.2" r="2.4"/>
<circle class="o" cx="437.8" cy="431.0" r="2.4"/>
<circle class="o" cx="444.1" cy="431.0" r="2.4"/>
<circle class="o" cx="420.9" cy="426.7" r="2.4"/>
<circle class="o" cx="460.9" cy="426.7" r="2.4"/>
<circle class="o" cx="426.0" cy="421.5" r="2.4"/>
<circle class="o" cx="455.9" cy="421.5" r="2.4"/>
<circle class="o" cx="430.4" cy="438.9" r="2.4"/>
<circle class="o" cx="451.4" cy="438.9" r="2.4"/>
<circle class="o" cx="418.9" cy="447.1" r="2.4"/>
<circle class="o" cx="462.9" cy="447.1" r="2.4"/>
<circle class="o" cx="418.9" cy="487.6" r="2.4"/>
<circle class="o" cx="462.9" cy="487.6" r="2.4"/>
<circle class="o" cx="430.8" cy="439.6" r="2.4"/>
<circle class="o" cx="451.1" cy="439.6" r="2.4"/>
<circle class="o" cx="430.8" cy="495.1" r="2.4"/>
<circle class="o" cx="451.1" cy="495.1" r="2.4"/>
<circle class="o" cx="420.9" cy="456.9" r="2.4"/>
<circle class="o" cx="460.9" cy="456.9" r="2.4"/>
<circle class="o" cx="420.9" cy="477.9" r="2.4"/>
<circle class="o" cx="460.9" cy="477.9" r="2.4"/>
<circle class="o" cx="426.0" cy="462.5" r="2.4"/>
<circle class="o" cx="455.9" cy="462.5" r="2.4"/>
<circle class="o" cx="426.0" cy="472.2" r="2.4"/>
<circle class="o" cx="455.9" cy="472.2" r="2.4"/>
<circle class="o" cx="435.9" cy="464.0" r="2.4"/>
<circle class="o" cx="445.9" cy="464.0" r="2.4"/>
<circle class="o" cx="435.9" cy="470.8" r="2.4"/>
<circle class="o" cx="445.9" cy="470.8" r="2.4"/>
<circle class="o" cx="430.4" cy="489.6" r="2.4"/>
<circle class="o" cx="451.4" cy="489.6" r="2.4"/>
<circle class="o" cx="430.4" cy="445.1" r="2.4"/>
<circle class="o" cx="451.4" cy="445.1" r="2.4"/>
<circle class="o" cx="444.2" cy="452.2" r="2.4"/>
<circle class="o" cx="437.7" cy="452.2" r="2.4"/>
<circle class="o" cx="444.2" cy="482.6" r="2.4"/>
<circle class="o" cx="437.7" cy="482.6" r="2.4"/>
<circle class="o" cx="418.9" cy="498.2" r="2.4"/>
<circle class="o" cx="462.9" cy="498.2" r="2.4"/>
<circle class="o" cx="418.9" cy="538.0" r="2.4"/>
<circle class="o" cx="462.9" cy="538.0" r="2.4"/>
<circle class="o" cx="430.8" cy="490.6" r="2.4"/>
<circle class="o" cx="451.1" cy="490.6" r="2.4"/>
<circle class="o" cx="430.8" cy="545.7" r="2.4"/>
<circle class="o" cx="451.1" cy="545.7" r="2.4"/>
<circle class="o" cx="437.8" cy="503.8" r="2.4"/>
<circle class="o" cx="444.1" cy="503.8" r="2.4"/>
<circle class="o" cx="437.8" cy="532.5" r="2.4"/>
<circle class="o" cx="444.1" cy="532.5" r="2.4"/>
<circle class="o" cx="420.9" cy="508.1" r="2.4"/>
<circle class="o" cx="460.9" cy="508.1" r="2.4"/>
<circle class="o" cx="420.9" cy="528.2" r="2.4"/>
<circle class="o" cx="460.9" cy="528.2" r="2.4"/>
<circle class="o" cx="426.0" cy="513.2" r="2.4"/>
<circle class="o" cx="455.9" cy="513.2" r="2.4"/>
<circle class="o" cx="426.0" cy="523.0" r="2.4"/>
<circle class="o" cx="455.9" cy="523.0" r="2.4"/>
<circle class="o" cx="435.9" cy="515.1" r="2.4"/>
<circle class="o" cx="445.9" cy="515.1" r="2.4"/>
<circle class="o" cx="435.9" cy="521.1" r="2.4"/>
<circle class="o" cx="445.9" cy="521.1" r="2.4"/>
<circle class="o" cx="430.4" cy="540.5" r="2.4"/>
<circle class="o" cx="451.4" cy="540.5" r="2.4"/>
<circle class="o" cx="430.4" cy="495.8" r="2.4"/>
<circle class="o" cx="451.4" cy="495.8" r="2.4"/>
<circle class="o" cx="418.9" cy="548.6" r="2.4"/>
<circle class="o" cx="462.9" cy="548.6" r="2.4"/>
<circle class="o" cx="418.9" cy="589.1" r="2.4"/>
<circle class="o" cx="462.9" cy="589.1" r="2.4"/>
<circle class="o" cx="430.8" cy="541.1" r="2.4"/>
<circle class="o" cx="451.1" cy="541.1" r="2.4"/>
<circle class="o" cx="430.8" cy="596.6" r="2.4"/>
<circle class="o" cx="451.1" cy="596.6" r="2.4"/>
<circle class="o" cx="420.9" cy="558.4" r="2.4"/>
<circle class="o" cx="460.9" cy="558.4" r="2.4"/>
<circle class="o" cx="420.9" cy="579.4" r="2.4"/>
<circle class="o" cx="460.9" cy="579.4" r="2.4"/>
<circle class="o" cx="426.0" cy="564.0" r="2.4"/>
<circle class="o" cx="455.9" cy="564.0" r="2.4"/>
<circle class="o" cx="426.0" cy="573.8" r="2.4"/>
<circle class="o" cx="455.9" cy="573.8" r="2.4"/>
<circle class="o" cx="435.9" cy="565.5" r="2.4"/>
<circle class="o" cx="445.9" cy="565.5" r="2.4"/>
<circle class="o" cx="435.9" cy="572.2" r="2.4"/>
<circle class="o" cx="445.9" cy="572.2" r="2.4"/>
<circle class="o" cx="430.4" cy="591.1" r="2.4"/>
<circle class="o" cx="451.4" cy="591.1" r="2.4"/>
<circle class="o" cx="430.4" cy="546.6" r="2.4"/>
<circle class="o" cx="451.4" cy="546.6" r="2.4"/>
<circle class="o" cx="444.2" cy="553.7" r="2.4"/>
<circle class="o" cx="437.7" cy="553.7" r="2.4"/>
<circle class="o" cx="444.2" cy="584.0" r="2.4"/>
<circle class="o" cx="437.7" cy="584.0" r="2.4"/>
<circle class="o" cx="418.9" cy="599.8" r="2.4"/>
<circle class="o" cx="462.9" cy="599.8" r="2.4"/>
<circle class="o" cx="418.9" cy="639.5" r="2.4"/>
<circle class="o" cx="462.9" cy="639.5" r="2.4"/>
<circle class="o" cx="430.8" cy="592.0" r="2.4"/>
<circle class="o" cx="451.1" cy="592.0" r="2.4"/>
<circle class="o" cx="430.8" cy="647.2" r="2.4"/>
<circle class="o" cx="451.1" cy="647.2" r="2.4"/>
<circle class="o" cx="437.8" cy="605.2" r="2.4"/>
<circle class="o" cx="444.1" cy="605.2" r="2.4"/>
<circle class="o" cx="437.8" cy="634.0" r="2.4"/>
<circle class="o" cx="444.1" cy="634.0" r="2.4"/>
<circle class="o" cx="420.9" cy="609.5" r="2.4"/>
<circle class="o" cx="460.9" cy="609.5" r="2.4"/>
<circle class="o" cx="420.9" cy="629.7" r="2.4"/>
<circle class="o" cx="460.9" cy="629.7" r="2.4"/>
<circle class="o" cx="426.0" cy="614.8" r="2.4"/>
<circle class="o" cx="455.9" cy="614.8" r="2.4"/>
<circle class="o" cx="426.0" cy="624.5" r="2.4"/>
<circle class="o" cx="455.9" cy="624.5" r="2.4"/>
<circle class="o" cx="435.9" cy="616.6" r="2.4"/>
<circle class="o" cx="445.9" cy="616.6" r="2.4"/>
<circle class="o" cx="435.9" cy="622.6" r="2.4"/>
<circle class="o" cx="445.9" cy="622.6" r="2.4"/>
<circle class="o" cx="430.4" cy="642.0" r="2.4"/>
<circle class="o" cx="451.4" cy="642.0" r="2.4"/>
<circle class="o" cx="430.4" cy="597.3" r="2.4"/>
<circle class="o" cx="451.4" cy="597.3" r="2.4"/>
<circle class="o" cx="418.9" cy="650.1" r="2.4"/>
<circle class="o" cx="462.9" cy="650.1" r="2.4"/>
<circle class="o" cx="430.8" cy="642.6" r="2.4"/>
<circle class="o" cx="451.1" cy="642.6" r="2.4"/>
<circle class="o" cx="420.9" cy="659.9" r="2.4"/>
<circle class="o" cx="460.9" cy="659.9" r="2.4"/>
<circle class="o" cx="426.0" cy="665.5" r="2.4"/>
<circle class="o" cx="455.9" cy="665.5" r="2.4"/>
<circle class="o" cx="430.4" cy="648.1" r="2.4"/>
<circle class="o" cx="451.4" cy="648.1" r="2.4"/>
<circle class="o" cx="444.2" cy="655.2" r="2.4"/>
<circle class="o" cx="437.7" cy="655.2" r="2.4"/>
<circle class="o" cx="469.2" cy="436.5" r="2.4"/>
<circle class="o" cx="514.1" cy="436.5" r="2.4"/>
<circle class="o" cx="481.0" cy="438.5" r="2.4"/>
<circle class="o" cx="502.4" cy="438.5" r="2.4"/>
<circle class="o" cx="471.2" cy="426.7" r="2.4"/>
<circle class="o" cx="512.1" cy="426.7" r="2.4"/>
<circle class="o" cx="476.7" cy="421.5" r="2.4"/>
<circle class="o" cx="506.7" cy="421.5" r="2.4"/>
<circle class="o" cx="494.8" cy="431.9" r="2.4"/>
<circle class="o" cx="488.6" cy="431.9" r="2.4"/>
<circle class="o" cx="469.6" cy="447.5" r="2.4"/>
<circle class="o" cx="513.8" cy="447.5" r="2.4"/>
<circle class="o" cx="469.6" cy="487.2" r="2.4"/>
<circle class="o" cx="513.8" cy="487.2" r="2.4"/>
<circle class="o" cx="481.0" cy="445.1" r="2.4"/>
<circle class="o" cx="502.4" cy="445.1" r="2.4"/>
<circle class="o" cx="481.0" cy="489.6" r="2.4"/>
<circle class="o" cx="502.4" cy="489.6" r="2.4"/>
<circle class="o" cx="511.8" cy="456.5" r="2.4"/>
<circle class="o" cx="471.6" cy="456.5" r="2.4"/>
<circle class="o" cx="511.8" cy="478.2" r="2.4"/>
<circle class="o" cx="471.6" cy="478.2" r="2.4"/>
<circle class="o" cx="476.7" cy="462.1" r="2.4"/>
<circle class="o" cx="506.7" cy="462.1" r="2.4"/>
<circle class="o" cx="476.7" cy="472.6" r="2.4"/>
<circle class="o" cx="506.7" cy="472.6" r="2.4"/>
<circle class="o" cx="486.6" cy="464.0" r="2.4"/>
<circle class="o" cx="496.8" cy="464.0" r="2.4"/>
<circle class="o" cx="486.6" cy="470.8" r="2.4"/>
<circle class="o" cx="496.8" cy="470.8" r="2.4"/>
<circle class="o" cx="488.5" cy="482.2" r="2.4"/>
<circle class="o" cx="494.9" cy="482.2" r="2.4"/>
<circle class="o" cx="488.5" cy="452.6" r="2.4"/>
<circle class="o" cx="494.9" cy="452.6" r="2.4"/>
<circle class="o" cx="469.2" cy="498.2" r="2.4"/>
<circle class="o" cx="514.1" cy="498.2" r="2.4"/>
<circle class="o" cx="469.2" cy="538.0" r="2.4"/>
<circle class="o" cx="514.1" cy="538.0" r="2.4"/>
<circle class="o" cx="481.0" cy="496.2" r="2.4"/>
<circle class="o" cx="502.4" cy="496.2" r="2.4"/>
<circle class="o" cx="481.0" cy="540.0" r="2.4"/>
<circle class="o" cx="502.4" cy="540.0" r="2.4"/>
<circle class="o" cx="471.2" cy="508.1" r="2.4"/>
<circle class="o" cx="512.1" cy="508.1" r="2.4"/>
<circle class="o" cx="471.2" cy="528.2" r="2.4"/>
<circle class="o" cx="512.1" cy="528.2" r="2.4"/>
<circle class="o" cx="476.7" cy="513.2" r="2.4"/>
<circle class="o" cx="506.7" cy="513.2" r="2.4"/>
<circle class="o" cx="476.7" cy="523.0" r="2.4"/>
<circle class="o" cx="506.7" cy="523.0" r="2.4"/>
<circle class="o" cx="486.6" cy="515.1" r="2.4"/>
<circle class="o" cx="496.8" cy="515.1" r="2.4"/>
<circle class="o" cx="486.6" cy="521.1" r="2.4"/>
<circle class="o" cx="496.8" cy="521.1" r="2.4"/>
<circle class="o" cx="494.8" cy="533.4" r="2.4"/>
<circle class="o" cx="488.6" cy="533.4" r="2.4"/>
<circle class="o" cx="494.8" cy="502.9" r="2.4"/>
<circle class="o" cx="488.6" cy="502.9" r="2.4"/>
<circle class="o" cx="469.6" cy="549.0" r="2.4"/>
<circle class="o" cx="513.8" cy="549.0" r="2.4"/>
<circle class="o" cx="469.6" cy="588.8" r="2.4"/>
<circle class="o" cx="513.8" cy="588.8" r="2.4"/>
<circle class="o" cx="481.0" cy="546.6" r="2.4"/>
<circle class="o" cx="502.4" cy="546.6" r="2.4"/>
<circle class="o" cx="481.0" cy="591.1" r="2.4"/>
<circle class="o" cx="502.4" cy="591.1" r="2.4"/>
<circle class="o" cx="511.8" cy="558.0" r="2.4"/>
<circle class="o" cx="471.6" cy="558.0" r="2.4"/>
<circle class="o" cx="511.8" cy="579.8" r="2.4"/>
<circle class="o" cx="471.6" cy="579.8" r="2.4"/>
<circle class="o" cx="476.7" cy="563.6" r="2.4"/>
<circle class="o" cx="506.7" cy="563.6" r="2.4"/>
<circle class="o" cx="476.7" cy="574.1" r="2.4"/>
<circle class="o" cx="506.7" cy="574.1" r="2.4"/>
<circle class="o" cx="486.6" cy="565.5" r="2.4"/>
<circle class="o" cx="496.8" cy="565.5" r="2.4"/>
<circle class="o" cx="486.6" cy="572.2" r="2.4"/>
<circle class="o" cx="496.8" cy="572.2" r="2.4"/>
<circle class="o" cx="488.5" cy="583.7" r="2.4"/>
<circle class="o" cx="494.9" cy="583.7" r="2.4"/>
<circle class="o" cx="488.5" cy="554.0" r="2.4"/>
<circle class="o" cx="494.9" cy="554.0" r="2.4"/>
<circle class="o" cx="469.2" cy="599.8" r="2.4"/>
<circle class="o" cx="514.1" cy="599.8" r="2.4"/>
<circle class="o" cx="469.2" cy="639.5" r="2.4"/>
<circle class="o" cx="514.1" cy="639.5" r="2.4"/>
<circle class="o" cx="481.0" cy="597.8" r="2.4"/>
<circle class="o" cx="502.4" cy="597.8" r="2.4"/>
<circle class="o" cx="481.0" cy="641.5" r="2.4"/>
<circle class="o" cx="502.4" cy="641.5" r="2.4"/>
<circle class="o" cx="471.2" cy="609.5" r="2.4"/>
<circle class="o" cx="512.1" cy="609.5" r="2.4"/>
<circle class="o" cx="471.2" cy="629.7" r="2.4"/>
<circle class="o" cx="512.1" cy="629.7" r="2.4"/>
<circle class="o" cx="476.7" cy="614.8" r="2.4"/>
<circle class="o" cx="506.7" cy="614.8" r="2.4"/>
<circle class="o" cx="476.7" cy="624.5" r="2.4"/>
<circle class="o" cx="506.7" cy="624.5" r="2.4"/>
<circle class="o" cx="486.6" cy="616.6" r="2.4"/>
<circle class="o" cx="496.8" cy="616.6" r="2.4"/>
<circle class="o" cx="486.6" cy="622.6" r="2.4"/>
<circle class="o" cx="496.8" cy="622.6" r="2.4"/>
<circle class="o" cx="494.8" cy="634.9" r="2.4"/>
<circle class="o" cx="488.6" cy="634.9" r="2.4"/>
<circle class="o" cx="494.8" cy="604.4" r="2.4"/>
<circle class="o" cx="488.6" cy="604.4" r="2.4"/>
<circle class="o" cx="469.6" cy="650.5" r="2.4"/>
<circle class="o" cx="513.8" cy="650.5" r="2.4"/>
<circle class="o" cx="481.0" cy="648.1" r="2.4"/>
<circle class="o" cx="502.4" cy="648.1" r="2.4"/>
<circle class="o" cx="511.8" cy="659.5" r="2.4"/>
<circle class="o" cx="471.6" cy="659.5" r="2.4"/>
<circle class="o" cx="476.7" cy="665.1" r="2.4"/>
<circle class="o" cx="506.7" cy="665.1" r="2.4"/>
<circle class="o" cx="488.5" cy="655.5" r="2.4"/>
<circle class="o" cx="494.9" cy="655.5" r="2.4"/>
<circle class="o" cx="520.4" cy="436.5" r="2.4"/>
<circle class="o" cx="564.4" cy="436.5" r="2.4"/>
<circle class="o" cx="532.3" cy="444.2" r="2.4"/>
<circle class="o" cx="552.5" cy="444.2" r="2.4"/>
<circle class="o" cx="539.3" cy="431.0" r="2.4"/>
<circle class="o" cx="545.5" cy="431.0" r="2.4"/>
<circle class="o" cx="522.4" cy="426.7" r="2.4"/>
<circle class="o" cx="562.4" cy="426.7" r="2.4"/>
<circle class="o" cx="527.5" cy="421.5" r="2.4"/>
<circle class="o" cx="557.3" cy="421.5" r="2.4"/>
<circle class="o" cx="531.9" cy="438.9" r="2.4"/>
<circle class="o" cx="552.9" cy="438.9" r="2.4"/>
<circle class="o" cx="520.4" cy="447.1" r="2.4"/>
<circle class="o" cx="564.4" cy="447.1" r="2.4"/>
<circle class="o" cx="520.4" cy="487.6" r="2.4"/>
<circle class="o" cx="564.4" cy="487.6" r="2.4"/>
<circle class="o" cx="532.3" cy="439.6" r="2.4"/>
<circle class="o" cx="552.5" cy="439.6" r="2.4"/>
<circle class="o" cx="532.3" cy="495.1" r="2.4"/>
<circle class="o" cx="552.5" cy="495.1" r="2.4"/>
<circle class="o" cx="522.4" cy="456.9" r="2.4"/>
<circle class="o" cx="562.4" cy="456.9" r="2.4"/>
<circle class="o" cx="522.4" cy="477.9" r="2.4"/>
<circle class="o" cx="562.4" cy="477.9" r="2.4"/>
<circle class="o" cx="527.5" cy="462.5" r="2.4"/>
<circle class="o" cx="557.3" cy="462.5" r="2.4"/>
<circle class="o" cx="527.5" cy="472.2" r="2.4"/>
<circle class="o" cx="557.3" cy="472.2" r="2.4"/>
<circle class="o" cx="537.4" cy="464.0" r="2.4"/>
<circle class="o" cx="547.4" cy="464.0" r="2.4"/>
<circle class="o" cx="537.4" cy="470.8" r="2.4"/>
<circle class="o" cx="547.4" cy="470.8" r="2.4"/>
<circle class="o" cx="531.9" cy="489.6" r="2.4"/>
<circle class="o" cx="552.9" cy="489.6" r="2.4"/>
<circle class="o" cx="531.9" cy="445.1" r="2.4"/>
<circle class="o" cx="552.9" cy="445.1" r="2.4"/>
<circle class="o" cx="545.7" cy="452.2" r="2.4"/>
<circle class="o" cx="539.1" cy="452.2" r="2.4"/>
<circle class="o" cx="545.7" cy="482.6" r="2.4"/>
<circle class="o" cx="539.1" cy="482.6" r="2.4"/>
<circle class="o" cx="520.4" cy="498.2" r="2.4"/>
<circle class="o" cx="564.4" cy="498.2" r="2.4"/>
<circle class="o" cx="520.4" cy="538.0" r="2.4"/>
<circle class="o" cx="564.4" cy="538.0" r="2.4"/>
<circle class="o" cx="532.3" cy="490.6" r="2.4"/>
<circle class="o" cx="552.5" cy="490.6" r="2.4"/>
<circle class="o" cx="532.3" cy="545.7" r="2.4"/>
<circle class="o" cx="552.5" cy="545.7" r="2.4"/>
<circle class="o" cx="539.3" cy="503.8" r="2.4"/>
<circle class="o" cx="545.5" cy="503.8" r="2.4"/>
<circle class="o" cx="539.3" cy="532.5" r="2.4"/>
<circle class="o" cx="545.5" cy="532.5" r="2.4"/>
<circle class="o" cx="522.4" cy="508.1" r="2.4"/>
<circle class="o" cx="562.4" cy="508.1" r="2.4"/>
<circle class="o" cx="522.4" cy="528.2" r="2.4"/>
<circle class="o" cx="562.4" cy="528.2" r="2.4"/>
<circle class="o" cx="527.5" cy="513.2" r="2.4"/>
<circle class="o" cx="557.3" cy="513.2" r="2.4"/>
<circle class="o" cx="527.5" cy="523.0" r="2.4"/>
<circle class="o" cx="557.3" cy="523.0" r="2.4"/>
<circle class="o" cx="537.4" cy="515.1" r="2.4"/>
<circle class="o" cx="547.4" cy="515.1" r="2.4"/>
<circle class="o" cx="537.4" cy="521.1" r="2.4"/>
<circle class="o" cx="547.4" cy="521.1" r="2.4"/>
<circle class="o" cx="531.9" cy="540.5" r="2.4"/>
<circle class="o" cx="552.9" cy="540.5" r="2.4"/>
<circle class="o" cx="531.9" cy="495.8" r="2.4"/>
<circle class="o" cx="552.9" cy="495.8" r="2.4"/>
<circle class="o" cx="520.4" cy="548.6" r="2.4"/>
<circle class="o" cx="564.4" cy="548.6" r="2.4"/>
<circle class="o" cx="520.4" cy="589.1" r="2.4"/>
<circle class="o" cx="564.4" cy="589.1" r="2.4"/>
<circle class="o" cx="532.3" cy="541.1" r="2.4"/>
<circle class="o" cx="552.5" cy="541.1" r="2.4"/>
<circle class="o" cx="532.3" cy="596.6" r="2.4"/>
<circle class="o" cx="552.5" cy="596.6" r="2.4"/>
<circle class="o" cx="522.4" cy="558.4" r="2.4"/>
<circle class="o" cx="562.4" cy="558.4" r="2.4"/>
<circle class="o" cx="522.4" cy="579.4" r="2.4"/>
<circle class="o" cx="562.4" cy="579.4" r="2.4"/>
<circle class="o" cx="527.5" cy="564.0" r="2.4"/>
<circle class="o" cx="557.3" cy="564.0" r="2.4"/>
<circle class="o" cx="527.5" cy="573.8" r="2.4"/>
<circle class="o" cx="557.3" cy="573.8" r="2.4"/>
<circle class="o" cx="537.4" cy="565.5" r="2.4"/>
<circle class="o" cx="547.4" cy="565.5" r="2.4"/>
<circle class="o" cx="537.4" cy="572.2" r="2.4"/>
<circle class="o" cx="547.4" cy="572.2" r="2.4"/>
<circle class="o" cx="531.9" cy="591.1" r="2.4"/>
<circle class="o" cx="552.9" cy="591.1" r="2.4"/>
<circle class="o" cx="531.9" cy="546.6" r="2.4"/>
<circle class="o" cx="552.9" cy="546.6" r="2.4"/>
<circle class="o" cx="545.7" cy="553.7" r="2.4"/>
<circle class="o" cx="539.1" cy="553.7" r="2.4"/>
<circle class="o" cx="545.7" cy="584.0" r="2.4"/>
<circle class="o" cx="539.1" cy="584.0" r="2.4"/>
<circle class="o" cx="520.4" cy="599.8" r="2.4"/>
<circle class="o" cx="564.4" cy="599.8" r="2.4"/>
<circle class="o" cx="520.4" cy="639.5" r="2.4"/>
<circle class="o" cx="564.4" cy="639.5" r="2.4"/>
<circle class="o" cx="532.3" cy="592.0" r="2.4"/>
<circle class="o" cx="552.5" cy="592.0" r="2.4"/>
<circle class="o" cx="532.3" cy="647.2" r="2.4"/>
<circle class="o" cx="552.5" cy="647.2" r="2.4"/>
<circle class="o" cx="539.3" cy="605.2" r="2.4"/>
<circle class="o" cx="545.5" cy="605.2" r="2.4"/>
<circle class="o" cx="539.3" cy="634.0" r="2.4"/>
<circle class="o" cx="545.5" cy="634.0" r="2.4"/>
<circle class="o" cx="522.4" cy="609.5" r="2.4"/>
<circle class="o" cx="562.4" cy="609.5" r="2.4"/>
<circle class="o" cx="522.4" cy="629.7" r="2.4"/>
<circle class="o" cx="562.4" cy="629.7" r="2.4"/>
<circle class="o" cx="527.5" cy="614.8" r="2.4"/>
<circle class="o" cx="557.3" cy="614.8" r="2.4"/>
<circle class="o" cx="527.5" cy="624.5" r="2.4"/>
<circle class="o" cx="557.3" cy="624.5" r="2.4"/>
<circle class="o" cx="537.4" cy="616.6" r="2.4"/>
<circle class="o" cx="547.4" cy="616.6" r="2.4"/>
<circle class="o" cx="537.4" cy="622.6" r="2.4"/>
<circle class="o" cx="547.4" cy="622.6" r="2.4"/>
<circle class="o" cx="531.9" cy="642.0" r="2.4"/>
<circle class="o" cx="552.9" cy="642.0" r="2.4"/>
<circle class="o" cx="531.9" cy="597.3" r="2.4"/>
<circle class="o" cx="552.9" cy="597.3" r="2.4"/>
<circle class="o" cx="520.4" cy="650.1" r="2.4"/>
<circle class="o" cx="564.4" cy="650.1" r="2.4"/>
<circle class="o" cx="532.3" cy="642.6" r="2.4"/>
<circle class="o" cx="552.5" cy="642.6" r="2.4"/>
<circle class="o" cx="522.4" cy="659.9" r="2.4"/>
<circle class="o" cx="562.4" cy="659.9" r="2.4"/>
<circle class="o" cx="527.5" cy="665.5" r="2.4"/>
<circle class="o" cx="557.3" cy="665.5" r="2.4"/>
<circle class="o" cx="531.9" cy="648.1" r="2.4"/>
<circle class="o" cx="552.9" cy="648.1" r="2.4"/>
<circle class="o" cx="545.7" cy="655.2" r="2.4"/>
<circle class="o" cx="539.1" cy="655.2" r="2.4"/>
<circle class="o" cx="570.7" cy="436.5" r="2.4"/>
<circle class="o" cx="582.5" cy="438.5" r="2.4"/>
<circle class="o" cx="572.7" cy="426.7" r="2.4"/>
<circle class="o" cx="578.2" cy="421.5" r="2.4"/>
<circle class="o" cx="571.1" cy="447.5" r="2.4"/>
<circle class="o" cx="571.1" cy="487.2" r="2.4"/>
<circle class="o" cx="582.5" cy="445.1" r="2.4"/>
<circle class="o" cx="582.5" cy="489.6" r="2.4"/>
<circle class="o" cx="573.0" cy="456.5" r="2.4"/>
<circle class="o" cx="573.0" cy="478.2" r="2.4"/>
<circle class="o" cx="578.2" cy="462.1" r="2.4"/>
<circle class="o" cx="578.2" cy="472.6" r="2.4"/>
<circle class="o" cx="588.1" cy="464.0" r="2.4"/>
<circle class="o" cx="588.1" cy="470.8" r="2.4"/>
<circle class="o" cx="570.7" cy="498.2" r="2.4"/>
<circle class="o" cx="570.7" cy="538.0" r="2.4"/>
<circle class="o" cx="582.5" cy="496.2" r="2.4"/>
<circle class="o" cx="582.5" cy="540.0" r="2.4"/>
<circle class="o" cx="572.7" cy="508.1" r="2.4"/>
<circle class="o" cx="572.7" cy="528.2" r="2.4"/>
<circle class="o" cx="578.2" cy="513.2" r="2.4"/>
<circle class="o" cx="578.2" cy="523.0" r="2.4"/>
<circle class="o" cx="588.1" cy="515.1" r="2.4"/>
<circle class="o" cx="588.1" cy="521.1" r="2.4"/>
<circle class="o" cx="571.1" cy="549.0" r="2.4"/>
<circle class="o" cx="571.1" cy="588.8" r="2.4"/>
<circle class="o" cx="582.5" cy="546.6" r="2.4"/>
<circle class="o" cx="582.5" cy="591.1" r="2.4"/>
<circle class="o" cx="573.0" cy="558.0" r="2.4"/>
<circle class="o" cx="573.0" cy="579.8" r="2.4"/>
<circle class="o" cx="578.2" cy="563.6" r="2.4"/>
<circle class="o" cx="578.2" cy="574.1" r="2.4"/>
<circle class="o" cx="588.1" cy="565.5" r="2.4"/>
<circle class="o" cx="588.1" cy="572.2" r="2.4"/>
<circle class="o" cx="570.7" cy="599.8" r="2.4"/>
<circle class="o" cx="570.7" cy="639.5" r="2.4"/>
<circle class="o" cx="582.5" cy="597.8" r="2.4"/>
<circle class="o" cx="582.5" cy="641.5" r="2.4"/>
<circle class="o" cx="572.7" cy="609.5" r="2.4"/>
<circle class="o" cx="572.7" cy="629.7" r="2.4"/>
<circle class="o" cx="578.2" cy="614.8" r="2.4"/>
<circle class="o" cx="578.2" cy="624.5" r="2.4"/>
<circle class="o" cx="588.1" cy="616.6" r="2.4"/>
<circle class="o" cx="588.1" cy="622.6" r="2.4"/>
<circle class="o" cx="571.1" cy="650.5" r="2.4"/>
<circle class="o" cx="582.5" cy="648.1" r="2.4"/>
<circle class="o" cx="573.0" cy="659.5" r="2.4"/>
<circle class="o" cx="578.2" cy="665.1" r="2.4"/>
</g>
<rect x="498.5" y="169.4" width="91.9" height="123.5" rx="2.5" ry="2.5" fill="#ffffff" fill-opacity="0.85" stroke="#d0d0d0" stroke-width="1"/>
<line x1="502" y1="180.7" x2="533" y2="180.7" stroke="#ef7d22" stroke-width="3.8"/>
<text x="542.30" y="185.40" font-size="13.2" text-anchor="start" textLength="21.6" lengthAdjust="spacingAndGlyphs" >GD</text>
<line x1="502" y1="200.6" x2="533" y2="200.6" stroke="#e41f1f" stroke-width="3.8"/>
<text x="542.30" y="205.28" font-size="13.2" text-anchor="start" textLength="23.2" lengthAdjust="spacingAndGlyphs" >MC</text>
<line x1="502" y1="220.5" x2="533" y2="220.5" stroke="#56b949" stroke-width="3.8"/>
<text x="542.30" y="225.16" font-size="13.2" text-anchor="start" textLength="19.6" lengthAdjust="spacingAndGlyphs" >SA</text>
<line x1="502" y1="240.3" x2="533" y2="240.3" stroke="#4381be" stroke-width="3.8"/>
<text x="542.30" y="245.04" font-size="13.2" text-anchor="start" textLength="42.6" lengthAdjust="spacingAndGlyphs" >REMC</text>
<line x1="502" y1="260.2" x2="533" y2="260.2" stroke="#9448ad" stroke-width="3.8"/>
<text x="542.30" y="264.92" font-size="13.2" text-anchor="start" textLength="21.0" lengthAdjust="spacingAndGlyphs" >GA</text>
<line x1="502" y1="280.1" x2="533" y2="280.1" stroke="#a6542b" stroke-width="3.8"/>
<text x="542.30" y="284.80" font-size="13.2" text-anchor="start" textLength="20.4" lengthAdjust="spacingAndGlyphs" >HY</text>
<rect x="112.6" y="50.8" width="484.80" height="361.00" fill="none" stroke="#000" stroke-width="1.1"/>
<rect x="112.6" y="411.8" width="484.80" height="361.20" fill="none" stroke="#000" stroke-width="1.1"/>
<path d="M112.60,50.8v-4.6 M112.60,773.0v4.6 M126.07,50.8v-2.6 M126.07,773.0v2.6 M139.53,50.8v-2.6 M139.53,773.0v2.6 M153.00,50.8v-2.6 M153.00,773.0v2.6 M166.47,50.8v-2.6 M166.47,773.0v2.6 M179.93,50.8v-4.6 M179.93,773.0v4.6 M193.40,50.8v-2.6 M193.40,773.0v2.6 M206.87,50.8v-2.6 M206.87,773.0v2.6 M220.33,50.8v-2.6 M220.33,773.0v2.6 M233.80,50.8v-2.6 M233.80,773.0v2.6 M247.27,50.8v-4.6 M247.27,773.0v4.6 M260.73,50.8v-2.6 M260.73,773.0v2.6 M274.20,50.8v-2.6 M274.20,773.0v2.6 M287.67,50.8v-2.6 M287.67,773.0v2.6 M301.13,50.8v-2.6 M301.13,773.0v2.6 M314.60,50.8v-4.6 M314.60,773.0v4.6 M328.07,50.8v-2.6 M328.07,773.0v2.6 M341.53,50.8v-2.6 M341.53,773.0v2.6 M355.00,50.8v-2.6 M355.00,773.0v2.6 M368.47,50.8v-2.6 M368.47,773.0v2.6 M381.93,50.8v-4.6 M381.93,773.0v4.6 M395.40,50.8v-2.6 M395.40,773.0v2.6 M408.87,50.8v-2.6 M408.87,773.0v2.6 M422.33,50.8v-2.6 M422.33,773.0v2.6 M435.80,50.8v-2.6 M435.80,773.0v2.6 M449.27,50.8v-4.6 M449.27,773.0v4.6 M462.73,50.8v-2.6 M462.73,773.0v2.6 M476.20,50.8v-2.6 M476.20,773.0v2.6 M489.67,50.8v-2.6 M489.67,773.0v2.6 M503.13,50.8v-2.6 M503.13,773.0v2.6 M516.60,50.8v-4.6 M516.60,773.0v4.6 M530.07,50.8v-2.6 M530.07,773.0v2.6 M543.53,50.8v-2.6 M543.53,773.0v2.6 M557.00,50.8v-2.6 M557.00,773.0v2.6 M570.47,50.8v-2.6 M570.47,773.0v2.6 M583.93,50.8v-4.6 M583.93,773.0v4.6 M597.40,50.8v-2.6 M597.40,773.0v2.6 M112.6,411.80h-4.6 M112.6,773.00h-4.6 M112.6,402.17h-2.6 M112.6,763.37h-2.6 M112.6,392.55h-2.6 M112.6,753.74h-2.6 M112.6,382.92h-2.6 M112.6,744.10h-2.6 M112.6,373.29h-2.6 M112.6,734.47h-2.6 M112.6,363.67h-4.6 M112.6,724.84h-4.6 M112.6,354.04h-2.6 M112.6,715.21h-2.6 M112.6,344.41h-2.6 M112.6,705.58h-2.6 M112.6,334.79h-2.6 M112.6,695.94h-2.6 M112.6,325.16h-2.6 M112.6,686.31h-2.6 M112.6,315.53h-4.6 M112.6,676.68h-4.6 M112.6,305.91h-2.6 M112.6,667.05h-2.6 M112.6,296.28h-2.6 M112.6,657.42h-2.6 M112.6,286.65h-2.6 M112.6,647.78h-2.6 M112.6,277.03h-2.6 M112.6,638.15h-2.6 M112.6,267.40h-4.6 M112.6,628.52h-4.6 M112.6,257.77h-2.6 M112.6,618.89h-2.6 M112.6,248.15h-2.6 M112.6,609.26h-2.6 M112.6,238.52h-2.6 M112.6,599.62h-2.6 M112.6,228.89h-2.6 M112.6,589.99h-2.6 M112.6,219.27h-4.6 M112.6,580.36h-4.6 M112.6,209.64h-2.6 M112.6,570.73h-2.6 M112.6,200.01h-2.6 M112.6,561.10h-2.6 M112.6,190.39h-2.6 M112.6,551.46h-2.6 M112.6,180.76h-2.6 M112.6,541.83h-2.6 M112.6,171.13h-4.6 M112.6,532.20h-4.6 M112.6,161.51h-2.6 M112.6,522.57h-2.6 M112.6,151.88h-2.6 M112.6,512.94h-2.6 M112.6,142.25h-2.6 M112.6,503.30h-2.6 M112.6,132.63h-2.6 M112.6,493.67h-2.6 M112.6,123.00h-4.6 M112.6,484.04h-4.6 M112.6,113.37h-2.6 M112.6,474.41h-2.6 M112.6,103.75h-2.6 M112.6,464.78h-2.6 M112.6,94.12h-2.6 M112.6,455.14h-2.6 M112.6,84.49h-2.6 M112.6,445.51h-2.6 M112.6,74.87h-4.6 M112.6,435.88h-4.6 M112.6,65.24h-2.6 M112.6,426.25h-2.6 M112.6,55.61h-2.6 M112.6,416.62h-2.6 M597.4,50.80h4.6 M597.4,65.84h2.6 M597.4,80.88h2.6 M597.4,95.92h2.6 M597.4,110.97h4.6 M597.4,126.01h2.6 M597.4,141.05h2.6 M597.4,156.09h2.6 M597.4,171.13h4.6 M597.4,186.18h2.6 M597.4,201.22h2.6 M597.4,216.26h2.6 M597.4,231.30h4.6 M597.4,246.34h2.6 M597.4,261.38h2.6 M597.4,276.43h2.6 M597.4,291.47h4.6 M597.4,306.51h2.6 M597.4,321.55h2.6 M597.4,336.59h2.6 M597.4,351.63h4.6 M597.4,366.68h2.6 M597.4,381.72h2.6 M597.4,396.76h2.6 M597.4,411.80h4.6" stroke="#000" stroke-width="1.1" fill="none"/>
<text x="112.60" y="37.00" font-size="18.2" text-anchor="middle" textLength="12.6" lengthAdjust="spacingAndGlyphs" >0</text>
<text x="112.60" y="795.80" font-size="18.2" text-anchor="middle" textLength="12.6" lengthAdjust="spacingAndGlyphs" >0</text>
<text x="179.93" y="37.00" font-size="18.2" text-anchor="middle" textLength="39.6" lengthAdjust="spacingAndGlyphs" >500</text>
<text x="179.93" y="795.80" font-size="18.2" text-anchor="middle" textLength="39.6" lengthAdjust="spacingAndGlyphs" >500</text>
<text x="247.27" y="37.00" font-size="18.2" text-anchor="middle" textLength="50.2" lengthAdjust="spacingAndGlyphs" >1000</text>
<text x="247.27" y="795.80" font-size="18.2" text-anchor="middle" textLength="50.2" lengthAdjust="spacingAndGlyphs" >1000</text>
<text x="314.60" y="37.00" font-size="18.2" text-anchor="middle" textLength="50.2" lengthAdjust="spacingAndGlyphs" >1500</text>
<text x="314.60" y="795.80" font-size="18.2" text-anchor="middle" textLength="50.2" lengthAdjust="spacingAndGlyphs" >1500</text>
<text x="381.93" y="37.00" font-size="18.2" text-anchor="middle" textLength="50.2" lengthAdjust="spacingAndGlyphs" >2000</text>
<text x="381.93" y="795.80" font-size="18.2" text-anchor="middle" textLength="50.2" lengthAdjust="spacingAndGlyphs" >2000</text>
<text x="449.27" y="37.00" font-size="18.2" text-anchor="middle" textLength="50.2" lengthAdjust="spacingAndGlyphs" >2500</text>
<text x="449.27" y="795.80" font-size="18.2" text-anchor="middle" textLength="50.2" lengthAdjust="spacingAndGlyphs" >2500</text>
<text x="516.60" y="37.00" font-size="18.2" text-anchor="middle" textLength="50.2" lengthAdjust="spacingAndGlyphs" >3000</text>
<text x="516.60" y="795.80" font-size="18.2" text-anchor="middle" textLength="50.2" lengthAdjust="spacingAndGlyphs" >3000</text>
<text x="583.93" y="37.00" font-size="18.2" text-anchor="middle" textLength="50.2" lengthAdjust="spacingAndGlyphs" >3500</text>
<text x="583.93" y="795.80" font-size="18.2" text-anchor="middle" textLength="50.2" lengthAdjust="spacingAndGlyphs" >3500</text>
<text x="101.60" y="81.87" font-size="18.2" text-anchor="end" textLength="73.5" lengthAdjust="spacingAndGlyphs" >−28.45</text>
<text x="101.60" y="130.00" font-size="18.2" text-anchor="end" textLength="73.5" lengthAdjust="spacingAndGlyphs" >−28.46</text>
<text x="101.60" y="178.13" font-size="18.2" text-anchor="end" textLength="73.5" lengthAdjust="spacingAndGlyphs" >−28.47</text>
<text x="101.60" y="226.27" font-size="18.2" text-anchor="end" textLength="73.5" lengthAdjust="spacingAndGlyphs" >−28.48</text>
<text x="101.60" y="274.40" font-size="18.2" text-anchor="end" textLength="73.5" lengthAdjust="spacingAndGlyphs" >−28.49</text>
<text x="101.60" y="322.53" font-size="18.2" text-anchor="end" textLength="73.5" lengthAdjust="spacingAndGlyphs" >−28.50</text>
<text x="101.60" y="370.67" font-size="18.2" text-anchor="end" textLength="73.5" lengthAdjust="spacingAndGlyphs" >−28.51</text>
<text x="101.60" y="442.88" font-size="18.2" text-anchor="end" textLength="73.5" lengthAdjust="spacingAndGlyphs" >−28.45</text>
<text x="101.60" y="491.04" font-size="18.2" text-anchor="end" textLength="73.5" lengthAdjust="spacingAndGlyphs" >−28.46</text>
<text x="101.60" y="539.20" font-size="18.2" text-anchor="end" textLength="73.5" lengthAdjust="spacingAndGlyphs" >−28.47</text>
<text x="101.60" y="587.36" font-size="18.2" text-anchor="end" textLength="73.5" lengthAdjust="spacingAndGlyphs" >−28.48</text>
<text x="101.60" y="635.52" font-size="18.2" text-anchor="end" textLength="73.5" lengthAdjust="spacingAndGlyphs" >−28.49</text>
<text x="101.60" y="683.68" font-size="18.2" text-anchor="end" textLength="73.5" lengthAdjust="spacingAndGlyphs" >−28.50</text>
<text x="101.60" y="731.84" font-size="18.2" text-anchor="end" textLength="73.5" lengthAdjust="spacingAndGlyphs" >−28.51</text>
<text x="101.60" y="780.00" font-size="18.2" text-anchor="end" textLength="73.5" lengthAdjust="spacingAndGlyphs" >−28.52</text>
<text x="607.20" y="58.00" font-size="18.2" text-anchor="start" textLength="12.8" lengthAdjust="spacingAndGlyphs" >0</text>
<text x="607.20" y="118.17" font-size="18.2" text-anchor="start" textLength="52.5" lengthAdjust="spacingAndGlyphs" >2000</text>
<text x="607.20" y="178.33" font-size="18.2" text-anchor="start" textLength="52.5" lengthAdjust="spacingAndGlyphs" >4000</text>
<text x="607.20" y="238.50" font-size="18.2" text-anchor="start" textLength="52.5" lengthAdjust="spacingAndGlyphs" >6000</text>
<text x="607.20" y="298.67" font-size="18.2" text-anchor="start" textLength="52.5" lengthAdjust="spacingAndGlyphs" >8000</text>
<text x="607.20" y="358.83" font-size="18.2" text-anchor="start" textLength="65.0" lengthAdjust="spacingAndGlyphs" >10000</text>
<text x="607.20" y="419.00" font-size="18.2" text-anchor="start" textLength="65.0" lengthAdjust="spacingAndGlyphs" >12000</text>
<text x="354.40" y="16.40" font-size="21.8" text-anchor="middle" textLength="100.1" lengthAdjust="spacingAndGlyphs" >Time [s]</text>
<text x="354.40" y="816.20" font-size="21.8" text-anchor="middle" textLength="100.1" lengthAdjust="spacingAndGlyphs" >Time [s]</text>
<text transform="translate(17.0,231.3) rotate(-90)" x="0" y="0" font-size="21.8" text-anchor="middle" textLength="237.9" lengthAdjust="spacingAndGlyphs" font-family="Liberation Sans, sans-serif" font-weight="bold">Energy per Ion [eV]</text>
<text transform="translate(17.0,592.4) rotate(-90)" x="0" y="0" font-size="21.8" text-anchor="middle" textLength="237.9" lengthAdjust="spacingAndGlyphs" font-family="Liberation Sans, sans-serif" font-weight="bold">Energy per Ion [eV]</text>
<text transform="translate(680.1,231.3) rotate(-90)" x="0" y="0" font-size="20.5" text-anchor="middle" textLength="175.3" lengthAdjust="spacingAndGlyphs" font-family="Liberation Sans, sans-serif" font-weight="bold">Temperature [K]</text>
<text x="122.60" y="77.60" font-size="22.0" text-anchor="start" textLength="122.4" lengthAdjust="spacingAndGlyphs" style="stroke-width:0">a) Average</text>
<text x="122.90" y="442.40" font-size="22.0" text-anchor="start" textLength="126.0" lengthAdjust="spacingAndGlyphs" style="stroke-width:0">b) Min-Max</text>
</svg>
</body></html>
